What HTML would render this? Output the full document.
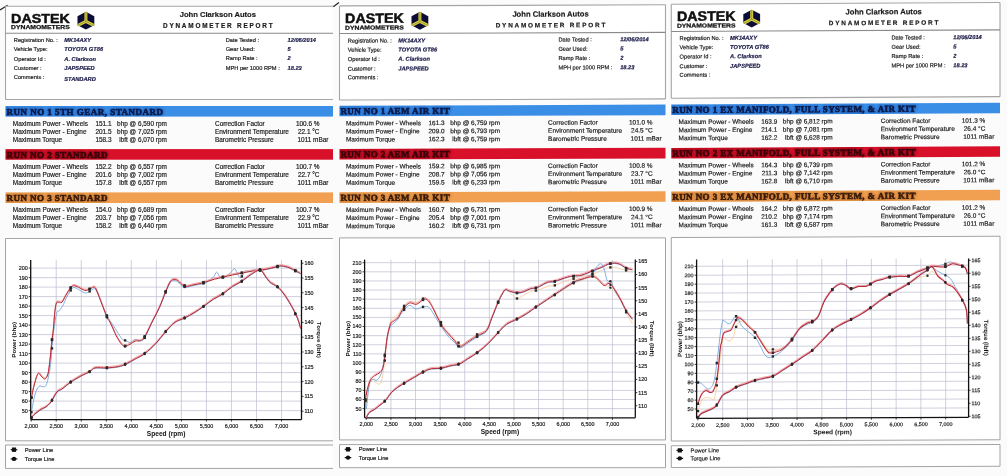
<!DOCTYPE html>
<html><head><meta charset="utf-8"><style>
html,body{margin:0;padding:0;background:#fbfbfb;width:1007px;height:476px;overflow:hidden;font-family:"Liberation Sans",sans-serif;}
svg{display:block;filter:blur(0.3px);}
</style></head><body>
<svg width="1007" height="476" viewBox="0 0 1007 476">
<rect x="0" y="0" width="1007" height="476" fill="#fbfbfb"/>
<defs><filter id="halo" x="-5%" y="-50%" width="110%" height="200%"><feGaussianBlur stdDeviation="1.3"/></filter></defs>
<line x1="0" y1="9.9" x2="7.6" y2="5.2" stroke="#222" stroke-width="1.2"/>
<line x1="333.3" y1="6.7" x2="339" y2="2.6" stroke="#222" stroke-width="1.2"/>
<g transform="matrix(1,0.0,0,1,0,-0)">
<rect x="5.5" y="6.2" width="327.5" height="93.3" fill="#fff"/>
<line x1="5.5" y1="6.2" x2="333" y2="6.2" stroke="#a4a4a4" stroke-width="1.1"/>
<line x1="5.5" y1="99.5" x2="333" y2="99.5" stroke="#a4a4a4" stroke-width="1.1"/>
<line x1="5.5" y1="6.2" x2="5.5" y2="99.5" stroke="#a4a4a4" stroke-width="1.1"/>
<line x1="5.5" y1="33.2" x2="333" y2="33.2" stroke="#8a8a8a" stroke-width="1.1"/>
<text x="11.1" y="22.7" font-family="Liberation Sans, sans-serif" font-size="13.6" font-weight="bold" font-style="normal" fill="#111" text-anchor="start" textLength="58.6" lengthAdjust="spacingAndGlyphs" stroke="#111" stroke-width="0.5">DASTEK</text>
<text x="11.1" y="29.4" font-family="Liberation Sans, sans-serif" font-size="5.8" font-weight="bold" font-style="normal" fill="#111" text-anchor="start" textLength="58.6" lengthAdjust="spacingAndGlyphs" stroke="#111" stroke-width="0.25">DYNAMOMETERS</text>
<clipPath id="hx5"><polygon points="85.9,11.8 94.3,16.25 94.3,25.15 85.9,29.6 77.5,25.15 77.5,16.25"/></clipPath>
<polygon points="85.9,11.8 94.3,16.25 94.3,25.15 85.9,29.6 77.5,25.15 77.5,16.25" fill="#0c0c38"/>
<g clip-path="url(#hx5)"><path d="M85.9,10.8 L85.9,21.3 L76.5,26.15 M85.9,21.3 L95.3,26.15" stroke="#d8d040" stroke-width="3.0" fill="none" stroke-linejoin="miter"/><path d="M85.9,10.8 L85.9,21.3 L76.5,26.15 M85.9,21.3 L95.3,26.15" stroke="#6a6a20" stroke-width="0.5" fill="none"/></g>
<text x="179.7" y="17.1" font-family="Liberation Sans, sans-serif" font-size="7.7" font-weight="bold" font-style="normal" fill="#1a1a1a" text-anchor="start" textLength="76.3" lengthAdjust="spacingAndGlyphs" stroke="#1a1a1a" stroke-width="0.18">John Clarkson Autos</text>
<text x="163" y="27.8" font-family="Liberation Sans, sans-serif" font-size="6.4" font-weight="bold" font-style="normal" fill="#1a1a1a" text-anchor="start" textLength="109.6" lengthAdjust="spacing" stroke="#1a1a1a" stroke-width="0.18">DYNAMOMETER REPORT</text>
<text x="13.8" y="42.3" font-family="Liberation Sans, sans-serif" font-size="5.7" font-weight="normal" font-style="normal" fill="#1a1a1a" text-anchor="start" stroke="#1a1a1a" stroke-width="0.18">Registration No. :</text>
<text x="64.3" y="42.3" font-family="Liberation Sans, sans-serif" font-size="5.7" font-weight="bold" font-style="italic" fill="#1c1c4a" text-anchor="start" stroke="#1c1c4a" stroke-width="0.2">MK14AXY</text>
<text x="13.8" y="51.4" font-family="Liberation Sans, sans-serif" font-size="5.7" font-weight="normal" font-style="normal" fill="#1a1a1a" text-anchor="start" stroke="#1a1a1a" stroke-width="0.18">Vehicle Type:</text>
<text x="64.3" y="51.4" font-family="Liberation Sans, sans-serif" font-size="5.7" font-weight="bold" font-style="italic" fill="#1c1c4a" text-anchor="start" stroke="#1c1c4a" stroke-width="0.2">TOYOTA GT86</text>
<text x="13.8" y="60.6" font-family="Liberation Sans, sans-serif" font-size="5.7" font-weight="normal" font-style="normal" fill="#1a1a1a" text-anchor="start" stroke="#1a1a1a" stroke-width="0.18">Operator Id :</text>
<text x="64.3" y="60.6" font-family="Liberation Sans, sans-serif" font-size="5.7" font-weight="bold" font-style="italic" fill="#1c1c4a" text-anchor="start" stroke="#1c1c4a" stroke-width="0.2">A. Clarkson</text>
<text x="13.8" y="70.3" font-family="Liberation Sans, sans-serif" font-size="5.7" font-weight="normal" font-style="normal" fill="#1a1a1a" text-anchor="start" stroke="#1a1a1a" stroke-width="0.18">Customer :</text>
<text x="64.3" y="70.3" font-family="Liberation Sans, sans-serif" font-size="5.7" font-weight="bold" font-style="italic" fill="#1c1c4a" text-anchor="start" stroke="#1c1c4a" stroke-width="0.2">JAPSPEED</text>
<text x="13.8" y="78.9" font-family="Liberation Sans, sans-serif" font-size="5.7" font-weight="normal" font-style="normal" fill="#1a1a1a" text-anchor="start" stroke="#1a1a1a" stroke-width="0.18">Comments :</text>
<text x="64.3" y="80.8" font-family="Liberation Sans, sans-serif" font-size="5.7" font-weight="bold" font-style="italic" fill="#1c1c4a" text-anchor="start" stroke="#1c1c4a" stroke-width="0.2">STANDARD</text>
<text x="225.7" y="41.8" font-family="Liberation Sans, sans-serif" font-size="5.7" font-weight="normal" font-style="normal" fill="#1a1a1a" text-anchor="start" stroke="#1a1a1a" stroke-width="0.18">Date Tested :</text>
<text x="287.5" y="41.8" font-family="Liberation Sans, sans-serif" font-size="5.7" font-weight="bold" font-style="italic" fill="#1c1c4a" text-anchor="start" stroke="#1c1c4a" stroke-width="0.2">12/06/2014</text>
<text x="225.7" y="51.1" font-family="Liberation Sans, sans-serif" font-size="5.7" font-weight="normal" font-style="normal" fill="#1a1a1a" text-anchor="start" stroke="#1a1a1a" stroke-width="0.18">Gear Used:</text>
<text x="287.5" y="51.1" font-family="Liberation Sans, sans-serif" font-size="5.7" font-weight="bold" font-style="italic" fill="#1c1c4a" text-anchor="start" stroke="#1c1c4a" stroke-width="0.2">5</text>
<text x="225.7" y="60.4" font-family="Liberation Sans, sans-serif" font-size="5.7" font-weight="normal" font-style="normal" fill="#1a1a1a" text-anchor="start" stroke="#1a1a1a" stroke-width="0.18">Ramp Rate :</text>
<text x="287.5" y="60.4" font-family="Liberation Sans, sans-serif" font-size="5.7" font-weight="bold" font-style="italic" fill="#1c1c4a" text-anchor="start" stroke="#1c1c4a" stroke-width="0.2">2</text>
<text x="225.7" y="69.8" font-family="Liberation Sans, sans-serif" font-size="5.7" font-weight="normal" font-style="normal" fill="#1a1a1a" text-anchor="start" stroke="#1a1a1a" stroke-width="0.18">MPH per 1000 RPM :</text>
<text x="287.5" y="69.8" font-family="Liberation Sans, sans-serif" font-size="5.7" font-weight="bold" font-style="italic" fill="#1c1c4a" text-anchor="start" stroke="#1c1c4a" stroke-width="0.2">18.23</text>
<rect x="5.5" y="106" width="327.5" height="10.6" fill="#3a8ee6"/>
<g clip-path="url(#bc5_0)" opacity="0.55">
<clipPath id="bc5_0"><rect x="5.5" y="106" width="327.5" height="10.6"/></clipPath>
<text x="6.5" y="114.55" font-family="Liberation Serif, sans-serif" font-size="9" font-weight="bold" font-style="normal" fill="#1450b0" text-anchor="start" textLength="156.4" lengthAdjust="spacing" stroke="#1450b0" stroke-width="2.6" filter="url(#halo)">RUN NO 1 5TH GEAR, STANDARD</text>
</g>
<text x="6.5" y="114.55" font-family="Liberation Serif, sans-serif" font-size="9" font-weight="bold" font-style="normal" fill="#0a1a48" text-anchor="start" textLength="156.4" lengthAdjust="spacing" stroke="#0a1a48" stroke-width="0.55">RUN NO 1 5TH GEAR, STANDARD</text>
<text x="12.8" y="125.75" font-family="Liberation Sans, sans-serif" font-size="6.45" font-weight="normal" font-style="normal" fill="#1a1a1a" text-anchor="start" stroke="#1a1a1a" stroke-width="0.18">Maximum Power - Wheels</text>
<text x="111.5" y="125.75" font-family="Liberation Sans, sans-serif" font-size="6.45" font-weight="normal" font-style="normal" fill="#1a1a1a" text-anchor="end" stroke="#1a1a1a" stroke-width="0.18">151.1</text>
<text x="166.9" y="125.75" font-family="Liberation Sans, sans-serif" font-size="6.45" font-weight="normal" font-style="normal" fill="#1a1a1a" text-anchor="end" stroke="#1a1a1a" stroke-width="0.18">bhp @ 6,590 rpm</text>
<text x="215" y="125.75" font-family="Liberation Sans, sans-serif" font-size="6.45" font-weight="normal" font-style="normal" fill="#1a1a1a" text-anchor="start" stroke="#1a1a1a" stroke-width="0.18">Correction Factor</text>
<text x="319.5" y="125.75" font-family="Liberation Sans, sans-serif" font-size="6.45" font-weight="normal" font-style="normal" fill="#1a1a1a" text-anchor="end" stroke="#1a1a1a" stroke-width="0.18">100.6 %</text>
<text x="12.8" y="133.85" font-family="Liberation Sans, sans-serif" font-size="6.45" font-weight="normal" font-style="normal" fill="#1a1a1a" text-anchor="start" stroke="#1a1a1a" stroke-width="0.18">Maximum Power - Engine</text>
<text x="111.5" y="133.85" font-family="Liberation Sans, sans-serif" font-size="6.45" font-weight="normal" font-style="normal" fill="#1a1a1a" text-anchor="end" stroke="#1a1a1a" stroke-width="0.18">201.5</text>
<text x="166.9" y="133.85" font-family="Liberation Sans, sans-serif" font-size="6.45" font-weight="normal" font-style="normal" fill="#1a1a1a" text-anchor="end" stroke="#1a1a1a" stroke-width="0.18">bhp @ 7,025 rpm</text>
<text x="215" y="133.85" font-family="Liberation Sans, sans-serif" font-size="6.45" font-weight="normal" font-style="normal" fill="#1a1a1a" text-anchor="start" stroke="#1a1a1a" stroke-width="0.18">Environment Temperature</text>
<text x="319.5" y="133.85" font-family="Liberation Sans, sans-serif" font-size="6.45" font-weight="normal" font-style="normal" fill="#1a1a1a" text-anchor="end" stroke="#1a1a1a" stroke-width="0.18">22.1 °C</text>
<text x="12.8" y="141.95" font-family="Liberation Sans, sans-serif" font-size="6.45" font-weight="normal" font-style="normal" fill="#1a1a1a" text-anchor="start" stroke="#1a1a1a" stroke-width="0.18">Maximum Torque</text>
<text x="111.5" y="141.95" font-family="Liberation Sans, sans-serif" font-size="6.45" font-weight="normal" font-style="normal" fill="#1a1a1a" text-anchor="end" stroke="#1a1a1a" stroke-width="0.18">158.3</text>
<text x="166.9" y="141.95" font-family="Liberation Sans, sans-serif" font-size="6.45" font-weight="normal" font-style="normal" fill="#1a1a1a" text-anchor="end" stroke="#1a1a1a" stroke-width="0.18">lbft @ 6,070 rpm</text>
<text x="215" y="141.95" font-family="Liberation Sans, sans-serif" font-size="6.45" font-weight="normal" font-style="normal" fill="#1a1a1a" text-anchor="start" stroke="#1a1a1a" stroke-width="0.18">Barometric Pressure</text>
<text x="328.5" y="141.95" font-family="Liberation Sans, sans-serif" font-size="6.45" font-weight="normal" font-style="normal" fill="#1a1a1a" text-anchor="end" stroke="#1a1a1a" stroke-width="0.18">1011 mBar</text>
<rect x="5.5" y="149.1" width="327.5" height="10.6" fill="#d8102a"/>
<g clip-path="url(#bc5_1)" opacity="0.55">
<clipPath id="bc5_1"><rect x="5.5" y="149.1" width="327.5" height="10.6"/></clipPath>
<text x="6.5" y="157.65" font-family="Liberation Serif, sans-serif" font-size="9" font-weight="bold" font-style="normal" fill="#780010" text-anchor="start" textLength="100.9" lengthAdjust="spacing" stroke="#780010" stroke-width="2.6" filter="url(#halo)">RUN NO 2 STANDARD</text>
</g>
<text x="6.5" y="157.65" font-family="Liberation Serif, sans-serif" font-size="9" font-weight="bold" font-style="normal" fill="#3a0008" text-anchor="start" textLength="100.9" lengthAdjust="spacing" stroke="#3a0008" stroke-width="0.55">RUN NO 2 STANDARD</text>
<text x="12.8" y="168.85" font-family="Liberation Sans, sans-serif" font-size="6.45" font-weight="normal" font-style="normal" fill="#1a1a1a" text-anchor="start" stroke="#1a1a1a" stroke-width="0.18">Maximum Power - Wheels</text>
<text x="111.5" y="168.85" font-family="Liberation Sans, sans-serif" font-size="6.45" font-weight="normal" font-style="normal" fill="#1a1a1a" text-anchor="end" stroke="#1a1a1a" stroke-width="0.18">152.2</text>
<text x="166.9" y="168.85" font-family="Liberation Sans, sans-serif" font-size="6.45" font-weight="normal" font-style="normal" fill="#1a1a1a" text-anchor="end" stroke="#1a1a1a" stroke-width="0.18">bhp @ 6,557 rpm</text>
<text x="215" y="168.85" font-family="Liberation Sans, sans-serif" font-size="6.45" font-weight="normal" font-style="normal" fill="#1a1a1a" text-anchor="start" stroke="#1a1a1a" stroke-width="0.18">Correction Factor</text>
<text x="319.5" y="168.85" font-family="Liberation Sans, sans-serif" font-size="6.45" font-weight="normal" font-style="normal" fill="#1a1a1a" text-anchor="end" stroke="#1a1a1a" stroke-width="0.18">100.7 %</text>
<text x="12.8" y="176.95" font-family="Liberation Sans, sans-serif" font-size="6.45" font-weight="normal" font-style="normal" fill="#1a1a1a" text-anchor="start" stroke="#1a1a1a" stroke-width="0.18">Maximum Power - Engine</text>
<text x="111.5" y="176.95" font-family="Liberation Sans, sans-serif" font-size="6.45" font-weight="normal" font-style="normal" fill="#1a1a1a" text-anchor="end" stroke="#1a1a1a" stroke-width="0.18">201.6</text>
<text x="166.9" y="176.95" font-family="Liberation Sans, sans-serif" font-size="6.45" font-weight="normal" font-style="normal" fill="#1a1a1a" text-anchor="end" stroke="#1a1a1a" stroke-width="0.18">bhp @ 7,002 rpm</text>
<text x="215" y="176.95" font-family="Liberation Sans, sans-serif" font-size="6.45" font-weight="normal" font-style="normal" fill="#1a1a1a" text-anchor="start" stroke="#1a1a1a" stroke-width="0.18">Environment Temperature</text>
<text x="319.5" y="176.95" font-family="Liberation Sans, sans-serif" font-size="6.45" font-weight="normal" font-style="normal" fill="#1a1a1a" text-anchor="end" stroke="#1a1a1a" stroke-width="0.18">22.7 °C</text>
<text x="12.8" y="185.05" font-family="Liberation Sans, sans-serif" font-size="6.45" font-weight="normal" font-style="normal" fill="#1a1a1a" text-anchor="start" stroke="#1a1a1a" stroke-width="0.18">Maximum Torque</text>
<text x="111.5" y="185.05" font-family="Liberation Sans, sans-serif" font-size="6.45" font-weight="normal" font-style="normal" fill="#1a1a1a" text-anchor="end" stroke="#1a1a1a" stroke-width="0.18">157.8</text>
<text x="166.9" y="185.05" font-family="Liberation Sans, sans-serif" font-size="6.45" font-weight="normal" font-style="normal" fill="#1a1a1a" text-anchor="end" stroke="#1a1a1a" stroke-width="0.18">lbft @ 6,557 rpm</text>
<text x="215" y="185.05" font-family="Liberation Sans, sans-serif" font-size="6.45" font-weight="normal" font-style="normal" fill="#1a1a1a" text-anchor="start" stroke="#1a1a1a" stroke-width="0.18">Barometric Pressure</text>
<text x="328.5" y="185.05" font-family="Liberation Sans, sans-serif" font-size="6.45" font-weight="normal" font-style="normal" fill="#1a1a1a" text-anchor="end" stroke="#1a1a1a" stroke-width="0.18">1011 mBar</text>
<rect x="5.5" y="192.4" width="327.5" height="10.6" fill="#f0a050"/>
<g clip-path="url(#bc5_2)" opacity="0.55">
<clipPath id="bc5_2"><rect x="5.5" y="192.4" width="327.5" height="10.6"/></clipPath>
<text x="6.5" y="200.95" font-family="Liberation Serif, sans-serif" font-size="9" font-weight="bold" font-style="normal" fill="#b06828" text-anchor="start" textLength="100.9" lengthAdjust="spacing" stroke="#b06828" stroke-width="2.6" filter="url(#halo)">RUN NO 3 STANDARD</text>
</g>
<text x="6.5" y="200.95" font-family="Liberation Serif, sans-serif" font-size="9" font-weight="bold" font-style="normal" fill="#3a1a08" text-anchor="start" textLength="100.9" lengthAdjust="spacing" stroke="#3a1a08" stroke-width="0.55">RUN NO 3 STANDARD</text>
<text x="12.8" y="212.15" font-family="Liberation Sans, sans-serif" font-size="6.45" font-weight="normal" font-style="normal" fill="#1a1a1a" text-anchor="start" stroke="#1a1a1a" stroke-width="0.18">Maximum Power - Wheels</text>
<text x="111.5" y="212.15" font-family="Liberation Sans, sans-serif" font-size="6.45" font-weight="normal" font-style="normal" fill="#1a1a1a" text-anchor="end" stroke="#1a1a1a" stroke-width="0.18">154.0</text>
<text x="166.9" y="212.15" font-family="Liberation Sans, sans-serif" font-size="6.45" font-weight="normal" font-style="normal" fill="#1a1a1a" text-anchor="end" stroke="#1a1a1a" stroke-width="0.18">bhp @ 6,689 rpm</text>
<text x="215" y="212.15" font-family="Liberation Sans, sans-serif" font-size="6.45" font-weight="normal" font-style="normal" fill="#1a1a1a" text-anchor="start" stroke="#1a1a1a" stroke-width="0.18">Correction Factor</text>
<text x="319.5" y="212.15" font-family="Liberation Sans, sans-serif" font-size="6.45" font-weight="normal" font-style="normal" fill="#1a1a1a" text-anchor="end" stroke="#1a1a1a" stroke-width="0.18">100.7 %</text>
<text x="12.8" y="220.25" font-family="Liberation Sans, sans-serif" font-size="6.45" font-weight="normal" font-style="normal" fill="#1a1a1a" text-anchor="start" stroke="#1a1a1a" stroke-width="0.18">Maximum Power - Engine</text>
<text x="111.5" y="220.25" font-family="Liberation Sans, sans-serif" font-size="6.45" font-weight="normal" font-style="normal" fill="#1a1a1a" text-anchor="end" stroke="#1a1a1a" stroke-width="0.18">203.7</text>
<text x="166.9" y="220.25" font-family="Liberation Sans, sans-serif" font-size="6.45" font-weight="normal" font-style="normal" fill="#1a1a1a" text-anchor="end" stroke="#1a1a1a" stroke-width="0.18">bhp @ 7,056 rpm</text>
<text x="215" y="220.25" font-family="Liberation Sans, sans-serif" font-size="6.45" font-weight="normal" font-style="normal" fill="#1a1a1a" text-anchor="start" stroke="#1a1a1a" stroke-width="0.18">Environment Temperature</text>
<text x="319.5" y="220.25" font-family="Liberation Sans, sans-serif" font-size="6.45" font-weight="normal" font-style="normal" fill="#1a1a1a" text-anchor="end" stroke="#1a1a1a" stroke-width="0.18">22.9 °C</text>
<text x="12.8" y="228.35" font-family="Liberation Sans, sans-serif" font-size="6.45" font-weight="normal" font-style="normal" fill="#1a1a1a" text-anchor="start" stroke="#1a1a1a" stroke-width="0.18">Maximum Torque</text>
<text x="111.5" y="228.35" font-family="Liberation Sans, sans-serif" font-size="6.45" font-weight="normal" font-style="normal" fill="#1a1a1a" text-anchor="end" stroke="#1a1a1a" stroke-width="0.18">158.2</text>
<text x="166.9" y="228.35" font-family="Liberation Sans, sans-serif" font-size="6.45" font-weight="normal" font-style="normal" fill="#1a1a1a" text-anchor="end" stroke="#1a1a1a" stroke-width="0.18">lbft @ 6,440 rpm</text>
<text x="215" y="228.35" font-family="Liberation Sans, sans-serif" font-size="6.45" font-weight="normal" font-style="normal" fill="#1a1a1a" text-anchor="start" stroke="#1a1a1a" stroke-width="0.18">Barometric Pressure</text>
<text x="328.5" y="228.35" font-family="Liberation Sans, sans-serif" font-size="6.45" font-weight="normal" font-style="normal" fill="#1a1a1a" text-anchor="end" stroke="#1a1a1a" stroke-width="0.18">1011 mBar</text>
</g>
<g transform="matrix(1,0.0,0,1,0,-0)">
<rect x="5.5" y="238.5" width="327.5" height="202.3" fill="#fff"/>
<line x1="5.5" y1="238.5" x2="333" y2="238.5" stroke="#a4a4a4" stroke-width="1"/>
<line x1="5.5" y1="440.8" x2="333" y2="440.8" stroke="#a4a4a4" stroke-width="1"/>
<line x1="5.5" y1="238.5" x2="5.5" y2="440.8" stroke="#a4a4a4" stroke-width="1"/>
<rect x="5.5" y="445" width="327.5" height="23.4" fill="#fff"/>
<line x1="5.5" y1="445" x2="333" y2="445" stroke="#a4a4a4" stroke-width="1"/>
<line x1="5.5" y1="468.4" x2="333" y2="468.4" stroke="#a4a4a4" stroke-width="1"/>
<line x1="5.5" y1="445" x2="5.5" y2="468.4" stroke="#a4a4a4" stroke-width="1"/>
<rect x="11.9" y="447.5" width="4.2" height="4.4" fill="#111"/>
<line x1="10.7" y1="449.7" x2="17.3" y2="449.7" stroke="#111" stroke-width="1.2"/>
<circle cx="14" cy="458.9" r="2.2" fill="#111"/>
<line x1="10.7" y1="458.9" x2="17.3" y2="458.9" stroke="#111" stroke-width="1.2"/>
<text x="24.8" y="451.8" font-family="Liberation Sans, sans-serif" font-size="5.7" font-weight="normal" font-style="normal" fill="#1a1a1a" text-anchor="start" stroke="#1a1a1a" stroke-width="0.18">Power Line</text>
<text x="24.8" y="461" font-family="Liberation Sans, sans-serif" font-size="5.7" font-weight="normal" font-style="normal" fill="#1a1a1a" text-anchor="start" stroke="#1a1a1a" stroke-width="0.18">Torque Line</text>
<line x1="56.23" y1="260" x2="56.23" y2="419.6" stroke="#bcbcd0" stroke-width="0.7"/>
<line x1="81.26" y1="260" x2="81.26" y2="419.6" stroke="#bcbcd0" stroke-width="0.7"/>
<line x1="106.29" y1="260" x2="106.29" y2="419.6" stroke="#bcbcd0" stroke-width="0.7"/>
<line x1="131.32" y1="260" x2="131.32" y2="419.6" stroke="#bcbcd0" stroke-width="0.7"/>
<line x1="156.35" y1="260" x2="156.35" y2="419.6" stroke="#bcbcd0" stroke-width="0.7"/>
<line x1="181.38" y1="260" x2="181.38" y2="419.6" stroke="#bcbcd0" stroke-width="0.7"/>
<line x1="206.41" y1="260" x2="206.41" y2="419.6" stroke="#bcbcd0" stroke-width="0.7"/>
<line x1="231.44" y1="260" x2="231.44" y2="419.6" stroke="#bcbcd0" stroke-width="0.7"/>
<line x1="256.47" y1="260" x2="256.47" y2="419.6" stroke="#bcbcd0" stroke-width="0.7"/>
<line x1="281.5" y1="260" x2="281.5" y2="419.6" stroke="#bcbcd0" stroke-width="0.7"/>
<line x1="30.7" y1="410.6" x2="301.5" y2="410.6" stroke="#bcbcd0" stroke-width="0.7"/>
<line x1="30.7" y1="401.1" x2="301.5" y2="401.1" stroke="#bcbcd0" stroke-width="0.7"/>
<line x1="30.7" y1="391.6" x2="301.5" y2="391.6" stroke="#bcbcd0" stroke-width="0.7"/>
<line x1="30.7" y1="382.1" x2="301.5" y2="382.1" stroke="#bcbcd0" stroke-width="0.7"/>
<line x1="30.7" y1="372.6" x2="301.5" y2="372.6" stroke="#bcbcd0" stroke-width="0.7"/>
<line x1="30.7" y1="363.1" x2="301.5" y2="363.1" stroke="#bcbcd0" stroke-width="0.7"/>
<line x1="30.7" y1="353.6" x2="301.5" y2="353.6" stroke="#bcbcd0" stroke-width="0.7"/>
<line x1="30.7" y1="344.1" x2="301.5" y2="344.1" stroke="#bcbcd0" stroke-width="0.7"/>
<line x1="30.7" y1="334.6" x2="301.5" y2="334.6" stroke="#bcbcd0" stroke-width="0.7"/>
<line x1="30.7" y1="325.1" x2="301.5" y2="325.1" stroke="#bcbcd0" stroke-width="0.7"/>
<line x1="30.7" y1="315.6" x2="301.5" y2="315.6" stroke="#bcbcd0" stroke-width="0.7"/>
<line x1="30.7" y1="306.1" x2="301.5" y2="306.1" stroke="#bcbcd0" stroke-width="0.7"/>
<line x1="30.7" y1="296.6" x2="301.5" y2="296.6" stroke="#bcbcd0" stroke-width="0.7"/>
<line x1="30.7" y1="287.1" x2="301.5" y2="287.1" stroke="#bcbcd0" stroke-width="0.7"/>
<line x1="30.7" y1="277.6" x2="301.5" y2="277.6" stroke="#bcbcd0" stroke-width="0.7"/>
<line x1="30.7" y1="268.1" x2="301.5" y2="268.1" stroke="#bcbcd0" stroke-width="0.7"/>
<line x1="30.7" y1="260" x2="30.7" y2="419.6" stroke="#111" stroke-width="1.3"/>
<line x1="30.7" y1="419.6" x2="301.5" y2="419.6" stroke="#111" stroke-width="1.3"/>
<line x1="301.5" y1="260" x2="301.5" y2="419.6" stroke="#111" stroke-width="1.3"/>
<line x1="28.7" y1="410.6" x2="30.7" y2="410.6" stroke="#111" stroke-width="0.8"/>
<text x="27.7" y="412.5" font-family="Liberation Sans, sans-serif" font-size="5.4" font-weight="normal" font-style="normal" fill="#1a1a1a" text-anchor="end" stroke="#1a1a1a" stroke-width="0.18">50</text>
<line x1="28.7" y1="401.1" x2="30.7" y2="401.1" stroke="#111" stroke-width="0.8"/>
<text x="27.7" y="403" font-family="Liberation Sans, sans-serif" font-size="5.4" font-weight="normal" font-style="normal" fill="#1a1a1a" text-anchor="end" stroke="#1a1a1a" stroke-width="0.18">60</text>
<line x1="28.7" y1="391.6" x2="30.7" y2="391.6" stroke="#111" stroke-width="0.8"/>
<text x="27.7" y="393.5" font-family="Liberation Sans, sans-serif" font-size="5.4" font-weight="normal" font-style="normal" fill="#1a1a1a" text-anchor="end" stroke="#1a1a1a" stroke-width="0.18">70</text>
<line x1="28.7" y1="382.1" x2="30.7" y2="382.1" stroke="#111" stroke-width="0.8"/>
<text x="27.7" y="384" font-family="Liberation Sans, sans-serif" font-size="5.4" font-weight="normal" font-style="normal" fill="#1a1a1a" text-anchor="end" stroke="#1a1a1a" stroke-width="0.18">80</text>
<line x1="28.7" y1="372.6" x2="30.7" y2="372.6" stroke="#111" stroke-width="0.8"/>
<text x="27.7" y="374.5" font-family="Liberation Sans, sans-serif" font-size="5.4" font-weight="normal" font-style="normal" fill="#1a1a1a" text-anchor="end" stroke="#1a1a1a" stroke-width="0.18">90</text>
<line x1="28.7" y1="363.1" x2="30.7" y2="363.1" stroke="#111" stroke-width="0.8"/>
<text x="27.7" y="365" font-family="Liberation Sans, sans-serif" font-size="5.4" font-weight="normal" font-style="normal" fill="#1a1a1a" text-anchor="end" stroke="#1a1a1a" stroke-width="0.18">100</text>
<line x1="28.7" y1="353.6" x2="30.7" y2="353.6" stroke="#111" stroke-width="0.8"/>
<text x="27.7" y="355.5" font-family="Liberation Sans, sans-serif" font-size="5.4" font-weight="normal" font-style="normal" fill="#1a1a1a" text-anchor="end" stroke="#1a1a1a" stroke-width="0.18">110</text>
<line x1="28.7" y1="344.1" x2="30.7" y2="344.1" stroke="#111" stroke-width="0.8"/>
<text x="27.7" y="346" font-family="Liberation Sans, sans-serif" font-size="5.4" font-weight="normal" font-style="normal" fill="#1a1a1a" text-anchor="end" stroke="#1a1a1a" stroke-width="0.18">120</text>
<line x1="28.7" y1="334.6" x2="30.7" y2="334.6" stroke="#111" stroke-width="0.8"/>
<text x="27.7" y="336.5" font-family="Liberation Sans, sans-serif" font-size="5.4" font-weight="normal" font-style="normal" fill="#1a1a1a" text-anchor="end" stroke="#1a1a1a" stroke-width="0.18">130</text>
<line x1="28.7" y1="325.1" x2="30.7" y2="325.1" stroke="#111" stroke-width="0.8"/>
<text x="27.7" y="327" font-family="Liberation Sans, sans-serif" font-size="5.4" font-weight="normal" font-style="normal" fill="#1a1a1a" text-anchor="end" stroke="#1a1a1a" stroke-width="0.18">140</text>
<line x1="28.7" y1="315.6" x2="30.7" y2="315.6" stroke="#111" stroke-width="0.8"/>
<text x="27.7" y="317.5" font-family="Liberation Sans, sans-serif" font-size="5.4" font-weight="normal" font-style="normal" fill="#1a1a1a" text-anchor="end" stroke="#1a1a1a" stroke-width="0.18">150</text>
<line x1="28.7" y1="306.1" x2="30.7" y2="306.1" stroke="#111" stroke-width="0.8"/>
<text x="27.7" y="308" font-family="Liberation Sans, sans-serif" font-size="5.4" font-weight="normal" font-style="normal" fill="#1a1a1a" text-anchor="end" stroke="#1a1a1a" stroke-width="0.18">160</text>
<line x1="28.7" y1="296.6" x2="30.7" y2="296.6" stroke="#111" stroke-width="0.8"/>
<text x="27.7" y="298.5" font-family="Liberation Sans, sans-serif" font-size="5.4" font-weight="normal" font-style="normal" fill="#1a1a1a" text-anchor="end" stroke="#1a1a1a" stroke-width="0.18">170</text>
<line x1="28.7" y1="287.1" x2="30.7" y2="287.1" stroke="#111" stroke-width="0.8"/>
<text x="27.7" y="289" font-family="Liberation Sans, sans-serif" font-size="5.4" font-weight="normal" font-style="normal" fill="#1a1a1a" text-anchor="end" stroke="#1a1a1a" stroke-width="0.18">180</text>
<line x1="28.7" y1="277.6" x2="30.7" y2="277.6" stroke="#111" stroke-width="0.8"/>
<text x="27.7" y="279.5" font-family="Liberation Sans, sans-serif" font-size="5.4" font-weight="normal" font-style="normal" fill="#1a1a1a" text-anchor="end" stroke="#1a1a1a" stroke-width="0.18">190</text>
<line x1="28.7" y1="268.1" x2="30.7" y2="268.1" stroke="#111" stroke-width="0.8"/>
<text x="27.7" y="270" font-family="Liberation Sans, sans-serif" font-size="5.4" font-weight="normal" font-style="normal" fill="#1a1a1a" text-anchor="end" stroke="#1a1a1a" stroke-width="0.18">200</text>
<line x1="301.5" y1="411.2" x2="303.5" y2="411.2" stroke="#111" stroke-width="0.8"/>
<text x="304.5" y="413.1" font-family="Liberation Sans, sans-serif" font-size="5.4" font-weight="normal" font-style="normal" fill="#1a1a1a" text-anchor="start" stroke="#1a1a1a" stroke-width="0.18">110</text>
<line x1="301.5" y1="396.4" x2="303.5" y2="396.4" stroke="#111" stroke-width="0.8"/>
<text x="304.5" y="398.3" font-family="Liberation Sans, sans-serif" font-size="5.4" font-weight="normal" font-style="normal" fill="#1a1a1a" text-anchor="start" stroke="#1a1a1a" stroke-width="0.18">115</text>
<line x1="301.5" y1="381.6" x2="303.5" y2="381.6" stroke="#111" stroke-width="0.8"/>
<text x="304.5" y="383.5" font-family="Liberation Sans, sans-serif" font-size="5.4" font-weight="normal" font-style="normal" fill="#1a1a1a" text-anchor="start" stroke="#1a1a1a" stroke-width="0.18">120</text>
<line x1="301.5" y1="366.8" x2="303.5" y2="366.8" stroke="#111" stroke-width="0.8"/>
<text x="304.5" y="368.7" font-family="Liberation Sans, sans-serif" font-size="5.4" font-weight="normal" font-style="normal" fill="#1a1a1a" text-anchor="start" stroke="#1a1a1a" stroke-width="0.18">125</text>
<line x1="301.5" y1="352" x2="303.5" y2="352" stroke="#111" stroke-width="0.8"/>
<text x="304.5" y="353.9" font-family="Liberation Sans, sans-serif" font-size="5.4" font-weight="normal" font-style="normal" fill="#1a1a1a" text-anchor="start" stroke="#1a1a1a" stroke-width="0.18">130</text>
<line x1="301.5" y1="337.2" x2="303.5" y2="337.2" stroke="#111" stroke-width="0.8"/>
<text x="304.5" y="339.1" font-family="Liberation Sans, sans-serif" font-size="5.4" font-weight="normal" font-style="normal" fill="#1a1a1a" text-anchor="start" stroke="#1a1a1a" stroke-width="0.18">135</text>
<line x1="301.5" y1="322.4" x2="303.5" y2="322.4" stroke="#111" stroke-width="0.8"/>
<text x="304.5" y="324.3" font-family="Liberation Sans, sans-serif" font-size="5.4" font-weight="normal" font-style="normal" fill="#1a1a1a" text-anchor="start" stroke="#1a1a1a" stroke-width="0.18">140</text>
<line x1="301.5" y1="307.6" x2="303.5" y2="307.6" stroke="#111" stroke-width="0.8"/>
<text x="304.5" y="309.5" font-family="Liberation Sans, sans-serif" font-size="5.4" font-weight="normal" font-style="normal" fill="#1a1a1a" text-anchor="start" stroke="#1a1a1a" stroke-width="0.18">145</text>
<line x1="301.5" y1="292.8" x2="303.5" y2="292.8" stroke="#111" stroke-width="0.8"/>
<text x="304.5" y="294.7" font-family="Liberation Sans, sans-serif" font-size="5.4" font-weight="normal" font-style="normal" fill="#1a1a1a" text-anchor="start" stroke="#1a1a1a" stroke-width="0.18">150</text>
<line x1="301.5" y1="278" x2="303.5" y2="278" stroke="#111" stroke-width="0.8"/>
<text x="304.5" y="279.9" font-family="Liberation Sans, sans-serif" font-size="5.4" font-weight="normal" font-style="normal" fill="#1a1a1a" text-anchor="start" stroke="#1a1a1a" stroke-width="0.18">155</text>
<line x1="301.5" y1="263.2" x2="303.5" y2="263.2" stroke="#111" stroke-width="0.8"/>
<text x="304.5" y="265.1" font-family="Liberation Sans, sans-serif" font-size="5.4" font-weight="normal" font-style="normal" fill="#1a1a1a" text-anchor="start" stroke="#1a1a1a" stroke-width="0.18">160</text>
<line x1="31.2" y1="419.6" x2="31.2" y2="421.6" stroke="#111" stroke-width="0.8"/>
<text x="31.2" y="428.2" font-family="Liberation Sans, sans-serif" font-size="5.4" font-weight="normal" font-style="normal" fill="#1a1a1a" text-anchor="middle" stroke="#1a1a1a" stroke-width="0.18">2,000</text>
<line x1="56.23" y1="419.6" x2="56.23" y2="421.6" stroke="#111" stroke-width="0.8"/>
<text x="56.23" y="428.2" font-family="Liberation Sans, sans-serif" font-size="5.4" font-weight="normal" font-style="normal" fill="#1a1a1a" text-anchor="middle" stroke="#1a1a1a" stroke-width="0.18">2,500</text>
<line x1="81.26" y1="419.6" x2="81.26" y2="421.6" stroke="#111" stroke-width="0.8"/>
<text x="81.26" y="428.2" font-family="Liberation Sans, sans-serif" font-size="5.4" font-weight="normal" font-style="normal" fill="#1a1a1a" text-anchor="middle" stroke="#1a1a1a" stroke-width="0.18">3,000</text>
<line x1="106.29" y1="419.6" x2="106.29" y2="421.6" stroke="#111" stroke-width="0.8"/>
<text x="106.29" y="428.2" font-family="Liberation Sans, sans-serif" font-size="5.4" font-weight="normal" font-style="normal" fill="#1a1a1a" text-anchor="middle" stroke="#1a1a1a" stroke-width="0.18">3,500</text>
<line x1="131.32" y1="419.6" x2="131.32" y2="421.6" stroke="#111" stroke-width="0.8"/>
<text x="131.32" y="428.2" font-family="Liberation Sans, sans-serif" font-size="5.4" font-weight="normal" font-style="normal" fill="#1a1a1a" text-anchor="middle" stroke="#1a1a1a" stroke-width="0.18">4,000</text>
<line x1="156.35" y1="419.6" x2="156.35" y2="421.6" stroke="#111" stroke-width="0.8"/>
<text x="156.35" y="428.2" font-family="Liberation Sans, sans-serif" font-size="5.4" font-weight="normal" font-style="normal" fill="#1a1a1a" text-anchor="middle" stroke="#1a1a1a" stroke-width="0.18">4,500</text>
<line x1="181.38" y1="419.6" x2="181.38" y2="421.6" stroke="#111" stroke-width="0.8"/>
<text x="181.38" y="428.2" font-family="Liberation Sans, sans-serif" font-size="5.4" font-weight="normal" font-style="normal" fill="#1a1a1a" text-anchor="middle" stroke="#1a1a1a" stroke-width="0.18">5,000</text>
<line x1="206.41" y1="419.6" x2="206.41" y2="421.6" stroke="#111" stroke-width="0.8"/>
<text x="206.41" y="428.2" font-family="Liberation Sans, sans-serif" font-size="5.4" font-weight="normal" font-style="normal" fill="#1a1a1a" text-anchor="middle" stroke="#1a1a1a" stroke-width="0.18">5,500</text>
<line x1="231.44" y1="419.6" x2="231.44" y2="421.6" stroke="#111" stroke-width="0.8"/>
<text x="231.44" y="428.2" font-family="Liberation Sans, sans-serif" font-size="5.4" font-weight="normal" font-style="normal" fill="#1a1a1a" text-anchor="middle" stroke="#1a1a1a" stroke-width="0.18">6,000</text>
<line x1="256.47" y1="419.6" x2="256.47" y2="421.6" stroke="#111" stroke-width="0.8"/>
<text x="256.47" y="428.2" font-family="Liberation Sans, sans-serif" font-size="5.4" font-weight="normal" font-style="normal" fill="#1a1a1a" text-anchor="middle" stroke="#1a1a1a" stroke-width="0.18">6,500</text>
<line x1="281.5" y1="419.6" x2="281.5" y2="421.6" stroke="#111" stroke-width="0.8"/>
<text x="281.5" y="428.2" font-family="Liberation Sans, sans-serif" font-size="5.4" font-weight="normal" font-style="normal" fill="#1a1a1a" text-anchor="middle" stroke="#1a1a1a" stroke-width="0.18">7,000</text>
<text x="166.1" y="436" font-family="Liberation Sans, sans-serif" font-size="6.6" font-weight="bold" font-style="normal" fill="#111" text-anchor="middle">Speed (rpm)</text>
<text x="0" y="0" transform="translate(16.2,339.8) rotate(-90)" font-family="Liberation Sans, sans-serif" font-size="6.2" font-weight="bold" fill="#111" text-anchor="middle">Power (bhp)</text>
<text x="0" y="0" transform="translate(316.5,339.8) rotate(90)" font-family="Liberation Sans, sans-serif" font-size="6.2" font-weight="bold" fill="#111" text-anchor="middle">Torque (lbft)</text>
<path d="M31.4,397.3 C31.83,395.3 33.07,388.97 34,385.3 C34.93,381.63 36.17,377.37 37,375.3 C37.83,373.23 38.17,372.72 39,372.9 C39.83,373.08 41,375.48 42,376.4 C43,377.32 44,378.9 45,378.4 C46,377.9 47.17,376.57 48,373.4 C48.83,370.23 49.33,365.07 50,359.4 C50.67,353.73 51.45,344.4 52,339.4 C52.55,334.4 52.82,334.12 53.3,329.4 C53.78,324.68 54.37,315.6 54.9,311.1 C55.43,306.6 55.83,303.98 56.5,302.4 C57.17,300.82 57.98,301.73 58.9,301.6 C59.82,301.47 60.82,302.77 62,301.6 C63.18,300.43 64.55,296.97 66,294.6 C67.45,292.23 69.4,288.98 70.7,287.4 C72,285.82 72.5,285.22 73.8,285.1 C75.1,284.98 76.67,285.92 78.5,286.7 C80.33,287.48 82.95,289.47 84.8,289.8 C86.65,290.13 88.15,289.22 89.6,288.7 C91.05,288.18 92.45,286.77 93.5,286.7 C94.55,286.63 94.72,286.07 95.9,288.3 C97.08,290.53 98.77,295.38 100.6,300.1 C102.43,304.82 105.33,313.02 106.9,316.6 C108.47,320.18 108.43,318.48 110,321.6 C111.57,324.72 114.37,331.62 116.3,335.3 C118.23,338.98 120.13,341.95 121.6,343.7 C123.07,345.45 123.7,345.8 125.1,345.8 C126.5,345.8 128.32,344.58 130,343.7 C131.68,342.82 133.45,341.1 135.2,340.5 C136.95,339.9 138.92,340.8 140.5,340.1 C142.08,339.4 142.78,339.38 144.7,336.3 C146.62,333.22 149.55,326.5 152,321.6 C154.45,316.7 157.12,311.97 159.4,306.9 C161.68,301.83 163.95,295.4 165.7,291.2 C167.45,287 168.68,283.7 169.9,281.7 C171.12,279.7 171.78,279.55 173,279.2 C174.22,278.85 175.8,278.9 177.2,279.6 C178.6,280.3 180,282.35 181.4,283.4 C182.8,284.45 183.5,285.77 185.6,285.9 C187.7,286.03 191.02,284.83 194,284.2 C196.98,283.57 200.08,283.03 203.5,282.1 C206.92,281.17 211.27,279.5 214.5,278.6 C217.73,277.7 219.93,277.4 222.9,276.7 C225.87,276 229.15,275.08 232.3,274.4 C235.45,273.72 238.82,273.18 241.8,272.6 C244.78,272.02 247.23,271.42 250.2,270.9 C253.17,270.38 256.98,269.87 259.6,269.5 C262.22,269.13 262.92,269.28 265.9,268.7 C268.88,268.12 274.87,266.57 277.5,266 C280.13,265.43 279.78,265.13 281.7,265.3 C283.62,265.47 286.73,266.18 289,267 C291.27,267.82 293.37,269.22 295.3,270.2 C297.23,271.18 299.72,272.45 300.6,272.9" fill="none" stroke="#f5c080" stroke-width="0.7"/>
<path d="M31.4,412.2 C32,409.22 33.73,398.62 35,394.3 C36.27,389.98 37.67,387.57 39,386.3 C40.33,385.03 41.83,386.85 43,386.7 C44.17,386.55 45,387.45 46,385.4 C47,383.35 48.17,378.57 49,374.4 C49.83,370.23 50.33,366.73 51,360.4 C51.67,354.07 52.08,344.18 53,336.4 C53.92,328.62 55.4,318.02 56.5,313.7 C57.6,309.38 58.42,312.08 59.6,310.5 C60.78,308.92 62.53,306.22 63.6,304.2 C64.67,302.18 64.82,300.7 66,298.4 C67.18,296.1 69.4,292.23 70.7,290.4 C72,288.57 72.5,287.57 73.8,287.4 C75.1,287.23 76.67,288.48 78.5,289.4 C80.33,290.32 82.95,292.57 84.8,292.9 C86.65,293.23 88.15,292.07 89.6,291.4 C91.05,290.73 92.45,289.15 93.5,288.9 C94.55,288.65 94.72,287.98 95.9,289.9 C97.08,291.82 98.77,296.15 100.6,300.4 C102.43,304.65 104.8,311.23 106.9,315.4 C109,319.57 110.75,321.57 113.2,325.4 C115.65,329.23 119.62,335.9 121.6,338.4 C123.58,340.9 123.7,339.73 125.1,340.4 C126.5,341.07 128.32,342.57 130,342.4 C131.68,342.23 133.45,339.65 135.2,339.4 C136.95,339.15 138.92,341.15 140.5,340.9 C142.08,340.65 142.78,340.95 144.7,337.9 C146.62,334.85 149.55,327.6 152,322.6 C154.45,317.6 157.12,312.93 159.4,307.9 C161.68,302.87 163.95,296.48 165.7,292.4 C167.45,288.32 168.68,285.32 169.9,283.4 C171.12,281.48 171.78,281.23 173,280.9 C174.22,280.57 175.8,280.65 177.2,281.4 C178.6,282.15 180,284.4 181.4,285.4 C182.8,286.4 183.5,287.4 185.6,287.4 C187.7,287.4 190.77,286.12 194,285.4 C197.23,284.68 201.8,284.43 205,283.1 C208.2,281.77 211.25,279.23 213.2,277.4 C215.15,275.57 215.43,272 216.7,272.1 C217.97,272.2 219.25,277.28 220.8,278 C222.35,278.72 224.22,277.45 226,276.4 C227.78,275.35 230.07,273 231.5,271.7 C232.93,270.4 233.67,268.38 234.6,268.6 C235.53,268.82 236.25,271.53 237.1,273 C237.95,274.47 238.85,276.87 239.7,277.4 C240.55,277.93 241.27,277.3 242.2,276.2 C243.13,275.1 243.93,271.55 245.3,270.8 C246.67,270.05 248.93,271.85 250.4,271.7 C251.87,271.55 252.53,270.12 254.1,269.9 C255.67,269.68 257.83,270.43 259.8,270.4 C261.77,270.37 262.95,270.27 265.9,269.7 C268.85,269.13 274.87,267.57 277.5,267 C280.13,266.43 279.78,266.13 281.7,266.3 C283.62,266.47 286.73,267.18 289,268 C291.27,268.82 293.37,270.22 295.3,271.2 C297.23,272.18 299.72,273.45 300.6,273.9" fill="none" stroke="#5a96d8" stroke-width="0.75"/>
<path d="M31.4,396.7 C31.83,394.7 33.07,388.37 34,384.7 C34.93,381.03 36.17,376.77 37,374.7 C37.83,372.63 38.17,372.12 39,372.3 C39.83,372.48 41,374.88 42,375.8 C43,376.72 44,378.3 45,377.8 C46,377.3 47.17,375.97 48,372.8 C48.83,369.63 49.33,364.47 50,358.8 C50.67,353.13 51.45,343.8 52,338.8 C52.55,333.8 52.82,333.52 53.3,328.8 C53.78,324.08 54.37,315 54.9,310.5 C55.43,306 55.83,303.38 56.5,301.8 C57.17,300.22 57.98,301.13 58.9,301 C59.82,300.87 60.82,302.17 62,301 C63.18,299.83 64.55,296.37 66,294 C67.45,291.63 69.4,288.38 70.7,286.8 C72,285.22 72.5,284.62 73.8,284.5 C75.1,284.38 76.67,285.32 78.5,286.1 C80.33,286.88 82.95,288.87 84.8,289.2 C86.65,289.53 88.15,288.62 89.6,288.1 C91.05,287.58 92.45,286.17 93.5,286.1 C94.55,286.03 94.72,285.47 95.9,287.7 C97.08,289.93 98.77,294.78 100.6,299.5 C102.43,304.22 105.33,312.42 106.9,316 C108.47,319.58 108.43,317.88 110,321 C111.57,324.12 114.37,331.02 116.3,334.7 C118.23,338.38 120.13,341.35 121.6,343.1 C123.07,344.85 123.7,345.2 125.1,345.2 C126.5,345.2 128.32,343.98 130,343.1 C131.68,342.22 133.45,340.5 135.2,339.9 C136.95,339.3 138.92,340.2 140.5,339.5 C142.08,338.8 142.78,338.78 144.7,335.7 C146.62,332.62 149.55,325.9 152,321 C154.45,316.1 157.12,311.37 159.4,306.3 C161.68,301.23 163.95,294.8 165.7,290.6 C167.45,286.4 168.68,283.1 169.9,281.1 C171.12,279.1 171.78,278.95 173,278.6 C174.22,278.25 175.8,278.3 177.2,279 C178.6,279.7 180,281.75 181.4,282.8 C182.8,283.85 183.5,285.17 185.6,285.3 C187.7,285.43 191.02,284.23 194,283.6 C196.98,282.97 200.08,282.43 203.5,281.5 C206.92,280.57 211.27,278.9 214.5,278 C217.73,277.1 219.93,276.8 222.9,276.1 C225.87,275.4 229.15,274.48 232.3,273.8 C235.45,273.12 238.82,272.58 241.8,272 C244.78,271.42 247.23,270.82 250.2,270.3 C253.17,269.78 256.98,269.27 259.6,268.9 C262.22,268.53 262.92,268.68 265.9,268.1 C268.88,267.52 274.87,265.97 277.5,265.4 C280.13,264.83 279.78,264.53 281.7,264.7 C283.62,264.87 286.73,265.58 289,266.4 C291.27,267.22 293.37,268.62 295.3,269.6 C297.23,270.58 299.72,271.85 300.6,272.3" fill="none" stroke="#f09098" stroke-width="0.8"/>
<path d="M31.4,397.9 C31.83,395.9 33.07,389.57 34,385.9 C34.93,382.23 36.17,377.97 37,375.9 C37.83,373.83 38.17,373.32 39,373.5 C39.83,373.68 41,376.08 42,377 C43,377.92 44,379.5 45,379 C46,378.5 47.17,377.17 48,374 C48.83,370.83 49.33,365.67 50,360 C50.67,354.33 51.45,345 52,340 C52.55,335 52.82,334.72 53.3,330 C53.78,325.28 54.37,316.2 54.9,311.7 C55.43,307.2 55.83,304.58 56.5,303 C57.17,301.42 57.98,302.33 58.9,302.2 C59.82,302.07 60.82,303.37 62,302.2 C63.18,301.03 64.55,297.57 66,295.2 C67.45,292.83 69.4,289.58 70.7,288 C72,286.42 72.5,285.82 73.8,285.7 C75.1,285.58 76.67,286.52 78.5,287.3 C80.33,288.08 82.95,290.07 84.8,290.4 C86.65,290.73 88.15,289.82 89.6,289.3 C91.05,288.78 92.45,287.37 93.5,287.3 C94.55,287.23 94.72,286.67 95.9,288.9 C97.08,291.13 98.77,295.98 100.6,300.7 C102.43,305.42 105.33,313.62 106.9,317.2 C108.47,320.78 108.43,319.08 110,322.2 C111.57,325.32 114.37,332.22 116.3,335.9 C118.23,339.58 120.13,342.55 121.6,344.3 C123.07,346.05 123.7,346.4 125.1,346.4 C126.5,346.4 128.32,345.18 130,344.3 C131.68,343.42 133.45,341.7 135.2,341.1 C136.95,340.5 138.92,341.4 140.5,340.7 C142.08,340 142.78,339.98 144.7,336.9 C146.62,333.82 149.55,327.1 152,322.2 C154.45,317.3 157.12,312.57 159.4,307.5 C161.68,302.43 163.95,296 165.7,291.8 C167.45,287.6 168.68,284.3 169.9,282.3 C171.12,280.3 171.78,280.15 173,279.8 C174.22,279.45 175.8,279.5 177.2,280.2 C178.6,280.9 180,282.95 181.4,284 C182.8,285.05 183.5,286.37 185.6,286.5 C187.7,286.63 191.02,285.43 194,284.8 C196.98,284.17 200.08,283.63 203.5,282.7 C206.92,281.77 211.27,280.1 214.5,279.2 C217.73,278.3 219.93,278 222.9,277.3 C225.87,276.6 229.15,275.68 232.3,275 C235.45,274.32 238.82,273.78 241.8,273.2 C244.78,272.62 247.23,272.02 250.2,271.5 C253.17,270.98 256.98,270.47 259.6,270.1 C262.22,269.73 262.92,269.88 265.9,269.3 C268.88,268.72 274.87,267.17 277.5,266.6 C280.13,266.03 279.78,265.73 281.7,265.9 C283.62,266.07 286.73,266.78 289,267.6 C291.27,268.42 293.37,269.82 295.3,270.8 C297.23,271.78 299.72,273.05 300.6,273.5" fill="none" stroke="#b82838" stroke-width="1.0"/>
<path d="M31.4,417.2 C32,416.53 33.4,414.6 35,413.2 C36.6,411.8 39.17,409.97 41,408.8 C42.83,407.63 44.33,407.45 46,406.2 C47.67,404.95 49.17,403.78 51,401.3 C52.83,398.82 55.17,393.47 57,391.3 C58.83,389.13 59.67,389.97 62,388.3 C64.33,386.63 67.83,383.47 71,381.3 C74.17,379.13 77.83,377.03 81,375.3 C84.17,373.57 87.67,372.23 90,370.9 C92.33,369.57 92.2,367.9 95,367.3 C97.8,366.7 102.9,367.52 106.8,367.3 C110.7,367.08 115.23,366.63 118.4,366 C121.57,365.37 123,364.78 125.8,363.5 C128.6,362.22 132.05,360.05 135.2,358.3 C138.35,356.55 141.2,355.63 144.7,353 C148.2,350.37 152.7,346.17 156.2,342.5 C159.7,338.83 162.55,334.48 165.7,331 C168.85,327.52 171.95,323.87 175.1,321.6 C178.25,319.33 181.45,318.97 184.6,317.4 C187.75,315.83 190.85,314.12 194,312.2 C197.15,310.28 200.27,308.18 203.5,305.9 C206.73,303.62 210.17,300.6 213.4,298.5 C216.63,296.4 219.75,295.4 222.9,293.3 C226.05,291.2 229.15,288 232.3,285.9 C235.45,283.8 238.82,282.62 241.8,280.7 C244.78,278.78 247.17,276.27 250.2,274.4 C253.23,272.53 257.38,269.15 260,269.5 C262.62,269.85 264.22,274.47 265.9,276.5 C267.58,278.53 268.17,280.07 270.1,281.7 C272.03,283.33 275.22,284.37 277.5,286.3 C279.78,288.23 281.53,290.22 283.8,293.3 C286.07,296.38 288.83,300.78 291.1,304.8 C293.37,308.82 295.82,313.55 297.4,317.4 C298.98,321.25 300.07,326.15 300.6,327.9" fill="none" stroke="#f5c080" stroke-width="0.7"/>
<path d="M31.4,418.2 C32,417.53 33.4,415.6 35,414.2 C36.6,412.8 39.17,410.97 41,409.8 C42.83,408.63 44.33,408.45 46,407.2 C47.67,405.95 49.17,404.78 51,402.3 C52.83,399.82 55.17,394.47 57,392.3 C58.83,390.13 59.67,390.97 62,389.3 C64.33,387.63 67.83,384.47 71,382.3 C74.17,380.13 77.83,378.03 81,376.3 C84.17,374.57 87.67,373.23 90,371.9 C92.33,370.57 92.2,368.9 95,368.3 C97.8,367.7 102.9,368.52 106.8,368.3 C110.7,368.08 115.23,367.63 118.4,367 C121.57,366.37 123,365.78 125.8,364.5 C128.6,363.22 132.05,361.05 135.2,359.3 C138.35,357.55 141.2,356.63 144.7,354 C148.2,351.37 152.7,347.17 156.2,343.5 C159.7,339.83 162.55,335.48 165.7,332 C168.85,328.52 171.95,324.87 175.1,322.6 C178.25,320.33 181.45,319.97 184.6,318.4 C187.75,316.83 190.85,315.12 194,313.2 C197.15,311.28 200.27,309.18 203.5,306.9 C206.73,304.62 210.17,301.6 213.4,299.5 C216.63,297.4 219.75,296.4 222.9,294.3 C226.05,292.2 229.15,289 232.3,286.9 C235.45,284.8 238.82,283.62 241.8,281.7 C244.78,279.78 247.17,277.27 250.2,275.4 C253.23,273.53 257.38,270.15 260,270.5 C262.62,270.85 264.22,275.47 265.9,277.5 C267.58,279.53 268.17,281.07 270.1,282.7 C272.03,284.33 275.22,285.37 277.5,287.3 C279.78,289.23 281.53,291.22 283.8,294.3 C286.07,297.38 288.83,301.78 291.1,305.8 C293.37,309.82 295.82,314.55 297.4,318.4 C298.98,322.25 300.07,327.15 300.6,328.9" fill="none" stroke="#5a96d8" stroke-width="0.75"/>
<path d="M31.4,416.6 C32,415.93 33.4,414 35,412.6 C36.6,411.2 39.17,409.37 41,408.2 C42.83,407.03 44.33,406.85 46,405.6 C47.67,404.35 49.17,403.18 51,400.7 C52.83,398.22 55.17,392.87 57,390.7 C58.83,388.53 59.67,389.37 62,387.7 C64.33,386.03 67.83,382.87 71,380.7 C74.17,378.53 77.83,376.43 81,374.7 C84.17,372.97 87.67,371.63 90,370.3 C92.33,368.97 92.2,367.3 95,366.7 C97.8,366.1 102.9,366.92 106.8,366.7 C110.7,366.48 115.23,366.03 118.4,365.4 C121.57,364.77 123,364.18 125.8,362.9 C128.6,361.62 132.05,359.45 135.2,357.7 C138.35,355.95 141.2,355.03 144.7,352.4 C148.2,349.77 152.7,345.57 156.2,341.9 C159.7,338.23 162.55,333.88 165.7,330.4 C168.85,326.92 171.95,323.27 175.1,321 C178.25,318.73 181.45,318.37 184.6,316.8 C187.75,315.23 190.85,313.52 194,311.6 C197.15,309.68 200.27,307.58 203.5,305.3 C206.73,303.02 210.17,300 213.4,297.9 C216.63,295.8 219.75,294.8 222.9,292.7 C226.05,290.6 229.15,287.4 232.3,285.3 C235.45,283.2 238.82,282.02 241.8,280.1 C244.78,278.18 247.17,275.67 250.2,273.8 C253.23,271.93 257.38,268.55 260,268.9 C262.62,269.25 264.22,273.87 265.9,275.9 C267.58,277.93 268.17,279.47 270.1,281.1 C272.03,282.73 275.22,283.77 277.5,285.7 C279.78,287.63 281.53,289.62 283.8,292.7 C286.07,295.78 288.83,300.18 291.1,304.2 C293.37,308.22 295.82,312.95 297.4,316.8 C298.98,320.65 300.07,325.55 300.6,327.3" fill="none" stroke="#f09098" stroke-width="0.8"/>
<path d="M31.4,417.8 C32,417.13 33.4,415.2 35,413.8 C36.6,412.4 39.17,410.57 41,409.4 C42.83,408.23 44.33,408.05 46,406.8 C47.67,405.55 49.17,404.38 51,401.9 C52.83,399.42 55.17,394.07 57,391.9 C58.83,389.73 59.67,390.57 62,388.9 C64.33,387.23 67.83,384.07 71,381.9 C74.17,379.73 77.83,377.63 81,375.9 C84.17,374.17 87.67,372.83 90,371.5 C92.33,370.17 92.2,368.5 95,367.9 C97.8,367.3 102.9,368.12 106.8,367.9 C110.7,367.68 115.23,367.23 118.4,366.6 C121.57,365.97 123,365.38 125.8,364.1 C128.6,362.82 132.05,360.65 135.2,358.9 C138.35,357.15 141.2,356.23 144.7,353.6 C148.2,350.97 152.7,346.77 156.2,343.1 C159.7,339.43 162.55,335.08 165.7,331.6 C168.85,328.12 171.95,324.47 175.1,322.2 C178.25,319.93 181.45,319.57 184.6,318 C187.75,316.43 190.85,314.72 194,312.8 C197.15,310.88 200.27,308.78 203.5,306.5 C206.73,304.22 210.17,301.2 213.4,299.1 C216.63,297 219.75,296 222.9,293.9 C226.05,291.8 229.15,288.6 232.3,286.5 C235.45,284.4 238.82,283.22 241.8,281.3 C244.78,279.38 247.17,276.87 250.2,275 C253.23,273.13 257.38,269.75 260,270.1 C262.62,270.45 264.22,275.07 265.9,277.1 C267.58,279.13 268.17,280.67 270.1,282.3 C272.03,283.93 275.22,284.97 277.5,286.9 C279.78,288.83 281.53,290.82 283.8,293.9 C286.07,296.98 288.83,301.38 291.1,305.4 C293.37,309.42 295.82,314.15 297.4,318 C298.98,321.85 300.07,326.75 300.6,328.5" fill="none" stroke="#b82838" stroke-width="1.0"/>
<rect x="30.2" y="411" width="2.4" height="2.4" fill="#2a2a2a"/>
<rect x="30.2" y="396.1" width="2.4" height="2.4" fill="#2a2a2a"/>
<rect x="30.2" y="396.7" width="2.4" height="2.4" fill="#2a2a2a"/>
<circle cx="31.4" cy="418.2" r="1.2" fill="#2a2a2a"/>
<circle cx="31.4" cy="417.2" r="1.2" fill="#2a2a2a"/>
<circle cx="31.4" cy="417.8" r="1.2" fill="#2a2a2a"/>
<rect x="50.8" y="347.2" width="2.4" height="2.4" fill="#2a2a2a"/>
<rect x="50.8" y="338.2" width="2.4" height="2.4" fill="#2a2a2a"/>
<rect x="50.8" y="338.8" width="2.4" height="2.4" fill="#2a2a2a"/>
<circle cx="52" cy="400.63" r="1.2" fill="#2a2a2a"/>
<circle cx="52" cy="399.63" r="1.2" fill="#2a2a2a"/>
<circle cx="52" cy="400.23" r="1.2" fill="#2a2a2a"/>
<rect x="69.5" y="289.2" width="2.4" height="2.4" fill="#2a2a2a"/>
<rect x="69.5" y="286.2" width="2.4" height="2.4" fill="#2a2a2a"/>
<rect x="69.5" y="286.8" width="2.4" height="2.4" fill="#2a2a2a"/>
<circle cx="70.7" cy="382.53" r="1.2" fill="#2a2a2a"/>
<circle cx="70.7" cy="381.53" r="1.2" fill="#2a2a2a"/>
<circle cx="70.7" cy="382.13" r="1.2" fill="#2a2a2a"/>
<rect x="88.4" y="290.2" width="2.4" height="2.4" fill="#2a2a2a"/>
<rect x="88.4" y="287.5" width="2.4" height="2.4" fill="#2a2a2a"/>
<rect x="88.4" y="288.1" width="2.4" height="2.4" fill="#2a2a2a"/>
<circle cx="89.6" cy="372.1" r="1.2" fill="#2a2a2a"/>
<circle cx="89.6" cy="371.1" r="1.2" fill="#2a2a2a"/>
<circle cx="89.6" cy="371.7" r="1.2" fill="#2a2a2a"/>
<rect x="105.7" y="314.2" width="2.4" height="2.4" fill="#2a2a2a"/>
<rect x="105.7" y="315.4" width="2.4" height="2.4" fill="#2a2a2a"/>
<rect x="105.7" y="316" width="2.4" height="2.4" fill="#2a2a2a"/>
<circle cx="106.9" cy="368.29" r="1.2" fill="#2a2a2a"/>
<circle cx="106.9" cy="367.29" r="1.2" fill="#2a2a2a"/>
<circle cx="106.9" cy="367.89" r="1.2" fill="#2a2a2a"/>
<rect x="123.9" y="339.2" width="2.4" height="2.4" fill="#2a2a2a"/>
<rect x="123.9" y="344.6" width="2.4" height="2.4" fill="#2a2a2a"/>
<rect x="123.9" y="345.2" width="2.4" height="2.4" fill="#2a2a2a"/>
<circle cx="125.1" cy="364.74" r="1.2" fill="#2a2a2a"/>
<circle cx="125.1" cy="363.74" r="1.2" fill="#2a2a2a"/>
<circle cx="125.1" cy="364.34" r="1.2" fill="#2a2a2a"/>
<rect x="143.5" y="336.7" width="2.4" height="2.4" fill="#2a2a2a"/>
<rect x="143.5" y="335.1" width="2.4" height="2.4" fill="#2a2a2a"/>
<rect x="143.5" y="335.7" width="2.4" height="2.4" fill="#2a2a2a"/>
<circle cx="144.7" cy="354" r="1.2" fill="#2a2a2a"/>
<circle cx="144.7" cy="353" r="1.2" fill="#2a2a2a"/>
<circle cx="144.7" cy="353.6" r="1.2" fill="#2a2a2a"/>
<rect x="164.5" y="291.2" width="2.4" height="2.4" fill="#2a2a2a"/>
<rect x="164.5" y="290" width="2.4" height="2.4" fill="#2a2a2a"/>
<rect x="164.5" y="290.6" width="2.4" height="2.4" fill="#2a2a2a"/>
<circle cx="165.7" cy="332" r="1.2" fill="#2a2a2a"/>
<circle cx="165.7" cy="331" r="1.2" fill="#2a2a2a"/>
<circle cx="165.7" cy="331.6" r="1.2" fill="#2a2a2a"/>
<rect x="183.4" y="285.72" width="2.4" height="2.4" fill="#2a2a2a"/>
<rect x="183.4" y="284.1" width="2.4" height="2.4" fill="#2a2a2a"/>
<rect x="183.4" y="284.7" width="2.4" height="2.4" fill="#2a2a2a"/>
<circle cx="184.6" cy="318.4" r="1.2" fill="#2a2a2a"/>
<circle cx="184.6" cy="317.4" r="1.2" fill="#2a2a2a"/>
<circle cx="184.6" cy="318" r="1.2" fill="#2a2a2a"/>
<rect x="202.3" y="282.21" width="2.4" height="2.4" fill="#2a2a2a"/>
<rect x="202.3" y="280.9" width="2.4" height="2.4" fill="#2a2a2a"/>
<rect x="202.3" y="281.5" width="2.4" height="2.4" fill="#2a2a2a"/>
<circle cx="203.5" cy="306.9" r="1.2" fill="#2a2a2a"/>
<circle cx="203.5" cy="305.9" r="1.2" fill="#2a2a2a"/>
<circle cx="203.5" cy="306.5" r="1.2" fill="#2a2a2a"/>
<rect x="221.7" y="276.15" width="2.4" height="2.4" fill="#2a2a2a"/>
<rect x="221.7" y="275.5" width="2.4" height="2.4" fill="#2a2a2a"/>
<rect x="221.7" y="276.1" width="2.4" height="2.4" fill="#2a2a2a"/>
<circle cx="222.9" cy="294.3" r="1.2" fill="#2a2a2a"/>
<circle cx="222.9" cy="293.3" r="1.2" fill="#2a2a2a"/>
<circle cx="222.9" cy="293.9" r="1.2" fill="#2a2a2a"/>
<rect x="240.6" y="275.19" width="2.4" height="2.4" fill="#2a2a2a"/>
<rect x="240.6" y="271.4" width="2.4" height="2.4" fill="#2a2a2a"/>
<rect x="240.6" y="272" width="2.4" height="2.4" fill="#2a2a2a"/>
<circle cx="241.8" cy="281.7" r="1.2" fill="#2a2a2a"/>
<circle cx="241.8" cy="280.7" r="1.2" fill="#2a2a2a"/>
<circle cx="241.8" cy="281.3" r="1.2" fill="#2a2a2a"/>
<rect x="258.8" y="269.18" width="2.4" height="2.4" fill="#2a2a2a"/>
<rect x="258.8" y="268.25" width="2.4" height="2.4" fill="#2a2a2a"/>
<rect x="258.8" y="268.85" width="2.4" height="2.4" fill="#2a2a2a"/>
<circle cx="260" cy="270.5" r="1.2" fill="#2a2a2a"/>
<circle cx="260" cy="269.5" r="1.2" fill="#2a2a2a"/>
<circle cx="260" cy="270.1" r="1.2" fill="#2a2a2a"/>
<rect x="276.3" y="265.8" width="2.4" height="2.4" fill="#2a2a2a"/>
<rect x="276.3" y="264.8" width="2.4" height="2.4" fill="#2a2a2a"/>
<rect x="276.3" y="265.4" width="2.4" height="2.4" fill="#2a2a2a"/>
<circle cx="277.5" cy="287.3" r="1.2" fill="#2a2a2a"/>
<circle cx="277.5" cy="286.3" r="1.2" fill="#2a2a2a"/>
<circle cx="277.5" cy="286.9" r="1.2" fill="#2a2a2a"/>
<rect x="294.1" y="270" width="2.4" height="2.4" fill="#2a2a2a"/>
<rect x="294.1" y="269" width="2.4" height="2.4" fill="#2a2a2a"/>
<rect x="294.1" y="269.6" width="2.4" height="2.4" fill="#2a2a2a"/>
<circle cx="295.3" cy="314.2" r="1.2" fill="#2a2a2a"/>
<circle cx="295.3" cy="313.2" r="1.2" fill="#2a2a2a"/>
<circle cx="295.3" cy="313.8" r="1.2" fill="#2a2a2a"/>
</g>
<g transform="matrix(1,-0.0033,0,1,0,1.12)">
<rect x="339.5" y="5.9" width="326" height="94.1" fill="#fff"/>
<line x1="339.5" y1="5.9" x2="665.5" y2="5.9" stroke="#a4a4a4" stroke-width="1.1"/>
<line x1="339.5" y1="100" x2="665.5" y2="100" stroke="#a4a4a4" stroke-width="1.1"/>
<line x1="339.5" y1="5.9" x2="339.5" y2="100" stroke="#a4a4a4" stroke-width="1.1"/>
<line x1="665.5" y1="5.9" x2="665.5" y2="100" stroke="#a4a4a4" stroke-width="1.1"/>
<line x1="339.5" y1="33.5" x2="665.5" y2="33.5" stroke="#8a8a8a" stroke-width="1.1"/>
<text x="345.1" y="23" font-family="Liberation Sans, sans-serif" font-size="13.6" font-weight="bold" font-style="normal" fill="#111" text-anchor="start" textLength="58.6" lengthAdjust="spacingAndGlyphs" stroke="#111" stroke-width="0.5">DASTEK</text>
<text x="345.1" y="29.7" font-family="Liberation Sans, sans-serif" font-size="5.8" font-weight="bold" font-style="normal" fill="#111" text-anchor="start" textLength="58.6" lengthAdjust="spacingAndGlyphs" stroke="#111" stroke-width="0.25">DYNAMOMETERS</text>
<clipPath id="hx339"><polygon points="419.9,12.1 428.3,16.55 428.3,25.45 419.9,29.9 411.5,25.45 411.5,16.55"/></clipPath>
<polygon points="419.9,12.1 428.3,16.55 428.3,25.45 419.9,29.9 411.5,25.45 411.5,16.55" fill="#0c0c38"/>
<g clip-path="url(#hx339)"><path d="M419.9,11.1 L419.9,21.6 L410.5,26.45 M419.9,21.6 L429.3,26.45" stroke="#d8d040" stroke-width="3.0" fill="none" stroke-linejoin="miter"/><path d="M419.9,11.1 L419.9,21.6 L410.5,26.45 M419.9,21.6 L429.3,26.45" stroke="#6a6a20" stroke-width="0.5" fill="none"/></g>
<text x="512.4" y="17.4" font-family="Liberation Sans, sans-serif" font-size="7.7" font-weight="bold" font-style="normal" fill="#1a1a1a" text-anchor="start" textLength="76.3" lengthAdjust="spacingAndGlyphs" stroke="#1a1a1a" stroke-width="0.18">John Clarkson Autos</text>
<text x="495.7" y="28.1" font-family="Liberation Sans, sans-serif" font-size="6.4" font-weight="bold" font-style="normal" fill="#1a1a1a" text-anchor="start" textLength="109.6" lengthAdjust="spacing" stroke="#1a1a1a" stroke-width="0.18">DYNAMOMETER REPORT</text>
<text x="347.8" y="42.7" font-family="Liberation Sans, sans-serif" font-size="5.7" font-weight="normal" font-style="normal" fill="#1a1a1a" text-anchor="start" stroke="#1a1a1a" stroke-width="0.18">Registration No. :</text>
<text x="398.3" y="42.7" font-family="Liberation Sans, sans-serif" font-size="5.7" font-weight="bold" font-style="italic" fill="#1c1c4a" text-anchor="start" stroke="#1c1c4a" stroke-width="0.2">MK14AXY</text>
<text x="347.8" y="51.8" font-family="Liberation Sans, sans-serif" font-size="5.7" font-weight="normal" font-style="normal" fill="#1a1a1a" text-anchor="start" stroke="#1a1a1a" stroke-width="0.18">Vehicle Type:</text>
<text x="398.3" y="51.8" font-family="Liberation Sans, sans-serif" font-size="5.7" font-weight="bold" font-style="italic" fill="#1c1c4a" text-anchor="start" stroke="#1c1c4a" stroke-width="0.2">TOYOTA GT86</text>
<text x="347.8" y="61" font-family="Liberation Sans, sans-serif" font-size="5.7" font-weight="normal" font-style="normal" fill="#1a1a1a" text-anchor="start" stroke="#1a1a1a" stroke-width="0.18">Operator Id :</text>
<text x="398.3" y="61" font-family="Liberation Sans, sans-serif" font-size="5.7" font-weight="bold" font-style="italic" fill="#1c1c4a" text-anchor="start" stroke="#1c1c4a" stroke-width="0.2">A. Clarkson</text>
<text x="347.8" y="70.7" font-family="Liberation Sans, sans-serif" font-size="5.7" font-weight="normal" font-style="normal" fill="#1a1a1a" text-anchor="start" stroke="#1a1a1a" stroke-width="0.18">Customer :</text>
<text x="398.3" y="70.7" font-family="Liberation Sans, sans-serif" font-size="5.7" font-weight="bold" font-style="italic" fill="#1c1c4a" text-anchor="start" stroke="#1c1c4a" stroke-width="0.2">JAPSPEED</text>
<text x="347.8" y="79.3" font-family="Liberation Sans, sans-serif" font-size="5.7" font-weight="normal" font-style="normal" fill="#1a1a1a" text-anchor="start" stroke="#1a1a1a" stroke-width="0.18">Comments :</text>
<text x="558.4" y="42.2" font-family="Liberation Sans, sans-serif" font-size="5.7" font-weight="normal" font-style="normal" fill="#1a1a1a" text-anchor="start" stroke="#1a1a1a" stroke-width="0.18">Date Tested :</text>
<text x="620.2" y="42.2" font-family="Liberation Sans, sans-serif" font-size="5.7" font-weight="bold" font-style="italic" fill="#1c1c4a" text-anchor="start" stroke="#1c1c4a" stroke-width="0.2">12/06/2014</text>
<text x="558.4" y="51.5" font-family="Liberation Sans, sans-serif" font-size="5.7" font-weight="normal" font-style="normal" fill="#1a1a1a" text-anchor="start" stroke="#1a1a1a" stroke-width="0.18">Gear Used:</text>
<text x="620.2" y="51.5" font-family="Liberation Sans, sans-serif" font-size="5.7" font-weight="bold" font-style="italic" fill="#1c1c4a" text-anchor="start" stroke="#1c1c4a" stroke-width="0.2">5</text>
<text x="558.4" y="60.8" font-family="Liberation Sans, sans-serif" font-size="5.7" font-weight="normal" font-style="normal" fill="#1a1a1a" text-anchor="start" stroke="#1a1a1a" stroke-width="0.18">Ramp Rate :</text>
<text x="620.2" y="60.8" font-family="Liberation Sans, sans-serif" font-size="5.7" font-weight="bold" font-style="italic" fill="#1c1c4a" text-anchor="start" stroke="#1c1c4a" stroke-width="0.2">2</text>
<text x="558.4" y="70.2" font-family="Liberation Sans, sans-serif" font-size="5.7" font-weight="normal" font-style="normal" fill="#1a1a1a" text-anchor="start" stroke="#1a1a1a" stroke-width="0.18">MPH per 1000 RPM :</text>
<text x="620.2" y="70.2" font-family="Liberation Sans, sans-serif" font-size="5.7" font-weight="bold" font-style="italic" fill="#1c1c4a" text-anchor="start" stroke="#1c1c4a" stroke-width="0.2">18.23</text>
<rect x="339.5" y="105.7" width="326" height="10.6" fill="#3a8ee6"/>
<g clip-path="url(#bc339_0)" opacity="0.55">
<clipPath id="bc339_0"><rect x="339.5" y="105.7" width="326" height="10.6"/></clipPath>
<text x="340.5" y="114.25" font-family="Liberation Serif, sans-serif" font-size="9" font-weight="bold" font-style="normal" fill="#1450b0" text-anchor="start" textLength="109.2" lengthAdjust="spacing" stroke="#1450b0" stroke-width="2.6" filter="url(#halo)">RUN NO 1 AEM AIR KIT</text>
</g>
<text x="340.5" y="114.25" font-family="Liberation Serif, sans-serif" font-size="9" font-weight="bold" font-style="normal" fill="#0a1a48" text-anchor="start" textLength="109.2" lengthAdjust="spacing" stroke="#0a1a48" stroke-width="0.55">RUN NO 1 AEM AIR KIT</text>
<text x="345.9" y="125.45" font-family="Liberation Sans, sans-serif" font-size="6.45" font-weight="normal" font-style="normal" fill="#1a1a1a" text-anchor="start" stroke="#1a1a1a" stroke-width="0.18">Maximum Power - Wheels</text>
<text x="444.6" y="125.45" font-family="Liberation Sans, sans-serif" font-size="6.45" font-weight="normal" font-style="normal" fill="#1a1a1a" text-anchor="end" stroke="#1a1a1a" stroke-width="0.18">161.3</text>
<text x="500" y="125.45" font-family="Liberation Sans, sans-serif" font-size="6.45" font-weight="normal" font-style="normal" fill="#1a1a1a" text-anchor="end" stroke="#1a1a1a" stroke-width="0.18">bhp @ 6,759 rpm</text>
<text x="548.1" y="125.45" font-family="Liberation Sans, sans-serif" font-size="6.45" font-weight="normal" font-style="normal" fill="#1a1a1a" text-anchor="start" stroke="#1a1a1a" stroke-width="0.18">Correction Factor</text>
<text x="652.6" y="125.45" font-family="Liberation Sans, sans-serif" font-size="6.45" font-weight="normal" font-style="normal" fill="#1a1a1a" text-anchor="end" stroke="#1a1a1a" stroke-width="0.18">101.0 %</text>
<text x="345.9" y="133.55" font-family="Liberation Sans, sans-serif" font-size="6.45" font-weight="normal" font-style="normal" fill="#1a1a1a" text-anchor="start" stroke="#1a1a1a" stroke-width="0.18">Maximum Power - Engine</text>
<text x="444.6" y="133.55" font-family="Liberation Sans, sans-serif" font-size="6.45" font-weight="normal" font-style="normal" fill="#1a1a1a" text-anchor="end" stroke="#1a1a1a" stroke-width="0.18">209.0</text>
<text x="500" y="133.55" font-family="Liberation Sans, sans-serif" font-size="6.45" font-weight="normal" font-style="normal" fill="#1a1a1a" text-anchor="end" stroke="#1a1a1a" stroke-width="0.18">bhp @ 6,793 rpm</text>
<text x="548.1" y="133.55" font-family="Liberation Sans, sans-serif" font-size="6.45" font-weight="normal" font-style="normal" fill="#1a1a1a" text-anchor="start" stroke="#1a1a1a" stroke-width="0.18">Environment Temperature</text>
<text x="652.6" y="133.55" font-family="Liberation Sans, sans-serif" font-size="6.45" font-weight="normal" font-style="normal" fill="#1a1a1a" text-anchor="end" stroke="#1a1a1a" stroke-width="0.18">24.5 °C</text>
<text x="345.9" y="141.65" font-family="Liberation Sans, sans-serif" font-size="6.45" font-weight="normal" font-style="normal" fill="#1a1a1a" text-anchor="start" stroke="#1a1a1a" stroke-width="0.18">Maximum Torque</text>
<text x="444.6" y="141.65" font-family="Liberation Sans, sans-serif" font-size="6.45" font-weight="normal" font-style="normal" fill="#1a1a1a" text-anchor="end" stroke="#1a1a1a" stroke-width="0.18">162.3</text>
<text x="500" y="141.65" font-family="Liberation Sans, sans-serif" font-size="6.45" font-weight="normal" font-style="normal" fill="#1a1a1a" text-anchor="end" stroke="#1a1a1a" stroke-width="0.18">lbft @ 6,759 rpm</text>
<text x="548.1" y="141.65" font-family="Liberation Sans, sans-serif" font-size="6.45" font-weight="normal" font-style="normal" fill="#1a1a1a" text-anchor="start" stroke="#1a1a1a" stroke-width="0.18">Barometric Pressure</text>
<text x="661.6" y="141.65" font-family="Liberation Sans, sans-serif" font-size="6.45" font-weight="normal" font-style="normal" fill="#1a1a1a" text-anchor="end" stroke="#1a1a1a" stroke-width="0.18">1011 mBar</text>
<rect x="339.5" y="148.9" width="326" height="10.6" fill="#d8102a"/>
<g clip-path="url(#bc339_1)" opacity="0.55">
<clipPath id="bc339_1"><rect x="339.5" y="148.9" width="326" height="10.6"/></clipPath>
<text x="340.5" y="157.45" font-family="Liberation Serif, sans-serif" font-size="9" font-weight="bold" font-style="normal" fill="#780010" text-anchor="start" textLength="109.2" lengthAdjust="spacing" stroke="#780010" stroke-width="2.6" filter="url(#halo)">RUN NO 2 AEM AIR KIT</text>
</g>
<text x="340.5" y="157.45" font-family="Liberation Serif, sans-serif" font-size="9" font-weight="bold" font-style="normal" fill="#3a0008" text-anchor="start" textLength="109.2" lengthAdjust="spacing" stroke="#3a0008" stroke-width="0.55">RUN NO 2 AEM AIR KIT</text>
<text x="345.9" y="168.65" font-family="Liberation Sans, sans-serif" font-size="6.45" font-weight="normal" font-style="normal" fill="#1a1a1a" text-anchor="start" stroke="#1a1a1a" stroke-width="0.18">Maximum Power - Wheels</text>
<text x="444.6" y="168.65" font-family="Liberation Sans, sans-serif" font-size="6.45" font-weight="normal" font-style="normal" fill="#1a1a1a" text-anchor="end" stroke="#1a1a1a" stroke-width="0.18">159.2</text>
<text x="500" y="168.65" font-family="Liberation Sans, sans-serif" font-size="6.45" font-weight="normal" font-style="normal" fill="#1a1a1a" text-anchor="end" stroke="#1a1a1a" stroke-width="0.18">bhp @ 6,985 rpm</text>
<text x="548.1" y="168.65" font-family="Liberation Sans, sans-serif" font-size="6.45" font-weight="normal" font-style="normal" fill="#1a1a1a" text-anchor="start" stroke="#1a1a1a" stroke-width="0.18">Correction Factor</text>
<text x="652.6" y="168.65" font-family="Liberation Sans, sans-serif" font-size="6.45" font-weight="normal" font-style="normal" fill="#1a1a1a" text-anchor="end" stroke="#1a1a1a" stroke-width="0.18">100.8 %</text>
<text x="345.9" y="176.75" font-family="Liberation Sans, sans-serif" font-size="6.45" font-weight="normal" font-style="normal" fill="#1a1a1a" text-anchor="start" stroke="#1a1a1a" stroke-width="0.18">Maximum Power - Engine</text>
<text x="444.6" y="176.75" font-family="Liberation Sans, sans-serif" font-size="6.45" font-weight="normal" font-style="normal" fill="#1a1a1a" text-anchor="end" stroke="#1a1a1a" stroke-width="0.18">208.7</text>
<text x="500" y="176.75" font-family="Liberation Sans, sans-serif" font-size="6.45" font-weight="normal" font-style="normal" fill="#1a1a1a" text-anchor="end" stroke="#1a1a1a" stroke-width="0.18">bhp @ 7,056 rpm</text>
<text x="548.1" y="176.75" font-family="Liberation Sans, sans-serif" font-size="6.45" font-weight="normal" font-style="normal" fill="#1a1a1a" text-anchor="start" stroke="#1a1a1a" stroke-width="0.18">Environment Temperature</text>
<text x="652.6" y="176.75" font-family="Liberation Sans, sans-serif" font-size="6.45" font-weight="normal" font-style="normal" fill="#1a1a1a" text-anchor="end" stroke="#1a1a1a" stroke-width="0.18">23.7 °C</text>
<text x="345.9" y="184.85" font-family="Liberation Sans, sans-serif" font-size="6.45" font-weight="normal" font-style="normal" fill="#1a1a1a" text-anchor="start" stroke="#1a1a1a" stroke-width="0.18">Maximum Torque</text>
<text x="444.6" y="184.85" font-family="Liberation Sans, sans-serif" font-size="6.45" font-weight="normal" font-style="normal" fill="#1a1a1a" text-anchor="end" stroke="#1a1a1a" stroke-width="0.18">159.5</text>
<text x="500" y="184.85" font-family="Liberation Sans, sans-serif" font-size="6.45" font-weight="normal" font-style="normal" fill="#1a1a1a" text-anchor="end" stroke="#1a1a1a" stroke-width="0.18">lbft @ 6,233 rpm</text>
<text x="548.1" y="184.85" font-family="Liberation Sans, sans-serif" font-size="6.45" font-weight="normal" font-style="normal" fill="#1a1a1a" text-anchor="start" stroke="#1a1a1a" stroke-width="0.18">Barometric Pressure</text>
<text x="661.6" y="184.85" font-family="Liberation Sans, sans-serif" font-size="6.45" font-weight="normal" font-style="normal" fill="#1a1a1a" text-anchor="end" stroke="#1a1a1a" stroke-width="0.18">1011 mBar</text>
<rect x="339.5" y="192.3" width="326" height="10.6" fill="#f0a050"/>
<g clip-path="url(#bc339_2)" opacity="0.55">
<clipPath id="bc339_2"><rect x="339.5" y="192.3" width="326" height="10.6"/></clipPath>
<text x="340.5" y="200.85" font-family="Liberation Serif, sans-serif" font-size="9" font-weight="bold" font-style="normal" fill="#b06828" text-anchor="start" textLength="109.2" lengthAdjust="spacing" stroke="#b06828" stroke-width="2.6" filter="url(#halo)">RUN NO 3 AEM AIR KIT</text>
</g>
<text x="340.5" y="200.85" font-family="Liberation Serif, sans-serif" font-size="9" font-weight="bold" font-style="normal" fill="#3a1a08" text-anchor="start" textLength="109.2" lengthAdjust="spacing" stroke="#3a1a08" stroke-width="0.55">RUN NO 3 AEM AIR KIT</text>
<text x="345.9" y="212.05" font-family="Liberation Sans, sans-serif" font-size="6.45" font-weight="normal" font-style="normal" fill="#1a1a1a" text-anchor="start" stroke="#1a1a1a" stroke-width="0.18">Maximum Power - Wheels</text>
<text x="444.6" y="212.05" font-family="Liberation Sans, sans-serif" font-size="6.45" font-weight="normal" font-style="normal" fill="#1a1a1a" text-anchor="end" stroke="#1a1a1a" stroke-width="0.18">160.7</text>
<text x="500" y="212.05" font-family="Liberation Sans, sans-serif" font-size="6.45" font-weight="normal" font-style="normal" fill="#1a1a1a" text-anchor="end" stroke="#1a1a1a" stroke-width="0.18">bhp @ 6,731 rpm</text>
<text x="548.1" y="212.05" font-family="Liberation Sans, sans-serif" font-size="6.45" font-weight="normal" font-style="normal" fill="#1a1a1a" text-anchor="start" stroke="#1a1a1a" stroke-width="0.18">Correction Factor</text>
<text x="652.6" y="212.05" font-family="Liberation Sans, sans-serif" font-size="6.45" font-weight="normal" font-style="normal" fill="#1a1a1a" text-anchor="end" stroke="#1a1a1a" stroke-width="0.18">100.9 %</text>
<text x="345.9" y="220.15" font-family="Liberation Sans, sans-serif" font-size="6.45" font-weight="normal" font-style="normal" fill="#1a1a1a" text-anchor="start" stroke="#1a1a1a" stroke-width="0.18">Maximum Power - Engine</text>
<text x="444.6" y="220.15" font-family="Liberation Sans, sans-serif" font-size="6.45" font-weight="normal" font-style="normal" fill="#1a1a1a" text-anchor="end" stroke="#1a1a1a" stroke-width="0.18">205.4</text>
<text x="500" y="220.15" font-family="Liberation Sans, sans-serif" font-size="6.45" font-weight="normal" font-style="normal" fill="#1a1a1a" text-anchor="end" stroke="#1a1a1a" stroke-width="0.18">bhp @ 7,001 rpm</text>
<text x="548.1" y="220.15" font-family="Liberation Sans, sans-serif" font-size="6.45" font-weight="normal" font-style="normal" fill="#1a1a1a" text-anchor="start" stroke="#1a1a1a" stroke-width="0.18">Environment Temperature</text>
<text x="652.6" y="220.15" font-family="Liberation Sans, sans-serif" font-size="6.45" font-weight="normal" font-style="normal" fill="#1a1a1a" text-anchor="end" stroke="#1a1a1a" stroke-width="0.18">24.1 °C</text>
<text x="345.9" y="228.25" font-family="Liberation Sans, sans-serif" font-size="6.45" font-weight="normal" font-style="normal" fill="#1a1a1a" text-anchor="start" stroke="#1a1a1a" stroke-width="0.18">Maximum Torque</text>
<text x="444.6" y="228.25" font-family="Liberation Sans, sans-serif" font-size="6.45" font-weight="normal" font-style="normal" fill="#1a1a1a" text-anchor="end" stroke="#1a1a1a" stroke-width="0.18">160.2</text>
<text x="500" y="228.25" font-family="Liberation Sans, sans-serif" font-size="6.45" font-weight="normal" font-style="normal" fill="#1a1a1a" text-anchor="end" stroke="#1a1a1a" stroke-width="0.18">lbft @ 6,731 rpm</text>
<text x="548.1" y="228.25" font-family="Liberation Sans, sans-serif" font-size="6.45" font-weight="normal" font-style="normal" fill="#1a1a1a" text-anchor="start" stroke="#1a1a1a" stroke-width="0.18">Barometric Pressure</text>
<text x="661.6" y="228.25" font-family="Liberation Sans, sans-serif" font-size="6.45" font-weight="normal" font-style="normal" fill="#1a1a1a" text-anchor="end" stroke="#1a1a1a" stroke-width="0.18">1011 mBar</text>
</g>
<g transform="matrix(1,0.0,0,1,0,-0)">
<rect x="339.5" y="237.9" width="326" height="202" fill="#fff"/>
<line x1="339.5" y1="237.9" x2="665.5" y2="237.9" stroke="#a4a4a4" stroke-width="1"/>
<line x1="339.5" y1="439.9" x2="665.5" y2="439.9" stroke="#a4a4a4" stroke-width="1"/>
<line x1="339.5" y1="237.9" x2="339.5" y2="439.9" stroke="#a4a4a4" stroke-width="1"/>
<line x1="665.5" y1="237.9" x2="665.5" y2="439.9" stroke="#a4a4a4" stroke-width="1"/>
<rect x="339.5" y="444.6" width="326" height="23.1" fill="#fff"/>
<line x1="339.5" y1="444.6" x2="665.5" y2="444.6" stroke="#a4a4a4" stroke-width="1"/>
<line x1="339.5" y1="467.7" x2="665.5" y2="467.7" stroke="#a4a4a4" stroke-width="1"/>
<line x1="339.5" y1="444.6" x2="339.5" y2="467.7" stroke="#a4a4a4" stroke-width="1"/>
<line x1="665.5" y1="444.6" x2="665.5" y2="467.7" stroke="#a4a4a4" stroke-width="1"/>
<rect x="345.9" y="447.1" width="4.2" height="4.4" fill="#111"/>
<line x1="344.7" y1="449.3" x2="351.3" y2="449.3" stroke="#111" stroke-width="1.2"/>
<circle cx="348" cy="457.6" r="2.2" fill="#111"/>
<line x1="344.7" y1="457.6" x2="351.3" y2="457.6" stroke="#111" stroke-width="1.2"/>
<text x="358.8" y="451.4" font-family="Liberation Sans, sans-serif" font-size="5.7" font-weight="normal" font-style="normal" fill="#1a1a1a" text-anchor="start" stroke="#1a1a1a" stroke-width="0.18">Power Line</text>
<text x="358.8" y="459.7" font-family="Liberation Sans, sans-serif" font-size="5.7" font-weight="normal" font-style="normal" fill="#1a1a1a" text-anchor="start" stroke="#1a1a1a" stroke-width="0.18">Torque Line</text>
<line x1="390.91" y1="259.6" x2="390.91" y2="417.8" stroke="#bcbcd0" stroke-width="0.7"/>
<line x1="415.52" y1="259.6" x2="415.52" y2="417.8" stroke="#bcbcd0" stroke-width="0.7"/>
<line x1="440.13" y1="259.6" x2="440.13" y2="417.8" stroke="#bcbcd0" stroke-width="0.7"/>
<line x1="464.74" y1="259.6" x2="464.74" y2="417.8" stroke="#bcbcd0" stroke-width="0.7"/>
<line x1="489.35" y1="259.6" x2="489.35" y2="417.8" stroke="#bcbcd0" stroke-width="0.7"/>
<line x1="513.96" y1="259.6" x2="513.96" y2="417.8" stroke="#bcbcd0" stroke-width="0.7"/>
<line x1="538.57" y1="259.6" x2="538.57" y2="417.8" stroke="#bcbcd0" stroke-width="0.7"/>
<line x1="563.18" y1="259.6" x2="563.18" y2="417.8" stroke="#bcbcd0" stroke-width="0.7"/>
<line x1="587.79" y1="259.6" x2="587.79" y2="417.8" stroke="#bcbcd0" stroke-width="0.7"/>
<line x1="612.4" y1="259.6" x2="612.4" y2="417.8" stroke="#bcbcd0" stroke-width="0.7"/>
<line x1="364.6" y1="408.62" x2="635.3" y2="408.62" stroke="#bcbcd0" stroke-width="0.7"/>
<line x1="364.6" y1="399.5" x2="635.3" y2="399.5" stroke="#bcbcd0" stroke-width="0.7"/>
<line x1="364.6" y1="390.38" x2="635.3" y2="390.38" stroke="#bcbcd0" stroke-width="0.7"/>
<line x1="364.6" y1="381.26" x2="635.3" y2="381.26" stroke="#bcbcd0" stroke-width="0.7"/>
<line x1="364.6" y1="372.14" x2="635.3" y2="372.14" stroke="#bcbcd0" stroke-width="0.7"/>
<line x1="364.6" y1="363.02" x2="635.3" y2="363.02" stroke="#bcbcd0" stroke-width="0.7"/>
<line x1="364.6" y1="353.9" x2="635.3" y2="353.9" stroke="#bcbcd0" stroke-width="0.7"/>
<line x1="364.6" y1="344.78" x2="635.3" y2="344.78" stroke="#bcbcd0" stroke-width="0.7"/>
<line x1="364.6" y1="335.66" x2="635.3" y2="335.66" stroke="#bcbcd0" stroke-width="0.7"/>
<line x1="364.6" y1="326.54" x2="635.3" y2="326.54" stroke="#bcbcd0" stroke-width="0.7"/>
<line x1="364.6" y1="317.42" x2="635.3" y2="317.42" stroke="#bcbcd0" stroke-width="0.7"/>
<line x1="364.6" y1="308.3" x2="635.3" y2="308.3" stroke="#bcbcd0" stroke-width="0.7"/>
<line x1="364.6" y1="299.18" x2="635.3" y2="299.18" stroke="#bcbcd0" stroke-width="0.7"/>
<line x1="364.6" y1="290.06" x2="635.3" y2="290.06" stroke="#bcbcd0" stroke-width="0.7"/>
<line x1="364.6" y1="280.94" x2="635.3" y2="280.94" stroke="#bcbcd0" stroke-width="0.7"/>
<line x1="364.6" y1="271.82" x2="635.3" y2="271.82" stroke="#bcbcd0" stroke-width="0.7"/>
<line x1="364.6" y1="262.7" x2="635.3" y2="262.7" stroke="#bcbcd0" stroke-width="0.7"/>
<line x1="364.6" y1="259.6" x2="364.6" y2="417.8" stroke="#111" stroke-width="1.3"/>
<line x1="364.6" y1="417.8" x2="635.3" y2="417.8" stroke="#111" stroke-width="1.3"/>
<line x1="635.3" y1="259.6" x2="635.3" y2="417.8" stroke="#111" stroke-width="1.3"/>
<line x1="362.6" y1="408.62" x2="364.6" y2="408.62" stroke="#111" stroke-width="0.8"/>
<text x="361.6" y="410.52" font-family="Liberation Sans, sans-serif" font-size="5.4" font-weight="normal" font-style="normal" fill="#1a1a1a" text-anchor="end" stroke="#1a1a1a" stroke-width="0.18">50</text>
<line x1="362.6" y1="399.5" x2="364.6" y2="399.5" stroke="#111" stroke-width="0.8"/>
<text x="361.6" y="401.4" font-family="Liberation Sans, sans-serif" font-size="5.4" font-weight="normal" font-style="normal" fill="#1a1a1a" text-anchor="end" stroke="#1a1a1a" stroke-width="0.18">60</text>
<line x1="362.6" y1="390.38" x2="364.6" y2="390.38" stroke="#111" stroke-width="0.8"/>
<text x="361.6" y="392.28" font-family="Liberation Sans, sans-serif" font-size="5.4" font-weight="normal" font-style="normal" fill="#1a1a1a" text-anchor="end" stroke="#1a1a1a" stroke-width="0.18">70</text>
<line x1="362.6" y1="381.26" x2="364.6" y2="381.26" stroke="#111" stroke-width="0.8"/>
<text x="361.6" y="383.16" font-family="Liberation Sans, sans-serif" font-size="5.4" font-weight="normal" font-style="normal" fill="#1a1a1a" text-anchor="end" stroke="#1a1a1a" stroke-width="0.18">80</text>
<line x1="362.6" y1="372.14" x2="364.6" y2="372.14" stroke="#111" stroke-width="0.8"/>
<text x="361.6" y="374.04" font-family="Liberation Sans, sans-serif" font-size="5.4" font-weight="normal" font-style="normal" fill="#1a1a1a" text-anchor="end" stroke="#1a1a1a" stroke-width="0.18">90</text>
<line x1="362.6" y1="363.02" x2="364.6" y2="363.02" stroke="#111" stroke-width="0.8"/>
<text x="361.6" y="364.92" font-family="Liberation Sans, sans-serif" font-size="5.4" font-weight="normal" font-style="normal" fill="#1a1a1a" text-anchor="end" stroke="#1a1a1a" stroke-width="0.18">100</text>
<line x1="362.6" y1="353.9" x2="364.6" y2="353.9" stroke="#111" stroke-width="0.8"/>
<text x="361.6" y="355.8" font-family="Liberation Sans, sans-serif" font-size="5.4" font-weight="normal" font-style="normal" fill="#1a1a1a" text-anchor="end" stroke="#1a1a1a" stroke-width="0.18">110</text>
<line x1="362.6" y1="344.78" x2="364.6" y2="344.78" stroke="#111" stroke-width="0.8"/>
<text x="361.6" y="346.68" font-family="Liberation Sans, sans-serif" font-size="5.4" font-weight="normal" font-style="normal" fill="#1a1a1a" text-anchor="end" stroke="#1a1a1a" stroke-width="0.18">120</text>
<line x1="362.6" y1="335.66" x2="364.6" y2="335.66" stroke="#111" stroke-width="0.8"/>
<text x="361.6" y="337.56" font-family="Liberation Sans, sans-serif" font-size="5.4" font-weight="normal" font-style="normal" fill="#1a1a1a" text-anchor="end" stroke="#1a1a1a" stroke-width="0.18">130</text>
<line x1="362.6" y1="326.54" x2="364.6" y2="326.54" stroke="#111" stroke-width="0.8"/>
<text x="361.6" y="328.44" font-family="Liberation Sans, sans-serif" font-size="5.4" font-weight="normal" font-style="normal" fill="#1a1a1a" text-anchor="end" stroke="#1a1a1a" stroke-width="0.18">140</text>
<line x1="362.6" y1="317.42" x2="364.6" y2="317.42" stroke="#111" stroke-width="0.8"/>
<text x="361.6" y="319.32" font-family="Liberation Sans, sans-serif" font-size="5.4" font-weight="normal" font-style="normal" fill="#1a1a1a" text-anchor="end" stroke="#1a1a1a" stroke-width="0.18">150</text>
<line x1="362.6" y1="308.3" x2="364.6" y2="308.3" stroke="#111" stroke-width="0.8"/>
<text x="361.6" y="310.2" font-family="Liberation Sans, sans-serif" font-size="5.4" font-weight="normal" font-style="normal" fill="#1a1a1a" text-anchor="end" stroke="#1a1a1a" stroke-width="0.18">160</text>
<line x1="362.6" y1="299.18" x2="364.6" y2="299.18" stroke="#111" stroke-width="0.8"/>
<text x="361.6" y="301.08" font-family="Liberation Sans, sans-serif" font-size="5.4" font-weight="normal" font-style="normal" fill="#1a1a1a" text-anchor="end" stroke="#1a1a1a" stroke-width="0.18">170</text>
<line x1="362.6" y1="290.06" x2="364.6" y2="290.06" stroke="#111" stroke-width="0.8"/>
<text x="361.6" y="291.96" font-family="Liberation Sans, sans-serif" font-size="5.4" font-weight="normal" font-style="normal" fill="#1a1a1a" text-anchor="end" stroke="#1a1a1a" stroke-width="0.18">180</text>
<line x1="362.6" y1="280.94" x2="364.6" y2="280.94" stroke="#111" stroke-width="0.8"/>
<text x="361.6" y="282.84" font-family="Liberation Sans, sans-serif" font-size="5.4" font-weight="normal" font-style="normal" fill="#1a1a1a" text-anchor="end" stroke="#1a1a1a" stroke-width="0.18">190</text>
<line x1="362.6" y1="271.82" x2="364.6" y2="271.82" stroke="#111" stroke-width="0.8"/>
<text x="361.6" y="273.72" font-family="Liberation Sans, sans-serif" font-size="5.4" font-weight="normal" font-style="normal" fill="#1a1a1a" text-anchor="end" stroke="#1a1a1a" stroke-width="0.18">200</text>
<line x1="362.6" y1="262.7" x2="364.6" y2="262.7" stroke="#111" stroke-width="0.8"/>
<text x="361.6" y="264.6" font-family="Liberation Sans, sans-serif" font-size="5.4" font-weight="normal" font-style="normal" fill="#1a1a1a" text-anchor="end" stroke="#1a1a1a" stroke-width="0.18">210</text>
<line x1="635.3" y1="405.72" x2="637.3" y2="405.72" stroke="#111" stroke-width="0.8"/>
<text x="638.3" y="407.62" font-family="Liberation Sans, sans-serif" font-size="5.4" font-weight="normal" font-style="normal" fill="#1a1a1a" text-anchor="start" stroke="#1a1a1a" stroke-width="0.18">110</text>
<line x1="635.3" y1="392.6" x2="637.3" y2="392.6" stroke="#111" stroke-width="0.8"/>
<text x="638.3" y="394.5" font-family="Liberation Sans, sans-serif" font-size="5.4" font-weight="normal" font-style="normal" fill="#1a1a1a" text-anchor="start" stroke="#1a1a1a" stroke-width="0.18">115</text>
<line x1="635.3" y1="379.48" x2="637.3" y2="379.48" stroke="#111" stroke-width="0.8"/>
<text x="638.3" y="381.38" font-family="Liberation Sans, sans-serif" font-size="5.4" font-weight="normal" font-style="normal" fill="#1a1a1a" text-anchor="start" stroke="#1a1a1a" stroke-width="0.18">120</text>
<line x1="635.3" y1="366.36" x2="637.3" y2="366.36" stroke="#111" stroke-width="0.8"/>
<text x="638.3" y="368.26" font-family="Liberation Sans, sans-serif" font-size="5.4" font-weight="normal" font-style="normal" fill="#1a1a1a" text-anchor="start" stroke="#1a1a1a" stroke-width="0.18">125</text>
<line x1="635.3" y1="353.24" x2="637.3" y2="353.24" stroke="#111" stroke-width="0.8"/>
<text x="638.3" y="355.14" font-family="Liberation Sans, sans-serif" font-size="5.4" font-weight="normal" font-style="normal" fill="#1a1a1a" text-anchor="start" stroke="#1a1a1a" stroke-width="0.18">130</text>
<line x1="635.3" y1="340.12" x2="637.3" y2="340.12" stroke="#111" stroke-width="0.8"/>
<text x="638.3" y="342.02" font-family="Liberation Sans, sans-serif" font-size="5.4" font-weight="normal" font-style="normal" fill="#1a1a1a" text-anchor="start" stroke="#1a1a1a" stroke-width="0.18">135</text>
<line x1="635.3" y1="327" x2="637.3" y2="327" stroke="#111" stroke-width="0.8"/>
<text x="638.3" y="328.9" font-family="Liberation Sans, sans-serif" font-size="5.4" font-weight="normal" font-style="normal" fill="#1a1a1a" text-anchor="start" stroke="#1a1a1a" stroke-width="0.18">140</text>
<line x1="635.3" y1="313.88" x2="637.3" y2="313.88" stroke="#111" stroke-width="0.8"/>
<text x="638.3" y="315.78" font-family="Liberation Sans, sans-serif" font-size="5.4" font-weight="normal" font-style="normal" fill="#1a1a1a" text-anchor="start" stroke="#1a1a1a" stroke-width="0.18">145</text>
<line x1="635.3" y1="300.76" x2="637.3" y2="300.76" stroke="#111" stroke-width="0.8"/>
<text x="638.3" y="302.66" font-family="Liberation Sans, sans-serif" font-size="5.4" font-weight="normal" font-style="normal" fill="#1a1a1a" text-anchor="start" stroke="#1a1a1a" stroke-width="0.18">150</text>
<line x1="635.3" y1="287.64" x2="637.3" y2="287.64" stroke="#111" stroke-width="0.8"/>
<text x="638.3" y="289.54" font-family="Liberation Sans, sans-serif" font-size="5.4" font-weight="normal" font-style="normal" fill="#1a1a1a" text-anchor="start" stroke="#1a1a1a" stroke-width="0.18">155</text>
<line x1="635.3" y1="274.52" x2="637.3" y2="274.52" stroke="#111" stroke-width="0.8"/>
<text x="638.3" y="276.42" font-family="Liberation Sans, sans-serif" font-size="5.4" font-weight="normal" font-style="normal" fill="#1a1a1a" text-anchor="start" stroke="#1a1a1a" stroke-width="0.18">160</text>
<line x1="635.3" y1="261.4" x2="637.3" y2="261.4" stroke="#111" stroke-width="0.8"/>
<text x="638.3" y="263.3" font-family="Liberation Sans, sans-serif" font-size="5.4" font-weight="normal" font-style="normal" fill="#1a1a1a" text-anchor="start" stroke="#1a1a1a" stroke-width="0.18">165</text>
<line x1="366.3" y1="417.8" x2="366.3" y2="419.8" stroke="#111" stroke-width="0.8"/>
<text x="366.3" y="426.4" font-family="Liberation Sans, sans-serif" font-size="5.4" font-weight="normal" font-style="normal" fill="#1a1a1a" text-anchor="middle" stroke="#1a1a1a" stroke-width="0.18">2,000</text>
<line x1="390.91" y1="417.8" x2="390.91" y2="419.8" stroke="#111" stroke-width="0.8"/>
<text x="390.91" y="426.4" font-family="Liberation Sans, sans-serif" font-size="5.4" font-weight="normal" font-style="normal" fill="#1a1a1a" text-anchor="middle" stroke="#1a1a1a" stroke-width="0.18">2,500</text>
<line x1="415.52" y1="417.8" x2="415.52" y2="419.8" stroke="#111" stroke-width="0.8"/>
<text x="415.52" y="426.4" font-family="Liberation Sans, sans-serif" font-size="5.4" font-weight="normal" font-style="normal" fill="#1a1a1a" text-anchor="middle" stroke="#1a1a1a" stroke-width="0.18">3,000</text>
<line x1="440.13" y1="417.8" x2="440.13" y2="419.8" stroke="#111" stroke-width="0.8"/>
<text x="440.13" y="426.4" font-family="Liberation Sans, sans-serif" font-size="5.4" font-weight="normal" font-style="normal" fill="#1a1a1a" text-anchor="middle" stroke="#1a1a1a" stroke-width="0.18">3,500</text>
<line x1="464.74" y1="417.8" x2="464.74" y2="419.8" stroke="#111" stroke-width="0.8"/>
<text x="464.74" y="426.4" font-family="Liberation Sans, sans-serif" font-size="5.4" font-weight="normal" font-style="normal" fill="#1a1a1a" text-anchor="middle" stroke="#1a1a1a" stroke-width="0.18">4,000</text>
<line x1="489.35" y1="417.8" x2="489.35" y2="419.8" stroke="#111" stroke-width="0.8"/>
<text x="489.35" y="426.4" font-family="Liberation Sans, sans-serif" font-size="5.4" font-weight="normal" font-style="normal" fill="#1a1a1a" text-anchor="middle" stroke="#1a1a1a" stroke-width="0.18">4,500</text>
<line x1="513.96" y1="417.8" x2="513.96" y2="419.8" stroke="#111" stroke-width="0.8"/>
<text x="513.96" y="426.4" font-family="Liberation Sans, sans-serif" font-size="5.4" font-weight="normal" font-style="normal" fill="#1a1a1a" text-anchor="middle" stroke="#1a1a1a" stroke-width="0.18">5,000</text>
<line x1="538.57" y1="417.8" x2="538.57" y2="419.8" stroke="#111" stroke-width="0.8"/>
<text x="538.57" y="426.4" font-family="Liberation Sans, sans-serif" font-size="5.4" font-weight="normal" font-style="normal" fill="#1a1a1a" text-anchor="middle" stroke="#1a1a1a" stroke-width="0.18">5,500</text>
<line x1="563.18" y1="417.8" x2="563.18" y2="419.8" stroke="#111" stroke-width="0.8"/>
<text x="563.18" y="426.4" font-family="Liberation Sans, sans-serif" font-size="5.4" font-weight="normal" font-style="normal" fill="#1a1a1a" text-anchor="middle" stroke="#1a1a1a" stroke-width="0.18">6,000</text>
<line x1="587.79" y1="417.8" x2="587.79" y2="419.8" stroke="#111" stroke-width="0.8"/>
<text x="587.79" y="426.4" font-family="Liberation Sans, sans-serif" font-size="5.4" font-weight="normal" font-style="normal" fill="#1a1a1a" text-anchor="middle" stroke="#1a1a1a" stroke-width="0.18">6,500</text>
<line x1="612.4" y1="417.8" x2="612.4" y2="419.8" stroke="#111" stroke-width="0.8"/>
<text x="612.4" y="426.4" font-family="Liberation Sans, sans-serif" font-size="5.4" font-weight="normal" font-style="normal" fill="#1a1a1a" text-anchor="middle" stroke="#1a1a1a" stroke-width="0.18">7,000</text>
<text x="499.95" y="434.2" font-family="Liberation Sans, sans-serif" font-size="6.6" font-weight="bold" font-style="normal" fill="#111" text-anchor="middle">Speed (rpm)</text>
<text x="0" y="0" transform="translate(350.1,338.7) rotate(-90)" font-family="Liberation Sans, sans-serif" font-size="6.2" font-weight="bold" fill="#111" text-anchor="middle">Power (bhp)</text>
<text x="0" y="0" transform="translate(650.3,338.7) rotate(90)" font-family="Liberation Sans, sans-serif" font-size="6.2" font-weight="bold" fill="#111" text-anchor="middle">Torque (lbft)</text>
<path d="M365.3,399.2 C365.42,400.07 365.3,406.87 366,404.4 C366.7,401.93 368.22,388.57 369.5,384.4 C370.78,380.23 372.48,379.57 373.7,379.4 C374.92,379.23 375.58,382.9 376.8,383.4 C378.02,383.9 379.77,385.37 381,382.4 C382.23,379.43 383.15,372.77 384.2,365.6 C385.25,358.43 386.25,346.77 387.3,339.4 C388.35,332.03 389.45,325.07 390.5,321.4 C391.55,317.73 392.38,318.57 393.6,317.4 C394.82,316.23 396.4,315.9 397.8,314.4 C399.2,312.9 400.6,310.23 402,308.4 C403.4,306.57 404.8,304.57 406.2,303.4 C407.6,302.23 408.82,301.57 410.4,301.4 C411.98,301.23 414.12,302.48 415.7,302.4 C417.28,302.32 418.5,301.65 419.9,300.9 C421.3,300.15 422.7,298.15 424.1,297.9 C425.5,297.65 426.9,298.07 428.3,299.4 C429.7,300.73 430.93,303.07 432.5,305.9 C434.07,308.73 435.95,313.07 437.7,316.4 C439.45,319.73 441.25,323.23 443,325.9 C444.75,328.57 446.28,330.15 448.2,332.4 C450.12,334.65 452.32,337.32 454.5,339.4 C456.68,341.48 459.12,344.65 461.3,344.9 C463.48,345.15 464.97,342.65 467.6,340.9 C470.23,339.15 473.95,336.32 477.1,334.4 C480.25,332.48 484.05,332.23 486.5,329.4 C488.95,326.57 489.87,322.02 491.8,317.4 C493.73,312.78 496.35,305.62 498.1,301.7 C499.85,297.78 501.08,295.87 502.3,293.9 C503.52,291.93 504.18,290.15 505.4,289.9 C506.62,289.65 507.67,290.97 509.6,292.4 C511.53,293.83 514.72,298 517,298.5 C519.28,299 521.03,296.58 523.3,295.4 C525.57,294.22 528.32,292.23 530.6,291.4 C532.88,290.57 534.2,291.23 537,290.4 C539.8,289.57 544.45,287.23 547.4,286.4 C550.35,285.57 551.38,286.4 554.7,285.4 C558.02,284.4 562.75,281.9 567.3,280.4 C571.85,278.9 577.8,277.4 582,276.4 C586.2,275.4 587.77,275.9 592.5,274.4 C597.23,272.9 604.8,268.07 610.4,267.4 C616,266.73 622.43,269.57 626.1,270.4 C629.77,271.23 631.35,272.07 632.4,272.4" fill="none" stroke="#f5c080" stroke-width="0.7"/>
<path d="M365.3,400.2 C365.47,401.6 365.6,411.4 366.3,408.6 C367,405.8 368.27,388.3 369.5,383.4 C370.73,378.5 372.48,379.72 373.7,379.2 C374.92,378.68 375.58,381.17 376.8,380.3 C378.02,379.43 379.8,377.32 381,374 C382.2,370.68 382.95,366.53 384,360.4 C385.05,354.27 386.22,342.87 387.3,337.2 C388.38,331.53 389.45,328.7 390.5,326.4 C391.55,324.1 392.38,324.57 393.6,323.4 C394.82,322.23 396.4,321.23 397.8,319.4 C399.2,317.57 400.6,314.4 402,312.4 C403.4,310.4 404.8,308.57 406.2,307.4 C407.6,306.23 408.82,305.13 410.4,305.4 C411.98,305.67 413.6,308.75 415.7,309 C417.8,309.25 420.9,307.25 423,306.9 C425.1,306.55 426.72,306.03 428.3,306.9 C429.88,307.77 430.75,309.48 432.5,312.1 C434.25,314.72 436.18,318.57 438.8,322.6 C441.42,326.63 445.58,333 448.2,336.3 C450.82,339.6 452.53,340.48 454.5,342.4 C456.47,344.32 457.82,347.63 460,347.8 C462.18,347.97 464.75,345.22 467.6,343.4 C470.45,341.58 473.95,338.9 477.1,336.9 C480.25,334.9 484.05,334.48 486.5,331.4 C488.95,328.32 489.87,323.18 491.8,318.4 C493.73,313.62 496.35,306.72 498.1,302.7 C499.85,298.68 501.08,296.4 502.3,294.3 C503.52,292.2 504.18,290.57 505.4,290.1 C506.62,289.63 507.67,290.98 509.6,291.5 C511.53,292.02 514.72,293.08 517,293.2 C519.28,293.32 521.03,292.9 523.3,292.2 C525.57,291.5 528.32,289.7 530.6,289 C532.88,288.3 534.2,289.05 537,288 C539.8,286.95 544.45,283.75 547.4,282.7 C550.35,281.65 551.38,282.57 554.7,281.7 C558.02,280.83 564.15,278.38 567.3,277.5 C570.45,276.62 571.15,276.75 573.6,276.4 C576.05,276.05 578.85,276.27 582,275.4 C585.15,274.53 589.35,272.43 592.5,271.2 C595.65,269.97 597.92,269.23 600.9,268 C603.88,266.77 607.42,264.43 610.4,263.8 C613.38,263.17 616.18,263.43 618.8,264.2 C621.42,264.97 623.83,267.42 626.1,268.4 C628.37,269.38 631.35,269.82 632.4,270.1" fill="none" stroke="#5a96d8" stroke-width="0.75"/>
<path d="M365.3,398.6 C365.65,396.85 366.53,391.42 367.4,388.1 C368.27,384.78 369.28,380.97 370.5,378.7 C371.72,376.43 373.12,375.73 374.7,374.5 C376.28,373.27 378.6,372.7 380,371.3 C381.4,369.9 382.23,369.25 383.1,366.1 C383.97,362.95 384.5,357.48 385.2,352.4 C385.9,347.32 386.42,340.5 387.3,335.6 C388.18,330.7 389.45,325.6 390.5,323 C391.55,320.4 392.38,321.03 393.6,320 C394.82,318.97 396.4,318.55 397.8,316.8 C399.2,315.05 400.6,311.6 402,309.5 C403.4,307.4 404.8,305.5 406.2,304.2 C407.6,302.9 408.82,301.87 410.4,301.7 C411.98,301.53 414.12,303.3 415.7,303.2 C417.28,303.1 418.5,301.98 419.9,301.1 C421.3,300.22 422.7,298.15 424.1,297.9 C425.5,297.65 426.9,298.2 428.3,299.6 C429.7,301 430.93,303.43 432.5,306.3 C434.07,309.17 435.95,313.47 437.7,316.8 C439.45,320.13 441.25,323.67 443,326.3 C444.75,328.93 446.28,330.4 448.2,332.6 C450.12,334.8 452.83,337.5 454.5,339.5 C456.17,341.5 457.07,343.65 458.2,344.6 C459.33,345.55 459.73,345.8 461.3,345.2 C462.87,344.6 464.97,342.75 467.6,341 C470.23,339.25 473.95,336.63 477.1,334.7 C480.25,332.77 484.05,332.38 486.5,329.4 C488.95,326.42 489.87,321.52 491.8,316.8 C493.73,312.08 496.35,305.12 498.1,301.1 C499.85,297.08 501.08,294.8 502.3,292.7 C503.52,290.6 504.18,288.97 505.4,288.5 C506.62,288.03 507.67,289.38 509.6,289.9 C511.53,290.42 514.72,291.48 517,291.6 C519.28,291.72 521.03,291.3 523.3,290.6 C525.57,289.9 528.32,288.1 530.6,287.4 C532.88,286.7 534.2,287.45 537,286.4 C539.8,285.35 544.45,282.15 547.4,281.1 C550.35,280.05 551.38,280.97 554.7,280.1 C558.02,279.23 564.15,276.78 567.3,275.9 C570.45,275.02 571.15,275.15 573.6,274.8 C576.05,274.45 578.85,274.67 582,273.8 C585.15,272.93 589.35,270.83 592.5,269.6 C595.65,268.37 597.92,267.63 600.9,266.4 C603.88,265.17 607.42,262.83 610.4,262.2 C613.38,261.57 616.18,261.83 618.8,262.6 C621.42,263.37 623.83,265.82 626.1,266.8 C628.37,267.78 631.35,268.22 632.4,268.5" fill="none" stroke="#f09098" stroke-width="0.8"/>
<path d="M365.3,399.8 C365.65,398.05 366.53,392.62 367.4,389.3 C368.27,385.98 369.28,382.17 370.5,379.9 C371.72,377.63 373.12,376.93 374.7,375.7 C376.28,374.47 378.6,373.9 380,372.5 C381.4,371.1 382.23,370.45 383.1,367.3 C383.97,364.15 384.5,358.68 385.2,353.6 C385.9,348.52 386.42,341.7 387.3,336.8 C388.18,331.9 389.45,326.8 390.5,324.2 C391.55,321.6 392.38,322.23 393.6,321.2 C394.82,320.17 396.4,319.75 397.8,318 C399.2,316.25 400.6,312.8 402,310.7 C403.4,308.6 404.8,306.7 406.2,305.4 C407.6,304.1 408.82,303.07 410.4,302.9 C411.98,302.73 414.12,304.5 415.7,304.4 C417.28,304.3 418.5,303.18 419.9,302.3 C421.3,301.42 422.7,299.35 424.1,299.1 C425.5,298.85 426.9,299.4 428.3,300.8 C429.7,302.2 430.93,304.63 432.5,307.5 C434.07,310.37 435.95,314.67 437.7,318 C439.45,321.33 441.25,324.87 443,327.5 C444.75,330.13 446.28,331.6 448.2,333.8 C450.12,336 452.83,338.7 454.5,340.7 C456.17,342.7 457.07,344.85 458.2,345.8 C459.33,346.75 459.73,347 461.3,346.4 C462.87,345.8 464.97,343.95 467.6,342.2 C470.23,340.45 473.95,337.83 477.1,335.9 C480.25,333.97 484.05,333.58 486.5,330.6 C488.95,327.62 489.87,322.72 491.8,318 C493.73,313.28 496.35,306.32 498.1,302.3 C499.85,298.28 501.08,296 502.3,293.9 C503.52,291.8 504.18,290.17 505.4,289.7 C506.62,289.23 507.67,290.58 509.6,291.1 C511.53,291.62 514.72,292.68 517,292.8 C519.28,292.92 521.03,292.5 523.3,291.8 C525.57,291.1 528.32,289.3 530.6,288.6 C532.88,287.9 534.2,288.65 537,287.6 C539.8,286.55 544.45,283.35 547.4,282.3 C550.35,281.25 551.38,282.17 554.7,281.3 C558.02,280.43 564.15,277.98 567.3,277.1 C570.45,276.22 571.15,276.35 573.6,276 C576.05,275.65 578.85,275.87 582,275 C585.15,274.13 589.35,272.03 592.5,270.8 C595.65,269.57 597.92,268.83 600.9,267.6 C603.88,266.37 607.42,264.03 610.4,263.4 C613.38,262.77 616.18,263.03 618.8,263.8 C621.42,264.57 623.83,267.02 626.1,268 C628.37,268.98 631.35,269.42 632.4,269.7" fill="none" stroke="#b82838" stroke-width="1.0"/>
<path d="M366.3,417.1 C366.83,416.22 368.1,413.2 369.5,411.8 C370.9,410.4 372.95,409.92 374.7,408.7 C376.45,407.48 378.25,405.9 380,404.5 C381.75,403.1 383.28,402.4 385.2,400.3 C387.12,398.2 389.4,394.18 391.5,391.9 C393.6,389.62 395.52,388.25 397.8,386.6 C400.08,384.95 402.4,383.68 405.2,382 C408,380.32 411.45,378.35 414.6,376.5 C417.75,374.65 421.3,372.3 424.1,370.9 C426.9,369.5 428.6,368.63 431.4,368.1 C434.2,367.57 437.75,368.18 440.9,367.7 C444.05,367.22 447.25,365.9 450.3,365.2 C453.35,364.5 456.32,364.65 459.2,363.5 C462.08,362.35 464.45,360.3 467.6,358.3 C470.75,356.3 474.6,354.13 478.1,351.5 C481.6,348.87 485.27,345.73 488.6,342.5 C491.93,339.27 495.12,335.23 498.1,332.1 C501.08,328.97 503.35,325.97 506.5,323.7 C509.65,321.43 513.68,320.25 517,318.5 C520.32,316.75 523.25,315.2 526.4,313.2 C529.55,311.2 533.63,307.97 535.9,306.5 C538.17,305.03 536.87,306.25 540,304.4 C543.13,302.55 549.1,298.9 554.7,295.4 C560.3,291.9 569.05,285.9 573.6,283.4 C578.15,280.9 578.85,281.57 582,280.4 C585.15,279.23 589.87,276.4 592.5,276.4 C595.13,276.4 595.87,278.9 597.8,280.4 C599.73,281.9 601.83,284.13 604.1,285.4 C606.37,286.67 608.6,285.33 611.4,288 C614.2,290.67 618.45,297.33 620.9,301.4 C623.35,305.47 624.18,308.68 626.1,312.4 C628.02,316.12 631.35,321.82 632.4,323.7" fill="none" stroke="#f5c080" stroke-width="0.7"/>
<path d="M366.3,418.1 C366.83,417.22 368.1,414.2 369.5,412.8 C370.9,411.4 372.95,410.92 374.7,409.7 C376.45,408.48 378.25,406.9 380,405.5 C381.75,404.1 383.28,403.4 385.2,401.3 C387.12,399.2 389.4,395.18 391.5,392.9 C393.6,390.62 395.52,389.25 397.8,387.6 C400.08,385.95 402.4,384.68 405.2,383 C408,381.32 411.45,379.35 414.6,377.5 C417.75,375.65 421.3,373.3 424.1,371.9 C426.9,370.5 428.6,369.63 431.4,369.1 C434.2,368.57 437.75,369.18 440.9,368.7 C444.05,368.22 447.25,366.9 450.3,366.2 C453.35,365.5 456.32,365.65 459.2,364.5 C462.08,363.35 464.45,361.3 467.6,359.3 C470.75,357.3 474.6,355.13 478.1,352.5 C481.6,349.87 485.27,346.73 488.6,343.5 C491.93,340.27 495.12,336.23 498.1,333.1 C501.08,329.97 503.35,326.97 506.5,324.7 C509.65,322.43 513.68,321.25 517,319.5 C520.32,317.75 523.25,316.2 526.4,314.2 C529.55,312.2 533.63,309.07 535.9,307.5 C538.17,305.93 536.87,306.9 540,304.8 C543.13,302.7 549.1,298.58 554.7,294.9 C560.3,291.22 569.05,285.25 573.6,282.7 C578.15,280.15 578.85,281.15 582,279.6 C585.15,278.05 590,275.6 592.5,273.4 C595,271.2 595.6,268 597,266.4 C598.4,264.8 599.73,263.47 600.9,263.8 C602.07,264.13 602.95,265.6 604,268.4 C605.05,271.2 606.03,278.43 607.2,280.6 C608.37,282.77 609.77,279.82 611,281.4 C612.23,282.98 612.95,286.9 614.6,290.1 C616.25,293.3 618.98,297.1 620.9,300.6 C622.82,304.1 624.18,307.95 626.1,311.1 C628.02,314.25 631.35,318.1 632.4,319.5" fill="none" stroke="#5a96d8" stroke-width="0.75"/>
<path d="M366.3,416.5 C366.83,415.62 368.1,412.6 369.5,411.2 C370.9,409.8 372.95,409.32 374.7,408.1 C376.45,406.88 378.25,405.3 380,403.9 C381.75,402.5 383.28,401.8 385.2,399.7 C387.12,397.6 389.4,393.58 391.5,391.3 C393.6,389.02 395.52,387.65 397.8,386 C400.08,384.35 402.4,383.08 405.2,381.4 C408,379.72 411.45,377.75 414.6,375.9 C417.75,374.05 421.3,371.7 424.1,370.3 C426.9,368.9 428.6,368.03 431.4,367.5 C434.2,366.97 437.75,367.58 440.9,367.1 C444.05,366.62 447.25,365.3 450.3,364.6 C453.35,363.9 456.32,364.05 459.2,362.9 C462.08,361.75 464.45,359.7 467.6,357.7 C470.75,355.7 474.6,353.53 478.1,350.9 C481.6,348.27 485.27,345.13 488.6,341.9 C491.93,338.67 495.12,334.63 498.1,331.5 C501.08,328.37 503.35,325.37 506.5,323.1 C509.65,320.83 513.68,319.65 517,317.9 C520.32,316.15 523.25,314.6 526.4,312.6 C529.55,310.6 533.63,307.47 535.9,305.9 C538.17,304.33 536.87,305.3 540,303.2 C543.13,301.1 549.1,296.98 554.7,293.3 C560.3,289.62 569.05,283.65 573.6,281.1 C578.15,278.55 578.85,278.95 582,278 C585.15,277.05 589.87,275.4 592.5,275.4 C595.13,275.4 595.87,276.52 597.8,278 C599.73,279.48 602.18,283.6 604.1,284.3 C606.02,285 607.55,281.5 609.3,282.2 C611.05,282.9 612.67,285.7 614.6,288.5 C616.53,291.3 618.98,295.5 620.9,299 C622.82,302.5 624.18,306.35 626.1,309.5 C628.02,312.65 631.35,316.5 632.4,317.9" fill="none" stroke="#f09098" stroke-width="0.8"/>
<path d="M366.3,417.7 C366.83,416.82 368.1,413.8 369.5,412.4 C370.9,411 372.95,410.52 374.7,409.3 C376.45,408.08 378.25,406.5 380,405.1 C381.75,403.7 383.28,403 385.2,400.9 C387.12,398.8 389.4,394.78 391.5,392.5 C393.6,390.22 395.52,388.85 397.8,387.2 C400.08,385.55 402.4,384.28 405.2,382.6 C408,380.92 411.45,378.95 414.6,377.1 C417.75,375.25 421.3,372.9 424.1,371.5 C426.9,370.1 428.6,369.23 431.4,368.7 C434.2,368.17 437.75,368.78 440.9,368.3 C444.05,367.82 447.25,366.5 450.3,365.8 C453.35,365.1 456.32,365.25 459.2,364.1 C462.08,362.95 464.45,360.9 467.6,358.9 C470.75,356.9 474.6,354.73 478.1,352.1 C481.6,349.47 485.27,346.33 488.6,343.1 C491.93,339.87 495.12,335.83 498.1,332.7 C501.08,329.57 503.35,326.57 506.5,324.3 C509.65,322.03 513.68,320.85 517,319.1 C520.32,317.35 523.25,315.8 526.4,313.8 C529.55,311.8 533.63,308.67 535.9,307.1 C538.17,305.53 536.87,306.5 540,304.4 C543.13,302.3 549.1,298.18 554.7,294.5 C560.3,290.82 569.05,284.85 573.6,282.3 C578.15,279.75 578.85,280.15 582,279.2 C585.15,278.25 589.87,276.6 592.5,276.6 C595.13,276.6 595.87,277.72 597.8,279.2 C599.73,280.68 602.18,284.8 604.1,285.5 C606.02,286.2 607.55,282.7 609.3,283.4 C611.05,284.1 612.67,286.9 614.6,289.7 C616.53,292.5 618.98,296.7 620.9,300.2 C622.82,303.7 624.18,307.55 626.1,310.7 C628.02,313.85 631.35,317.7 632.4,319.1" fill="none" stroke="#b82838" stroke-width="1.0"/>
<rect x="364.2" y="399.84" width="2.4" height="2.4" fill="#2a2a2a"/>
<rect x="364.2" y="398.74" width="2.4" height="2.4" fill="#2a2a2a"/>
<rect x="364.2" y="398.1" width="2.4" height="2.4" fill="#2a2a2a"/>
<rect x="383.6" y="353.58" width="2.4" height="2.4" fill="#2a2a2a"/>
<rect x="383.6" y="359.33" width="2.4" height="2.4" fill="#2a2a2a"/>
<rect x="383.6" y="355.01" width="2.4" height="2.4" fill="#2a2a2a"/>
<circle cx="384.8" cy="401.62" r="1.2" fill="#2a2a2a"/>
<circle cx="384.8" cy="400.62" r="1.2" fill="#2a2a2a"/>
<circle cx="384.8" cy="401.22" r="1.2" fill="#2a2a2a"/>
<rect x="402.9" y="308.7" width="2.4" height="2.4" fill="#2a2a2a"/>
<rect x="402.9" y="304.7" width="2.4" height="2.4" fill="#2a2a2a"/>
<rect x="402.9" y="306.85" width="2.4" height="2.4" fill="#2a2a2a"/>
<circle cx="404.1" cy="383.68" r="1.2" fill="#2a2a2a"/>
<circle cx="404.1" cy="382.68" r="1.2" fill="#2a2a2a"/>
<circle cx="404.1" cy="383.28" r="1.2" fill="#2a2a2a"/>
<rect x="421.8" y="305.7" width="2.4" height="2.4" fill="#2a2a2a"/>
<rect x="421.8" y="297.49" width="2.4" height="2.4" fill="#2a2a2a"/>
<rect x="421.8" y="298.74" width="2.4" height="2.4" fill="#2a2a2a"/>
<circle cx="423" cy="372.55" r="1.2" fill="#2a2a2a"/>
<circle cx="423" cy="371.55" r="1.2" fill="#2a2a2a"/>
<circle cx="423" cy="372.15" r="1.2" fill="#2a2a2a"/>
<rect x="439.7" y="324.46" width="2.4" height="2.4" fill="#2a2a2a"/>
<rect x="439.7" y="320.94" width="2.4" height="2.4" fill="#2a2a2a"/>
<rect x="439.7" y="322.54" width="2.4" height="2.4" fill="#2a2a2a"/>
<circle cx="440.9" cy="368.7" r="1.2" fill="#2a2a2a"/>
<circle cx="440.9" cy="367.7" r="1.2" fill="#2a2a2a"/>
<circle cx="440.9" cy="368.3" r="1.2" fill="#2a2a2a"/>
<rect x="457.3" y="345.13" width="2.4" height="2.4" fill="#2a2a2a"/>
<rect x="457.3" y="341.44" width="2.4" height="2.4" fill="#2a2a2a"/>
<rect x="457.3" y="344.66" width="2.4" height="2.4" fill="#2a2a2a"/>
<circle cx="458.5" cy="364.63" r="1.2" fill="#2a2a2a"/>
<circle cx="458.5" cy="363.63" r="1.2" fill="#2a2a2a"/>
<circle cx="458.5" cy="364.23" r="1.2" fill="#2a2a2a"/>
<rect x="475.9" y="335.7" width="2.4" height="2.4" fill="#2a2a2a"/>
<rect x="475.9" y="333.2" width="2.4" height="2.4" fill="#2a2a2a"/>
<rect x="475.9" y="334.7" width="2.4" height="2.4" fill="#2a2a2a"/>
<circle cx="477.1" cy="353.15" r="1.2" fill="#2a2a2a"/>
<circle cx="477.1" cy="352.15" r="1.2" fill="#2a2a2a"/>
<circle cx="477.1" cy="352.75" r="1.2" fill="#2a2a2a"/>
<rect x="496.9" y="301.5" width="2.4" height="2.4" fill="#2a2a2a"/>
<rect x="496.9" y="300.5" width="2.4" height="2.4" fill="#2a2a2a"/>
<rect x="496.9" y="301.1" width="2.4" height="2.4" fill="#2a2a2a"/>
<circle cx="498.1" cy="333.1" r="1.2" fill="#2a2a2a"/>
<circle cx="498.1" cy="332.1" r="1.2" fill="#2a2a2a"/>
<circle cx="498.1" cy="332.7" r="1.2" fill="#2a2a2a"/>
<rect x="515.8" y="292" width="2.4" height="2.4" fill="#2a2a2a"/>
<rect x="515.8" y="297.3" width="2.4" height="2.4" fill="#2a2a2a"/>
<rect x="515.8" y="291.6" width="2.4" height="2.4" fill="#2a2a2a"/>
<circle cx="517" cy="319.5" r="1.2" fill="#2a2a2a"/>
<circle cx="517" cy="318.5" r="1.2" fill="#2a2a2a"/>
<circle cx="517" cy="319.1" r="1.2" fill="#2a2a2a"/>
<rect x="534.7" y="286.97" width="2.4" height="2.4" fill="#2a2a2a"/>
<rect x="534.7" y="289.37" width="2.4" height="2.4" fill="#2a2a2a"/>
<rect x="534.7" y="286.57" width="2.4" height="2.4" fill="#2a2a2a"/>
<circle cx="535.9" cy="307.5" r="1.2" fill="#2a2a2a"/>
<circle cx="535.9" cy="306.5" r="1.2" fill="#2a2a2a"/>
<circle cx="535.9" cy="307.1" r="1.2" fill="#2a2a2a"/>
<rect x="553.6" y="280.47" width="2.4" height="2.4" fill="#2a2a2a"/>
<rect x="553.6" y="284.16" width="2.4" height="2.4" fill="#2a2a2a"/>
<rect x="553.6" y="280.07" width="2.4" height="2.4" fill="#2a2a2a"/>
<circle cx="554.8" cy="294.84" r="1.2" fill="#2a2a2a"/>
<circle cx="554.8" cy="295.34" r="1.2" fill="#2a2a2a"/>
<circle cx="554.8" cy="294.44" r="1.2" fill="#2a2a2a"/>
<rect x="572.4" y="275.2" width="2.4" height="2.4" fill="#2a2a2a"/>
<rect x="572.4" y="277.49" width="2.4" height="2.4" fill="#2a2a2a"/>
<rect x="572.4" y="274.8" width="2.4" height="2.4" fill="#2a2a2a"/>
<circle cx="573.6" cy="282.7" r="1.2" fill="#2a2a2a"/>
<circle cx="573.6" cy="283.4" r="1.2" fill="#2a2a2a"/>
<circle cx="573.6" cy="282.3" r="1.2" fill="#2a2a2a"/>
<rect x="591.3" y="270" width="2.4" height="2.4" fill="#2a2a2a"/>
<rect x="591.3" y="273.2" width="2.4" height="2.4" fill="#2a2a2a"/>
<rect x="591.3" y="269.6" width="2.4" height="2.4" fill="#2a2a2a"/>
<circle cx="592.5" cy="273.4" r="1.2" fill="#2a2a2a"/>
<circle cx="592.5" cy="276.4" r="1.2" fill="#2a2a2a"/>
<circle cx="592.5" cy="276.6" r="1.2" fill="#2a2a2a"/>
<rect x="609.2" y="262.6" width="2.4" height="2.4" fill="#2a2a2a"/>
<rect x="609.2" y="266.2" width="2.4" height="2.4" fill="#2a2a2a"/>
<rect x="609.2" y="262.2" width="2.4" height="2.4" fill="#2a2a2a"/>
<circle cx="610.4" cy="281.27" r="1.2" fill="#2a2a2a"/>
<circle cx="610.4" cy="287.64" r="1.2" fill="#2a2a2a"/>
<circle cx="610.4" cy="284.71" r="1.2" fill="#2a2a2a"/>
<rect x="624.9" y="267.2" width="2.4" height="2.4" fill="#2a2a2a"/>
<rect x="624.9" y="269.2" width="2.4" height="2.4" fill="#2a2a2a"/>
<rect x="624.9" y="266.8" width="2.4" height="2.4" fill="#2a2a2a"/>
<circle cx="626.1" cy="311.1" r="1.2" fill="#2a2a2a"/>
<circle cx="626.1" cy="312.4" r="1.2" fill="#2a2a2a"/>
<circle cx="626.1" cy="310.7" r="1.2" fill="#2a2a2a"/>
</g>
<g transform="matrix(1,-0.005,0,1,0,3.36)">
<rect x="671.3" y="4.2" width="328.7" height="94.1" fill="#fff"/>
<line x1="671.3" y1="4.2" x2="1000" y2="4.2" stroke="#a4a4a4" stroke-width="1.1"/>
<line x1="671.3" y1="98.3" x2="1000" y2="98.3" stroke="#a4a4a4" stroke-width="1.1"/>
<line x1="671.3" y1="4.2" x2="671.3" y2="98.3" stroke="#a4a4a4" stroke-width="1.1"/>
<line x1="1000" y1="4.2" x2="1000" y2="98.3" stroke="#a4a4a4" stroke-width="1.1"/>
<line x1="671.3" y1="31.5" x2="1000" y2="31.5" stroke="#8a8a8a" stroke-width="1.1"/>
<text x="676.9" y="21" font-family="Liberation Sans, sans-serif" font-size="13.6" font-weight="bold" font-style="normal" fill="#111" text-anchor="start" textLength="58.6" lengthAdjust="spacingAndGlyphs" stroke="#111" stroke-width="0.5">DASTEK</text>
<text x="676.9" y="27.7" font-family="Liberation Sans, sans-serif" font-size="5.8" font-weight="bold" font-style="normal" fill="#111" text-anchor="start" textLength="58.6" lengthAdjust="spacingAndGlyphs" stroke="#111" stroke-width="0.25">DYNAMOMETERS</text>
<clipPath id="hx671"><polygon points="751.7,10.1 760.1,14.55 760.1,23.45 751.7,27.9 743.3,23.45 743.3,14.55"/></clipPath>
<polygon points="751.7,10.1 760.1,14.55 760.1,23.45 751.7,27.9 743.3,23.45 743.3,14.55" fill="#0c0c38"/>
<g clip-path="url(#hx671)"><path d="M751.7,9.1 L751.7,19.6 L742.3,24.45 M751.7,19.6 L761.1,24.45" stroke="#d8d040" stroke-width="3.0" fill="none" stroke-linejoin="miter"/><path d="M751.7,9.1 L751.7,19.6 L742.3,24.45 M751.7,19.6 L761.1,24.45" stroke="#6a6a20" stroke-width="0.5" fill="none"/></g>
<text x="845.5" y="15.4" font-family="Liberation Sans, sans-serif" font-size="7.7" font-weight="bold" font-style="normal" fill="#1a1a1a" text-anchor="start" textLength="76.3" lengthAdjust="spacingAndGlyphs" stroke="#1a1a1a" stroke-width="0.18">John Clarkson Autos</text>
<text x="828.8" y="26.1" font-family="Liberation Sans, sans-serif" font-size="6.4" font-weight="bold" font-style="normal" fill="#1a1a1a" text-anchor="start" textLength="109.6" lengthAdjust="spacing" stroke="#1a1a1a" stroke-width="0.18">DYNAMOMETER REPORT</text>
<text x="679.6" y="40.2" font-family="Liberation Sans, sans-serif" font-size="5.7" font-weight="normal" font-style="normal" fill="#1a1a1a" text-anchor="start" stroke="#1a1a1a" stroke-width="0.18">Registration No. :</text>
<text x="730.1" y="40.2" font-family="Liberation Sans, sans-serif" font-size="5.7" font-weight="bold" font-style="italic" fill="#1c1c4a" text-anchor="start" stroke="#1c1c4a" stroke-width="0.2">MK14AXY</text>
<text x="679.6" y="49.3" font-family="Liberation Sans, sans-serif" font-size="5.7" font-weight="normal" font-style="normal" fill="#1a1a1a" text-anchor="start" stroke="#1a1a1a" stroke-width="0.18">Vehicle Type:</text>
<text x="730.1" y="49.3" font-family="Liberation Sans, sans-serif" font-size="5.7" font-weight="bold" font-style="italic" fill="#1c1c4a" text-anchor="start" stroke="#1c1c4a" stroke-width="0.2">TOYOTA GT86</text>
<text x="679.6" y="58.5" font-family="Liberation Sans, sans-serif" font-size="5.7" font-weight="normal" font-style="normal" fill="#1a1a1a" text-anchor="start" stroke="#1a1a1a" stroke-width="0.18">Operator Id :</text>
<text x="730.1" y="58.5" font-family="Liberation Sans, sans-serif" font-size="5.7" font-weight="bold" font-style="italic" fill="#1c1c4a" text-anchor="start" stroke="#1c1c4a" stroke-width="0.2">A. Clarkson</text>
<text x="679.6" y="68.2" font-family="Liberation Sans, sans-serif" font-size="5.7" font-weight="normal" font-style="normal" fill="#1a1a1a" text-anchor="start" stroke="#1a1a1a" stroke-width="0.18">Customer :</text>
<text x="730.1" y="68.2" font-family="Liberation Sans, sans-serif" font-size="5.7" font-weight="bold" font-style="italic" fill="#1c1c4a" text-anchor="start" stroke="#1c1c4a" stroke-width="0.2">JAPSPEED</text>
<text x="679.6" y="76.8" font-family="Liberation Sans, sans-serif" font-size="5.7" font-weight="normal" font-style="normal" fill="#1a1a1a" text-anchor="start" stroke="#1a1a1a" stroke-width="0.18">Comments :</text>
<text x="891.5" y="40.6" font-family="Liberation Sans, sans-serif" font-size="5.7" font-weight="normal" font-style="normal" fill="#1a1a1a" text-anchor="start" stroke="#1a1a1a" stroke-width="0.18">Date Tested :</text>
<text x="953.3" y="40.6" font-family="Liberation Sans, sans-serif" font-size="5.7" font-weight="bold" font-style="italic" fill="#1c1c4a" text-anchor="start" stroke="#1c1c4a" stroke-width="0.2">12/06/2014</text>
<text x="891.5" y="49.9" font-family="Liberation Sans, sans-serif" font-size="5.7" font-weight="normal" font-style="normal" fill="#1a1a1a" text-anchor="start" stroke="#1a1a1a" stroke-width="0.18">Gear Used:</text>
<text x="953.3" y="49.9" font-family="Liberation Sans, sans-serif" font-size="5.7" font-weight="bold" font-style="italic" fill="#1c1c4a" text-anchor="start" stroke="#1c1c4a" stroke-width="0.2">5</text>
<text x="891.5" y="59.2" font-family="Liberation Sans, sans-serif" font-size="5.7" font-weight="normal" font-style="normal" fill="#1a1a1a" text-anchor="start" stroke="#1a1a1a" stroke-width="0.18">Ramp Rate :</text>
<text x="953.3" y="59.2" font-family="Liberation Sans, sans-serif" font-size="5.7" font-weight="bold" font-style="italic" fill="#1c1c4a" text-anchor="start" stroke="#1c1c4a" stroke-width="0.2">2</text>
<text x="891.5" y="68.6" font-family="Liberation Sans, sans-serif" font-size="5.7" font-weight="normal" font-style="normal" fill="#1a1a1a" text-anchor="start" stroke="#1a1a1a" stroke-width="0.18">MPH per 1000 RPM :</text>
<text x="953.3" y="68.6" font-family="Liberation Sans, sans-serif" font-size="5.7" font-weight="bold" font-style="italic" fill="#1c1c4a" text-anchor="start" stroke="#1c1c4a" stroke-width="0.2">18.23</text>
<rect x="671.3" y="104.4" width="328.7" height="10.6" fill="#3a8ee6"/>
<g clip-path="url(#bc671_0)" opacity="0.55">
<clipPath id="bc671_0"><rect x="671.3" y="104.4" width="328.7" height="10.6"/></clipPath>
<text x="672.3" y="112.95" font-family="Liberation Serif, sans-serif" font-size="9" font-weight="bold" font-style="normal" fill="#1450b0" text-anchor="start" textLength="243.2" lengthAdjust="spacing" stroke="#1450b0" stroke-width="2.6" filter="url(#halo)">RUN NO 1 EX MANIFOLD, FULL SYSTEM, &amp; AIR KIT</text>
</g>
<text x="672.3" y="112.95" font-family="Liberation Serif, sans-serif" font-size="9" font-weight="bold" font-style="normal" fill="#0a1a48" text-anchor="start" textLength="243.2" lengthAdjust="spacing" stroke="#0a1a48" stroke-width="0.55">RUN NO 1 EX MANIFOLD, FULL SYSTEM, &amp; AIR KIT</text>
<text x="678.6" y="124.15" font-family="Liberation Sans, sans-serif" font-size="6.45" font-weight="normal" font-style="normal" fill="#1a1a1a" text-anchor="start" stroke="#1a1a1a" stroke-width="0.18">Maximum Power - Wheels</text>
<text x="777.3" y="124.15" font-family="Liberation Sans, sans-serif" font-size="6.45" font-weight="normal" font-style="normal" fill="#1a1a1a" text-anchor="end" stroke="#1a1a1a" stroke-width="0.18">163.9</text>
<text x="832.7" y="124.15" font-family="Liberation Sans, sans-serif" font-size="6.45" font-weight="normal" font-style="normal" fill="#1a1a1a" text-anchor="end" stroke="#1a1a1a" stroke-width="0.18">bhp @ 6,812 rpm</text>
<text x="880.8" y="124.15" font-family="Liberation Sans, sans-serif" font-size="6.45" font-weight="normal" font-style="normal" fill="#1a1a1a" text-anchor="start" stroke="#1a1a1a" stroke-width="0.18">Correction Factor</text>
<text x="985.3" y="124.15" font-family="Liberation Sans, sans-serif" font-size="6.45" font-weight="normal" font-style="normal" fill="#1a1a1a" text-anchor="end" stroke="#1a1a1a" stroke-width="0.18">101.3 %</text>
<text x="678.6" y="132.25" font-family="Liberation Sans, sans-serif" font-size="6.45" font-weight="normal" font-style="normal" fill="#1a1a1a" text-anchor="start" stroke="#1a1a1a" stroke-width="0.18">Maximum Power - Engine</text>
<text x="777.3" y="132.25" font-family="Liberation Sans, sans-serif" font-size="6.45" font-weight="normal" font-style="normal" fill="#1a1a1a" text-anchor="end" stroke="#1a1a1a" stroke-width="0.18">214.1</text>
<text x="832.7" y="132.25" font-family="Liberation Sans, sans-serif" font-size="6.45" font-weight="normal" font-style="normal" fill="#1a1a1a" text-anchor="end" stroke="#1a1a1a" stroke-width="0.18">bhp @ 7,081 rpm</text>
<text x="880.8" y="132.25" font-family="Liberation Sans, sans-serif" font-size="6.45" font-weight="normal" font-style="normal" fill="#1a1a1a" text-anchor="start" stroke="#1a1a1a" stroke-width="0.18">Environment Temperature</text>
<text x="985.3" y="132.25" font-family="Liberation Sans, sans-serif" font-size="6.45" font-weight="normal" font-style="normal" fill="#1a1a1a" text-anchor="end" stroke="#1a1a1a" stroke-width="0.18">26.4 °C</text>
<text x="678.6" y="140.35" font-family="Liberation Sans, sans-serif" font-size="6.45" font-weight="normal" font-style="normal" fill="#1a1a1a" text-anchor="start" stroke="#1a1a1a" stroke-width="0.18">Maximum Torque</text>
<text x="777.3" y="140.35" font-family="Liberation Sans, sans-serif" font-size="6.45" font-weight="normal" font-style="normal" fill="#1a1a1a" text-anchor="end" stroke="#1a1a1a" stroke-width="0.18">162.2</text>
<text x="832.7" y="140.35" font-family="Liberation Sans, sans-serif" font-size="6.45" font-weight="normal" font-style="normal" fill="#1a1a1a" text-anchor="end" stroke="#1a1a1a" stroke-width="0.18">lbft @ 6,628 rpm</text>
<text x="880.8" y="140.35" font-family="Liberation Sans, sans-serif" font-size="6.45" font-weight="normal" font-style="normal" fill="#1a1a1a" text-anchor="start" stroke="#1a1a1a" stroke-width="0.18">Barometric Pressure</text>
<text x="994.3" y="140.35" font-family="Liberation Sans, sans-serif" font-size="6.45" font-weight="normal" font-style="normal" fill="#1a1a1a" text-anchor="end" stroke="#1a1a1a" stroke-width="0.18">1011 mBar</text>
<rect x="671.3" y="147.9" width="328.7" height="10.6" fill="#d8102a"/>
<g clip-path="url(#bc671_1)" opacity="0.55">
<clipPath id="bc671_1"><rect x="671.3" y="147.9" width="328.7" height="10.6"/></clipPath>
<text x="672.3" y="156.45" font-family="Liberation Serif, sans-serif" font-size="9" font-weight="bold" font-style="normal" fill="#780010" text-anchor="start" textLength="243.2" lengthAdjust="spacing" stroke="#780010" stroke-width="2.6" filter="url(#halo)">RUN NO 2 EX MANIFOLD, FULL SYSTEM, &amp; AIR KIT</text>
</g>
<text x="672.3" y="156.45" font-family="Liberation Serif, sans-serif" font-size="9" font-weight="bold" font-style="normal" fill="#3a0008" text-anchor="start" textLength="243.2" lengthAdjust="spacing" stroke="#3a0008" stroke-width="0.55">RUN NO 2 EX MANIFOLD, FULL SYSTEM, &amp; AIR KIT</text>
<text x="678.6" y="167.65" font-family="Liberation Sans, sans-serif" font-size="6.45" font-weight="normal" font-style="normal" fill="#1a1a1a" text-anchor="start" stroke="#1a1a1a" stroke-width="0.18">Maximum Power - Wheels</text>
<text x="777.3" y="167.65" font-family="Liberation Sans, sans-serif" font-size="6.45" font-weight="normal" font-style="normal" fill="#1a1a1a" text-anchor="end" stroke="#1a1a1a" stroke-width="0.18">164.3</text>
<text x="832.7" y="167.65" font-family="Liberation Sans, sans-serif" font-size="6.45" font-weight="normal" font-style="normal" fill="#1a1a1a" text-anchor="end" stroke="#1a1a1a" stroke-width="0.18">bhp @ 6,739 rpm</text>
<text x="880.8" y="167.65" font-family="Liberation Sans, sans-serif" font-size="6.45" font-weight="normal" font-style="normal" fill="#1a1a1a" text-anchor="start" stroke="#1a1a1a" stroke-width="0.18">Correction Factor</text>
<text x="985.3" y="167.65" font-family="Liberation Sans, sans-serif" font-size="6.45" font-weight="normal" font-style="normal" fill="#1a1a1a" text-anchor="end" stroke="#1a1a1a" stroke-width="0.18">101.2 %</text>
<text x="678.6" y="175.75" font-family="Liberation Sans, sans-serif" font-size="6.45" font-weight="normal" font-style="normal" fill="#1a1a1a" text-anchor="start" stroke="#1a1a1a" stroke-width="0.18">Maximum Power - Engine</text>
<text x="777.3" y="175.75" font-family="Liberation Sans, sans-serif" font-size="6.45" font-weight="normal" font-style="normal" fill="#1a1a1a" text-anchor="end" stroke="#1a1a1a" stroke-width="0.18">211.3</text>
<text x="832.7" y="175.75" font-family="Liberation Sans, sans-serif" font-size="6.45" font-weight="normal" font-style="normal" fill="#1a1a1a" text-anchor="end" stroke="#1a1a1a" stroke-width="0.18">bhp @ 7,142 rpm</text>
<text x="880.8" y="175.75" font-family="Liberation Sans, sans-serif" font-size="6.45" font-weight="normal" font-style="normal" fill="#1a1a1a" text-anchor="start" stroke="#1a1a1a" stroke-width="0.18">Environment Temperature</text>
<text x="985.3" y="175.75" font-family="Liberation Sans, sans-serif" font-size="6.45" font-weight="normal" font-style="normal" fill="#1a1a1a" text-anchor="end" stroke="#1a1a1a" stroke-width="0.18">26.0 °C</text>
<text x="678.6" y="183.85" font-family="Liberation Sans, sans-serif" font-size="6.45" font-weight="normal" font-style="normal" fill="#1a1a1a" text-anchor="start" stroke="#1a1a1a" stroke-width="0.18">Maximum Torque</text>
<text x="777.3" y="183.85" font-family="Liberation Sans, sans-serif" font-size="6.45" font-weight="normal" font-style="normal" fill="#1a1a1a" text-anchor="end" stroke="#1a1a1a" stroke-width="0.18">162.8</text>
<text x="832.7" y="183.85" font-family="Liberation Sans, sans-serif" font-size="6.45" font-weight="normal" font-style="normal" fill="#1a1a1a" text-anchor="end" stroke="#1a1a1a" stroke-width="0.18">lbft @ 6,710 rpm</text>
<text x="880.8" y="183.85" font-family="Liberation Sans, sans-serif" font-size="6.45" font-weight="normal" font-style="normal" fill="#1a1a1a" text-anchor="start" stroke="#1a1a1a" stroke-width="0.18">Barometric Pressure</text>
<text x="994.3" y="183.85" font-family="Liberation Sans, sans-serif" font-size="6.45" font-weight="normal" font-style="normal" fill="#1a1a1a" text-anchor="end" stroke="#1a1a1a" stroke-width="0.18">1011 mBar</text>
<rect x="671.3" y="191.4" width="328.7" height="10.6" fill="#f0a050"/>
<g clip-path="url(#bc671_2)" opacity="0.55">
<clipPath id="bc671_2"><rect x="671.3" y="191.4" width="328.7" height="10.6"/></clipPath>
<text x="672.3" y="199.95" font-family="Liberation Serif, sans-serif" font-size="9" font-weight="bold" font-style="normal" fill="#b06828" text-anchor="start" textLength="243.2" lengthAdjust="spacing" stroke="#b06828" stroke-width="2.6" filter="url(#halo)">RUN NO 3 EX MANIFOLD, FULL SYSTEM, &amp; AIR KIT</text>
</g>
<text x="672.3" y="199.95" font-family="Liberation Serif, sans-serif" font-size="9" font-weight="bold" font-style="normal" fill="#3a1a08" text-anchor="start" textLength="243.2" lengthAdjust="spacing" stroke="#3a1a08" stroke-width="0.55">RUN NO 3 EX MANIFOLD, FULL SYSTEM, &amp; AIR KIT</text>
<text x="678.6" y="211.15" font-family="Liberation Sans, sans-serif" font-size="6.45" font-weight="normal" font-style="normal" fill="#1a1a1a" text-anchor="start" stroke="#1a1a1a" stroke-width="0.18">Maximum Power - Wheels</text>
<text x="777.3" y="211.15" font-family="Liberation Sans, sans-serif" font-size="6.45" font-weight="normal" font-style="normal" fill="#1a1a1a" text-anchor="end" stroke="#1a1a1a" stroke-width="0.18">164.2</text>
<text x="832.7" y="211.15" font-family="Liberation Sans, sans-serif" font-size="6.45" font-weight="normal" font-style="normal" fill="#1a1a1a" text-anchor="end" stroke="#1a1a1a" stroke-width="0.18">bhp @ 6,872 rpm</text>
<text x="880.8" y="211.15" font-family="Liberation Sans, sans-serif" font-size="6.45" font-weight="normal" font-style="normal" fill="#1a1a1a" text-anchor="start" stroke="#1a1a1a" stroke-width="0.18">Correction Factor</text>
<text x="985.3" y="211.15" font-family="Liberation Sans, sans-serif" font-size="6.45" font-weight="normal" font-style="normal" fill="#1a1a1a" text-anchor="end" stroke="#1a1a1a" stroke-width="0.18">101.2 %</text>
<text x="678.6" y="219.25" font-family="Liberation Sans, sans-serif" font-size="6.45" font-weight="normal" font-style="normal" fill="#1a1a1a" text-anchor="start" stroke="#1a1a1a" stroke-width="0.18">Maximum Power - Engine</text>
<text x="777.3" y="219.25" font-family="Liberation Sans, sans-serif" font-size="6.45" font-weight="normal" font-style="normal" fill="#1a1a1a" text-anchor="end" stroke="#1a1a1a" stroke-width="0.18">210.2</text>
<text x="832.7" y="219.25" font-family="Liberation Sans, sans-serif" font-size="6.45" font-weight="normal" font-style="normal" fill="#1a1a1a" text-anchor="end" stroke="#1a1a1a" stroke-width="0.18">bhp @ 7,174 rpm</text>
<text x="880.8" y="219.25" font-family="Liberation Sans, sans-serif" font-size="6.45" font-weight="normal" font-style="normal" fill="#1a1a1a" text-anchor="start" stroke="#1a1a1a" stroke-width="0.18">Environment Temperature</text>
<text x="985.3" y="219.25" font-family="Liberation Sans, sans-serif" font-size="6.45" font-weight="normal" font-style="normal" fill="#1a1a1a" text-anchor="end" stroke="#1a1a1a" stroke-width="0.18">26.0 °C</text>
<text x="678.6" y="227.35" font-family="Liberation Sans, sans-serif" font-size="6.45" font-weight="normal" font-style="normal" fill="#1a1a1a" text-anchor="start" stroke="#1a1a1a" stroke-width="0.18">Maximum Torque</text>
<text x="777.3" y="227.35" font-family="Liberation Sans, sans-serif" font-size="6.45" font-weight="normal" font-style="normal" fill="#1a1a1a" text-anchor="end" stroke="#1a1a1a" stroke-width="0.18">161.3</text>
<text x="832.7" y="227.35" font-family="Liberation Sans, sans-serif" font-size="6.45" font-weight="normal" font-style="normal" fill="#1a1a1a" text-anchor="end" stroke="#1a1a1a" stroke-width="0.18">lbft @ 6,587 rpm</text>
<text x="880.8" y="227.35" font-family="Liberation Sans, sans-serif" font-size="6.45" font-weight="normal" font-style="normal" fill="#1a1a1a" text-anchor="start" stroke="#1a1a1a" stroke-width="0.18">Barometric Pressure</text>
<text x="994.3" y="227.35" font-family="Liberation Sans, sans-serif" font-size="6.45" font-weight="normal" font-style="normal" fill="#1a1a1a" text-anchor="end" stroke="#1a1a1a" stroke-width="0.18">1011 mBar</text>
</g>
<g transform="matrix(1,-0.004,0,1,0,2.69)">
<rect x="671.3" y="237.5" width="328.7" height="203.5" fill="#fff"/>
<line x1="671.3" y1="237.5" x2="1000" y2="237.5" stroke="#a4a4a4" stroke-width="1"/>
<line x1="671.3" y1="441" x2="1000" y2="441" stroke="#a4a4a4" stroke-width="1"/>
<line x1="671.3" y1="237.5" x2="671.3" y2="441" stroke="#a4a4a4" stroke-width="1"/>
<line x1="1000" y1="237.5" x2="1000" y2="441" stroke="#a4a4a4" stroke-width="1"/>
<rect x="671.3" y="445.7" width="328.7" height="21.8" fill="#fff"/>
<line x1="671.3" y1="445.7" x2="1000" y2="445.7" stroke="#a4a4a4" stroke-width="1"/>
<line x1="671.3" y1="467.5" x2="1000" y2="467.5" stroke="#a4a4a4" stroke-width="1"/>
<line x1="671.3" y1="445.7" x2="671.3" y2="467.5" stroke="#a4a4a4" stroke-width="1"/>
<line x1="1000" y1="445.7" x2="1000" y2="467.5" stroke="#a4a4a4" stroke-width="1"/>
<rect x="677.7" y="448.2" width="4.2" height="4.4" fill="#111"/>
<line x1="676.5" y1="450.4" x2="683.1" y2="450.4" stroke="#111" stroke-width="1.2"/>
<circle cx="679.8" cy="458.4" r="2.2" fill="#111"/>
<line x1="676.5" y1="458.4" x2="683.1" y2="458.4" stroke="#111" stroke-width="1.2"/>
<text x="690.6" y="452.5" font-family="Liberation Sans, sans-serif" font-size="5.7" font-weight="normal" font-style="normal" fill="#1a1a1a" text-anchor="start" stroke="#1a1a1a" stroke-width="0.18">Power Line</text>
<text x="690.6" y="460.5" font-family="Liberation Sans, sans-serif" font-size="5.7" font-weight="normal" font-style="normal" fill="#1a1a1a" text-anchor="start" stroke="#1a1a1a" stroke-width="0.18">Torque Line</text>
<line x1="722.68" y1="259.6" x2="722.68" y2="418.5" stroke="#bcbcd0" stroke-width="0.7"/>
<line x1="747.46" y1="259.6" x2="747.46" y2="418.5" stroke="#bcbcd0" stroke-width="0.7"/>
<line x1="772.24" y1="259.6" x2="772.24" y2="418.5" stroke="#bcbcd0" stroke-width="0.7"/>
<line x1="797.02" y1="259.6" x2="797.02" y2="418.5" stroke="#bcbcd0" stroke-width="0.7"/>
<line x1="821.8" y1="259.6" x2="821.8" y2="418.5" stroke="#bcbcd0" stroke-width="0.7"/>
<line x1="846.58" y1="259.6" x2="846.58" y2="418.5" stroke="#bcbcd0" stroke-width="0.7"/>
<line x1="871.36" y1="259.6" x2="871.36" y2="418.5" stroke="#bcbcd0" stroke-width="0.7"/>
<line x1="896.14" y1="259.6" x2="896.14" y2="418.5" stroke="#bcbcd0" stroke-width="0.7"/>
<line x1="920.92" y1="259.6" x2="920.92" y2="418.5" stroke="#bcbcd0" stroke-width="0.7"/>
<line x1="945.7" y1="259.6" x2="945.7" y2="418.5" stroke="#bcbcd0" stroke-width="0.7"/>
<line x1="696.6" y1="409.12" x2="968.6" y2="409.12" stroke="#bcbcd0" stroke-width="0.7"/>
<line x1="696.6" y1="400.2" x2="968.6" y2="400.2" stroke="#bcbcd0" stroke-width="0.7"/>
<line x1="696.6" y1="391.28" x2="968.6" y2="391.28" stroke="#bcbcd0" stroke-width="0.7"/>
<line x1="696.6" y1="382.36" x2="968.6" y2="382.36" stroke="#bcbcd0" stroke-width="0.7"/>
<line x1="696.6" y1="373.44" x2="968.6" y2="373.44" stroke="#bcbcd0" stroke-width="0.7"/>
<line x1="696.6" y1="364.52" x2="968.6" y2="364.52" stroke="#bcbcd0" stroke-width="0.7"/>
<line x1="696.6" y1="355.6" x2="968.6" y2="355.6" stroke="#bcbcd0" stroke-width="0.7"/>
<line x1="696.6" y1="346.68" x2="968.6" y2="346.68" stroke="#bcbcd0" stroke-width="0.7"/>
<line x1="696.6" y1="337.76" x2="968.6" y2="337.76" stroke="#bcbcd0" stroke-width="0.7"/>
<line x1="696.6" y1="328.84" x2="968.6" y2="328.84" stroke="#bcbcd0" stroke-width="0.7"/>
<line x1="696.6" y1="319.92" x2="968.6" y2="319.92" stroke="#bcbcd0" stroke-width="0.7"/>
<line x1="696.6" y1="311" x2="968.6" y2="311" stroke="#bcbcd0" stroke-width="0.7"/>
<line x1="696.6" y1="302.08" x2="968.6" y2="302.08" stroke="#bcbcd0" stroke-width="0.7"/>
<line x1="696.6" y1="293.16" x2="968.6" y2="293.16" stroke="#bcbcd0" stroke-width="0.7"/>
<line x1="696.6" y1="284.24" x2="968.6" y2="284.24" stroke="#bcbcd0" stroke-width="0.7"/>
<line x1="696.6" y1="275.32" x2="968.6" y2="275.32" stroke="#bcbcd0" stroke-width="0.7"/>
<line x1="696.6" y1="266.4" x2="968.6" y2="266.4" stroke="#bcbcd0" stroke-width="0.7"/>
<line x1="696.6" y1="259.6" x2="696.6" y2="418.5" stroke="#111" stroke-width="1.3"/>
<line x1="696.6" y1="418.5" x2="968.6" y2="418.5" stroke="#111" stroke-width="1.3"/>
<line x1="968.6" y1="259.6" x2="968.6" y2="418.5" stroke="#111" stroke-width="1.3"/>
<line x1="694.6" y1="409.12" x2="696.6" y2="409.12" stroke="#111" stroke-width="0.8"/>
<text x="693.6" y="411.02" font-family="Liberation Sans, sans-serif" font-size="5.4" font-weight="normal" font-style="normal" fill="#1a1a1a" text-anchor="end" stroke="#1a1a1a" stroke-width="0.18">50</text>
<line x1="694.6" y1="400.2" x2="696.6" y2="400.2" stroke="#111" stroke-width="0.8"/>
<text x="693.6" y="402.1" font-family="Liberation Sans, sans-serif" font-size="5.4" font-weight="normal" font-style="normal" fill="#1a1a1a" text-anchor="end" stroke="#1a1a1a" stroke-width="0.18">60</text>
<line x1="694.6" y1="391.28" x2="696.6" y2="391.28" stroke="#111" stroke-width="0.8"/>
<text x="693.6" y="393.18" font-family="Liberation Sans, sans-serif" font-size="5.4" font-weight="normal" font-style="normal" fill="#1a1a1a" text-anchor="end" stroke="#1a1a1a" stroke-width="0.18">70</text>
<line x1="694.6" y1="382.36" x2="696.6" y2="382.36" stroke="#111" stroke-width="0.8"/>
<text x="693.6" y="384.26" font-family="Liberation Sans, sans-serif" font-size="5.4" font-weight="normal" font-style="normal" fill="#1a1a1a" text-anchor="end" stroke="#1a1a1a" stroke-width="0.18">80</text>
<line x1="694.6" y1="373.44" x2="696.6" y2="373.44" stroke="#111" stroke-width="0.8"/>
<text x="693.6" y="375.34" font-family="Liberation Sans, sans-serif" font-size="5.4" font-weight="normal" font-style="normal" fill="#1a1a1a" text-anchor="end" stroke="#1a1a1a" stroke-width="0.18">90</text>
<line x1="694.6" y1="364.52" x2="696.6" y2="364.52" stroke="#111" stroke-width="0.8"/>
<text x="693.6" y="366.42" font-family="Liberation Sans, sans-serif" font-size="5.4" font-weight="normal" font-style="normal" fill="#1a1a1a" text-anchor="end" stroke="#1a1a1a" stroke-width="0.18">100</text>
<line x1="694.6" y1="355.6" x2="696.6" y2="355.6" stroke="#111" stroke-width="0.8"/>
<text x="693.6" y="357.5" font-family="Liberation Sans, sans-serif" font-size="5.4" font-weight="normal" font-style="normal" fill="#1a1a1a" text-anchor="end" stroke="#1a1a1a" stroke-width="0.18">110</text>
<line x1="694.6" y1="346.68" x2="696.6" y2="346.68" stroke="#111" stroke-width="0.8"/>
<text x="693.6" y="348.58" font-family="Liberation Sans, sans-serif" font-size="5.4" font-weight="normal" font-style="normal" fill="#1a1a1a" text-anchor="end" stroke="#1a1a1a" stroke-width="0.18">120</text>
<line x1="694.6" y1="337.76" x2="696.6" y2="337.76" stroke="#111" stroke-width="0.8"/>
<text x="693.6" y="339.66" font-family="Liberation Sans, sans-serif" font-size="5.4" font-weight="normal" font-style="normal" fill="#1a1a1a" text-anchor="end" stroke="#1a1a1a" stroke-width="0.18">130</text>
<line x1="694.6" y1="328.84" x2="696.6" y2="328.84" stroke="#111" stroke-width="0.8"/>
<text x="693.6" y="330.74" font-family="Liberation Sans, sans-serif" font-size="5.4" font-weight="normal" font-style="normal" fill="#1a1a1a" text-anchor="end" stroke="#1a1a1a" stroke-width="0.18">140</text>
<line x1="694.6" y1="319.92" x2="696.6" y2="319.92" stroke="#111" stroke-width="0.8"/>
<text x="693.6" y="321.82" font-family="Liberation Sans, sans-serif" font-size="5.4" font-weight="normal" font-style="normal" fill="#1a1a1a" text-anchor="end" stroke="#1a1a1a" stroke-width="0.18">150</text>
<line x1="694.6" y1="311" x2="696.6" y2="311" stroke="#111" stroke-width="0.8"/>
<text x="693.6" y="312.9" font-family="Liberation Sans, sans-serif" font-size="5.4" font-weight="normal" font-style="normal" fill="#1a1a1a" text-anchor="end" stroke="#1a1a1a" stroke-width="0.18">160</text>
<line x1="694.6" y1="302.08" x2="696.6" y2="302.08" stroke="#111" stroke-width="0.8"/>
<text x="693.6" y="303.98" font-family="Liberation Sans, sans-serif" font-size="5.4" font-weight="normal" font-style="normal" fill="#1a1a1a" text-anchor="end" stroke="#1a1a1a" stroke-width="0.18">170</text>
<line x1="694.6" y1="293.16" x2="696.6" y2="293.16" stroke="#111" stroke-width="0.8"/>
<text x="693.6" y="295.06" font-family="Liberation Sans, sans-serif" font-size="5.4" font-weight="normal" font-style="normal" fill="#1a1a1a" text-anchor="end" stroke="#1a1a1a" stroke-width="0.18">180</text>
<line x1="694.6" y1="284.24" x2="696.6" y2="284.24" stroke="#111" stroke-width="0.8"/>
<text x="693.6" y="286.14" font-family="Liberation Sans, sans-serif" font-size="5.4" font-weight="normal" font-style="normal" fill="#1a1a1a" text-anchor="end" stroke="#1a1a1a" stroke-width="0.18">190</text>
<line x1="694.6" y1="275.32" x2="696.6" y2="275.32" stroke="#111" stroke-width="0.8"/>
<text x="693.6" y="277.22" font-family="Liberation Sans, sans-serif" font-size="5.4" font-weight="normal" font-style="normal" fill="#1a1a1a" text-anchor="end" stroke="#1a1a1a" stroke-width="0.18">200</text>
<line x1="694.6" y1="266.4" x2="696.6" y2="266.4" stroke="#111" stroke-width="0.8"/>
<text x="693.6" y="268.3" font-family="Liberation Sans, sans-serif" font-size="5.4" font-weight="normal" font-style="normal" fill="#1a1a1a" text-anchor="end" stroke="#1a1a1a" stroke-width="0.18">210</text>
<line x1="968.6" y1="417.5" x2="970.6" y2="417.5" stroke="#111" stroke-width="0.8"/>
<text x="971.6" y="419.4" font-family="Liberation Sans, sans-serif" font-size="5.4" font-weight="normal" font-style="normal" fill="#1a1a1a" text-anchor="start" stroke="#1a1a1a" stroke-width="0.18">105</text>
<line x1="968.6" y1="404.5" x2="970.6" y2="404.5" stroke="#111" stroke-width="0.8"/>
<text x="971.6" y="406.4" font-family="Liberation Sans, sans-serif" font-size="5.4" font-weight="normal" font-style="normal" fill="#1a1a1a" text-anchor="start" stroke="#1a1a1a" stroke-width="0.18">110</text>
<line x1="968.6" y1="391.5" x2="970.6" y2="391.5" stroke="#111" stroke-width="0.8"/>
<text x="971.6" y="393.4" font-family="Liberation Sans, sans-serif" font-size="5.4" font-weight="normal" font-style="normal" fill="#1a1a1a" text-anchor="start" stroke="#1a1a1a" stroke-width="0.18">115</text>
<line x1="968.6" y1="378.5" x2="970.6" y2="378.5" stroke="#111" stroke-width="0.8"/>
<text x="971.6" y="380.4" font-family="Liberation Sans, sans-serif" font-size="5.4" font-weight="normal" font-style="normal" fill="#1a1a1a" text-anchor="start" stroke="#1a1a1a" stroke-width="0.18">120</text>
<line x1="968.6" y1="365.5" x2="970.6" y2="365.5" stroke="#111" stroke-width="0.8"/>
<text x="971.6" y="367.4" font-family="Liberation Sans, sans-serif" font-size="5.4" font-weight="normal" font-style="normal" fill="#1a1a1a" text-anchor="start" stroke="#1a1a1a" stroke-width="0.18">125</text>
<line x1="968.6" y1="352.5" x2="970.6" y2="352.5" stroke="#111" stroke-width="0.8"/>
<text x="971.6" y="354.4" font-family="Liberation Sans, sans-serif" font-size="5.4" font-weight="normal" font-style="normal" fill="#1a1a1a" text-anchor="start" stroke="#1a1a1a" stroke-width="0.18">130</text>
<line x1="968.6" y1="339.5" x2="970.6" y2="339.5" stroke="#111" stroke-width="0.8"/>
<text x="971.6" y="341.4" font-family="Liberation Sans, sans-serif" font-size="5.4" font-weight="normal" font-style="normal" fill="#1a1a1a" text-anchor="start" stroke="#1a1a1a" stroke-width="0.18">135</text>
<line x1="968.6" y1="326.5" x2="970.6" y2="326.5" stroke="#111" stroke-width="0.8"/>
<text x="971.6" y="328.4" font-family="Liberation Sans, sans-serif" font-size="5.4" font-weight="normal" font-style="normal" fill="#1a1a1a" text-anchor="start" stroke="#1a1a1a" stroke-width="0.18">140</text>
<line x1="968.6" y1="313.5" x2="970.6" y2="313.5" stroke="#111" stroke-width="0.8"/>
<text x="971.6" y="315.4" font-family="Liberation Sans, sans-serif" font-size="5.4" font-weight="normal" font-style="normal" fill="#1a1a1a" text-anchor="start" stroke="#1a1a1a" stroke-width="0.18">145</text>
<line x1="968.6" y1="300.5" x2="970.6" y2="300.5" stroke="#111" stroke-width="0.8"/>
<text x="971.6" y="302.4" font-family="Liberation Sans, sans-serif" font-size="5.4" font-weight="normal" font-style="normal" fill="#1a1a1a" text-anchor="start" stroke="#1a1a1a" stroke-width="0.18">150</text>
<line x1="968.6" y1="287.5" x2="970.6" y2="287.5" stroke="#111" stroke-width="0.8"/>
<text x="971.6" y="289.4" font-family="Liberation Sans, sans-serif" font-size="5.4" font-weight="normal" font-style="normal" fill="#1a1a1a" text-anchor="start" stroke="#1a1a1a" stroke-width="0.18">155</text>
<line x1="968.6" y1="274.5" x2="970.6" y2="274.5" stroke="#111" stroke-width="0.8"/>
<text x="971.6" y="276.4" font-family="Liberation Sans, sans-serif" font-size="5.4" font-weight="normal" font-style="normal" fill="#1a1a1a" text-anchor="start" stroke="#1a1a1a" stroke-width="0.18">160</text>
<line x1="968.6" y1="261.5" x2="970.6" y2="261.5" stroke="#111" stroke-width="0.8"/>
<text x="971.6" y="263.4" font-family="Liberation Sans, sans-serif" font-size="5.4" font-weight="normal" font-style="normal" fill="#1a1a1a" text-anchor="start" stroke="#1a1a1a" stroke-width="0.18">165</text>
<line x1="697.9" y1="418.5" x2="697.9" y2="420.5" stroke="#111" stroke-width="0.8"/>
<text x="697.9" y="427.1" font-family="Liberation Sans, sans-serif" font-size="5.4" font-weight="normal" font-style="normal" fill="#1a1a1a" text-anchor="middle" stroke="#1a1a1a" stroke-width="0.18">2,000</text>
<line x1="722.68" y1="418.5" x2="722.68" y2="420.5" stroke="#111" stroke-width="0.8"/>
<text x="722.68" y="427.1" font-family="Liberation Sans, sans-serif" font-size="5.4" font-weight="normal" font-style="normal" fill="#1a1a1a" text-anchor="middle" stroke="#1a1a1a" stroke-width="0.18">2,500</text>
<line x1="747.46" y1="418.5" x2="747.46" y2="420.5" stroke="#111" stroke-width="0.8"/>
<text x="747.46" y="427.1" font-family="Liberation Sans, sans-serif" font-size="5.4" font-weight="normal" font-style="normal" fill="#1a1a1a" text-anchor="middle" stroke="#1a1a1a" stroke-width="0.18">3,000</text>
<line x1="772.24" y1="418.5" x2="772.24" y2="420.5" stroke="#111" stroke-width="0.8"/>
<text x="772.24" y="427.1" font-family="Liberation Sans, sans-serif" font-size="5.4" font-weight="normal" font-style="normal" fill="#1a1a1a" text-anchor="middle" stroke="#1a1a1a" stroke-width="0.18">3,500</text>
<line x1="797.02" y1="418.5" x2="797.02" y2="420.5" stroke="#111" stroke-width="0.8"/>
<text x="797.02" y="427.1" font-family="Liberation Sans, sans-serif" font-size="5.4" font-weight="normal" font-style="normal" fill="#1a1a1a" text-anchor="middle" stroke="#1a1a1a" stroke-width="0.18">4,000</text>
<line x1="821.8" y1="418.5" x2="821.8" y2="420.5" stroke="#111" stroke-width="0.8"/>
<text x="821.8" y="427.1" font-family="Liberation Sans, sans-serif" font-size="5.4" font-weight="normal" font-style="normal" fill="#1a1a1a" text-anchor="middle" stroke="#1a1a1a" stroke-width="0.18">4,500</text>
<line x1="846.58" y1="418.5" x2="846.58" y2="420.5" stroke="#111" stroke-width="0.8"/>
<text x="846.58" y="427.1" font-family="Liberation Sans, sans-serif" font-size="5.4" font-weight="normal" font-style="normal" fill="#1a1a1a" text-anchor="middle" stroke="#1a1a1a" stroke-width="0.18">5,000</text>
<line x1="871.36" y1="418.5" x2="871.36" y2="420.5" stroke="#111" stroke-width="0.8"/>
<text x="871.36" y="427.1" font-family="Liberation Sans, sans-serif" font-size="5.4" font-weight="normal" font-style="normal" fill="#1a1a1a" text-anchor="middle" stroke="#1a1a1a" stroke-width="0.18">5,500</text>
<line x1="896.14" y1="418.5" x2="896.14" y2="420.5" stroke="#111" stroke-width="0.8"/>
<text x="896.14" y="427.1" font-family="Liberation Sans, sans-serif" font-size="5.4" font-weight="normal" font-style="normal" fill="#1a1a1a" text-anchor="middle" stroke="#1a1a1a" stroke-width="0.18">6,000</text>
<line x1="920.92" y1="418.5" x2="920.92" y2="420.5" stroke="#111" stroke-width="0.8"/>
<text x="920.92" y="427.1" font-family="Liberation Sans, sans-serif" font-size="5.4" font-weight="normal" font-style="normal" fill="#1a1a1a" text-anchor="middle" stroke="#1a1a1a" stroke-width="0.18">6,500</text>
<line x1="945.7" y1="418.5" x2="945.7" y2="420.5" stroke="#111" stroke-width="0.8"/>
<text x="945.7" y="427.1" font-family="Liberation Sans, sans-serif" font-size="5.4" font-weight="normal" font-style="normal" fill="#1a1a1a" text-anchor="middle" stroke="#1a1a1a" stroke-width="0.18">7,000</text>
<text x="832.6" y="434.9" font-family="Liberation Sans, sans-serif" font-size="6.6" font-weight="bold" font-style="normal" fill="#111" text-anchor="middle">Speed (rpm)</text>
<text x="0" y="0" transform="translate(682.1,339.05) rotate(-90)" font-family="Liberation Sans, sans-serif" font-size="6.2" font-weight="bold" fill="#111" text-anchor="middle">Power (bhp)</text>
<text x="0" y="0" transform="translate(983.6,339.05) rotate(90)" font-family="Liberation Sans, sans-serif" font-size="6.2" font-weight="bold" fill="#111" text-anchor="middle">Torque (lbft)</text>
<path d="M697.9,411.51 C698.67,409.48 700.5,401.57 702.5,399.32 C704.5,397.08 707.98,398.01 709.9,398.05 C711.82,398.1 712.82,401.82 714,399.57 C715.18,397.33 716,391.25 717,384.58 C718,377.92 719.17,366.26 720,359.59 C720.83,352.93 721.42,348.27 722,344.6 C722.58,340.94 722.37,338.17 723.5,337.61 C724.63,337.05 727.22,341.22 728.8,341.23 C730.38,341.24 731.78,339.99 733,337.65 C734.22,335.3 734.93,329.82 736.1,327.16 C737.27,324.5 738.25,322.08 740,321.67 C741.75,321.27 744.8,323.53 746.6,324.7 C748.4,325.88 749.4,327.38 750.8,328.72 C752.2,330.06 753.6,331.23 755,332.73 C756.4,334.24 757.62,335.58 759.2,337.75 C760.78,339.92 762.92,343.77 764.5,345.77 C766.08,347.78 767.3,349.12 768.7,349.79 C770.1,350.46 770.98,349.88 772.9,349.81 C774.82,349.73 777.85,350.16 780.2,349.34 C782.55,348.51 784.98,346.6 787,344.86 C789.02,343.12 790.2,341.63 792.3,338.88 C794.4,336.14 797.15,331.02 799.6,328.41 C802.05,325.81 804.72,324.45 807,323.24 C809.28,322.04 811.38,322.39 813.3,321.17 C815.22,319.94 816.75,319.03 818.5,315.89 C820.25,312.75 822.05,305.97 823.8,302.31 C825.55,298.65 827.25,296.37 829,293.93 C830.75,291.49 832.37,289.29 834.3,287.65 C836.23,286.01 838.68,284.42 840.6,284.08 C842.52,283.73 844.05,284.76 845.8,285.6 C847.55,286.44 849,288.94 851.1,289.12 C853.2,289.29 855.95,287.06 858.4,286.65 C860.85,286.24 863.7,287.09 865.8,286.68 C867.9,286.27 869.47,285.03 871,284.2 C872.53,283.37 873.1,282.47 875,281.71 C876.9,280.96 879.95,280.33 882.4,279.64 C884.85,278.95 886.73,278.08 889.7,277.57 C892.67,277.07 897.05,276.77 900.2,276.62 C903.35,276.46 905.8,277.34 908.6,276.65 C911.4,275.96 914.2,273.7 917,272.48 C919.8,271.26 922.95,270.26 925.4,269.32 C927.85,268.38 929.6,267.18 931.7,266.84 C933.8,266.5 935.72,267.19 938,267.27 C940.28,267.34 942.95,267.8 945.4,267.3 C947.85,266.79 950.08,264.38 952.7,264.23 C955.32,264.07 959,265.65 961.1,266.36 C963.2,267.07 964.25,267.07 965.3,268.48 C966.35,269.88 967.05,273.73 967.4,274.78" fill="none" stroke="#f5c080" stroke-width="0.7"/>
<path d="M697.3,382.5 C698,382.67 700.1,382.65 701.5,383.52 C702.9,384.39 704.3,386.85 705.7,387.74 C707.1,388.63 708.52,389.9 709.9,388.85 C711.28,387.81 712.78,386.2 714,381.47 C715.22,376.74 716.13,368.53 717.2,360.48 C718.27,352.44 719.52,339.66 720.4,333.2 C721.28,326.73 721.98,323.79 722.5,321.7 C723.02,319.62 722.28,320.34 723.5,320.71 C724.72,321.08 727.7,324.63 729.8,323.93 C731.9,323.24 734,316.03 736.1,316.56 C738.2,317.08 739.42,323.74 742.4,327.08 C745.38,330.43 751.2,333.82 754,336.63 C756.8,339.44 757.53,341.09 759.2,343.95 C760.87,346.81 762.53,351.46 764,353.77 C765.47,356.08 766.5,357.28 768,357.79 C769.5,358.29 771,357.63 773,356.81 C775,355.98 777.67,354.49 780,352.83 C782.33,351.18 784.95,348.94 787,346.86 C789.05,344.79 790.2,343.21 792.3,340.38 C794.4,337.56 797.15,332.49 799.6,329.91 C802.05,327.34 804.72,326.18 807,324.94 C809.28,323.7 811.38,323.79 813.3,322.47 C815.22,321.14 816.75,320.23 818.5,316.99 C820.25,313.75 822.05,306.84 823.8,303.01 C825.55,299.18 827.25,296.61 829,294.03 C830.75,291.45 832.37,289.21 834.3,287.55 C836.23,285.89 838.68,284.4 840.6,284.08 C842.52,283.75 844.05,284.76 845.8,285.6 C847.55,286.44 849,288.86 851.1,289.12 C853.2,289.38 855.95,287.56 858.4,287.15 C860.85,286.74 863.7,287.09 865.8,286.68 C867.9,286.27 869.47,285.44 871,284.7 C872.53,283.95 873.1,282.96 875,282.21 C876.9,281.47 879.95,280.9 882.4,280.24 C884.85,279.59 886.73,278.76 889.7,278.27 C892.67,277.79 897.05,277.47 900.2,277.32 C903.35,277.16 905.8,278 908.6,277.35 C911.4,276.69 914.2,274.62 917,273.38 C919.8,272.14 922.95,270.77 925.4,269.92 C927.85,269.06 929.6,268.73 931.7,268.24 C933.8,267.75 935.72,267.51 938,266.97 C940.28,266.43 943.3,265.64 945.4,265 C947.5,264.35 947.98,262.77 950.6,263.12 C953.22,263.46 958.65,266.07 961.1,267.06 C963.55,268.05 964.25,268.32 965.3,269.08 C966.35,269.83 967.05,271.17 967.4,271.58" fill="none" stroke="#5a96d8" stroke-width="0.75"/>
<path d="M697.9,402.91 C698.5,401.34 700.2,395.78 701.5,393.52 C702.8,391.26 704.3,389.68 705.7,389.34 C707.1,388.99 708.68,391.28 709.9,391.45 C711.12,391.63 711.95,391.95 713,390.37 C714.05,388.79 715.32,385.83 716.2,381.98 C717.08,378.13 717.6,373.24 718.3,367.29 C719,361.34 719.88,350.48 720.4,346.3 C720.92,342.12 720.88,344.45 721.4,342.2 C721.92,339.95 722.62,334.72 723.5,332.81 C724.38,330.9 725.47,331.32 726.7,330.72 C727.93,330.13 729.68,330.47 730.9,329.24 C732.12,328.01 732.95,325.38 734,323.35 C735.05,321.32 735.97,317.93 737.2,317.06 C738.43,316.2 739.83,317.12 741.4,318.18 C742.97,319.24 745.03,321.83 746.6,323.4 C748.17,324.97 749.4,326.28 750.8,327.62 C752.2,328.96 753.6,329.68 755,331.43 C756.4,333.19 757.62,335.63 759.2,338.15 C760.78,340.67 762.92,344.28 764.5,346.57 C766.08,348.86 767.3,351 768.7,351.89 C770.1,352.78 770.98,352.25 772.9,351.91 C774.82,351.56 777.85,351.06 780.2,349.84 C782.55,348.61 784.98,346.49 787,344.56 C789.02,342.64 790.2,341.08 792.3,338.28 C794.4,335.49 797.15,330.42 799.6,327.81 C802.05,325.21 804.72,323.85 807,322.64 C809.28,321.44 811.38,321.79 813.3,320.57 C815.22,319.34 816.75,318.43 818.5,315.29 C820.25,312.15 822.05,305.37 823.8,301.71 C825.55,298.05 827.25,295.77 829,293.33 C830.75,290.89 832.37,288.69 834.3,287.05 C836.23,285.41 838.68,283.82 840.6,283.48 C842.52,283.13 844.05,284.16 845.8,285 C847.55,285.84 849,288.34 851.1,288.52 C853.2,288.69 855.95,286.46 858.4,286.05 C860.85,285.64 863.7,286.49 865.8,286.08 C867.9,285.67 869.47,284.43 871,283.6 C872.53,282.77 873.1,281.87 875,281.11 C876.9,280.36 879.95,279.73 882.4,279.04 C884.85,278.35 886.73,277.48 889.7,276.97 C892.67,276.47 897.05,276.17 900.2,276.02 C903.35,275.86 905.8,276.74 908.6,276.05 C911.4,275.36 914.2,273.1 917,271.88 C919.8,270.66 922.95,269.66 925.4,268.72 C927.85,267.78 929.6,266.58 931.7,266.24 C933.8,265.9 935.72,266.59 938,266.67 C940.28,266.74 942.95,267.2 945.4,266.7 C947.85,266.19 950.08,263.78 952.7,263.63 C955.32,263.47 959,265.05 961.1,265.76 C963.2,266.47 964.25,266.47 965.3,267.88 C966.35,269.28 967.05,273.13 967.4,274.18" fill="none" stroke="#f09098" stroke-width="0.8"/>
<path d="M697.9,404.11 C698.5,402.54 700.2,396.98 701.5,394.72 C702.8,392.46 704.3,390.88 705.7,390.54 C707.1,390.19 708.68,392.48 709.9,392.65 C711.12,392.83 711.95,393.15 713,391.57 C714.05,389.99 715.32,387.03 716.2,383.18 C717.08,379.33 717.6,374.44 718.3,368.49 C719,362.54 719.88,351.68 720.4,347.5 C720.92,343.32 720.88,345.65 721.4,343.4 C721.92,341.15 722.62,335.92 723.5,334.01 C724.38,332.1 725.47,332.52 726.7,331.92 C727.93,331.33 729.68,331.67 730.9,330.44 C732.12,329.21 732.95,326.58 734,324.55 C735.05,322.52 735.97,319.13 737.2,318.26 C738.43,317.4 739.83,318.32 741.4,319.38 C742.97,320.44 745.03,323.03 746.6,324.6 C748.17,326.17 749.4,327.48 750.8,328.82 C752.2,330.16 753.6,330.88 755,332.63 C756.4,334.39 757.62,336.83 759.2,339.35 C760.78,341.87 762.92,345.48 764.5,347.77 C766.08,350.06 767.3,352.2 768.7,353.09 C770.1,353.98 770.98,353.45 772.9,353.11 C774.82,352.76 777.85,352.26 780.2,351.04 C782.55,349.81 784.98,347.69 787,345.76 C789.02,343.84 790.2,342.28 792.3,339.48 C794.4,336.69 797.15,331.62 799.6,329.01 C802.05,326.41 804.72,325.05 807,323.84 C809.28,322.64 811.38,322.99 813.3,321.77 C815.22,320.54 816.75,319.63 818.5,316.49 C820.25,313.35 822.05,306.57 823.8,302.91 C825.55,299.25 827.25,296.97 829,294.53 C830.75,292.09 832.37,289.89 834.3,288.25 C836.23,286.61 838.68,285.02 840.6,284.68 C842.52,284.33 844.05,285.36 845.8,286.2 C847.55,287.04 849,289.54 851.1,289.72 C853.2,289.89 855.95,287.66 858.4,287.25 C860.85,286.84 863.7,287.69 865.8,287.28 C867.9,286.87 869.47,285.63 871,284.8 C872.53,283.97 873.1,283.07 875,282.31 C876.9,281.56 879.95,280.93 882.4,280.24 C884.85,279.55 886.73,278.68 889.7,278.17 C892.67,277.67 897.05,277.37 900.2,277.22 C903.35,277.06 905.8,277.94 908.6,277.25 C911.4,276.56 914.2,274.3 917,273.08 C919.8,271.86 922.95,270.86 925.4,269.92 C927.85,268.98 929.6,267.78 931.7,267.44 C933.8,267.1 935.72,267.79 938,267.87 C940.28,267.94 942.95,268.4 945.4,267.9 C947.85,267.39 950.08,264.98 952.7,264.83 C955.32,264.67 959,266.25 961.1,266.96 C963.2,267.67 964.25,267.67 965.3,269.08 C966.35,270.48 967.05,274.33 967.4,275.38" fill="none" stroke="#b82838" stroke-width="1.0"/>
<path d="M697.9,417.21 C698.5,416.51 699.68,414.25 701.5,413.02 C703.32,411.79 706.35,411.07 708.8,409.85 C711.25,408.63 714.27,407.59 716.2,405.68 C718.13,403.77 719.18,400.31 720.4,398.4 C721.62,396.48 721.93,395.44 723.5,394.21 C725.07,392.98 727.7,392.26 729.8,391.03 C731.9,389.81 733.65,388.07 736.1,386.86 C738.55,385.65 741.35,384.9 744.5,383.79 C747.65,382.69 751.85,381.17 755,380.23 C758.15,379.3 760.42,378.86 763.4,378.17 C766.38,377.48 769.75,377.43 772.9,376.11 C776.05,374.79 779.07,372.26 782.3,370.24 C785.53,368.22 788.88,366.24 792.3,363.98 C795.72,361.73 799.48,358.98 802.8,356.73 C806.12,354.47 808.88,353.25 812.2,350.46 C815.52,347.68 819.37,343.39 822.7,340.01 C826.03,336.62 829.05,332.76 832.2,330.14 C835.35,327.52 838.45,326.04 841.6,324.28 C844.75,322.53 847.77,321.34 851.1,319.62 C854.43,317.9 858.28,315.95 861.6,313.96 C864.92,311.97 868.03,309.79 871,307.7 C873.97,305.61 876.28,303.59 879.4,301.43 C882.52,299.28 884.83,297.62 889.7,294.77 C894.57,291.93 903.52,287.08 908.6,284.35 C913.68,281.62 917.05,279.67 920.2,278.4 C923.35,277.12 925.58,277.72 927.5,276.72 C929.42,275.73 929.95,272.32 931.7,272.44 C933.45,272.57 935.9,275.79 938,277.47 C940.1,279.14 941.85,280.65 944.3,282.49 C946.75,284.34 950.42,286.52 952.7,288.53 C954.98,290.53 956.25,292.04 958,294.55 C959.75,297.05 961.8,300.56 963.2,303.57 C964.6,306.57 965.7,309.16 966.4,312.58 C967.1,316 967.23,322.17 967.4,324.08" fill="none" stroke="#f5c080" stroke-width="0.7"/>
<path d="M697.9,418.21 C698.5,417.51 699.68,415.25 701.5,414.02 C703.32,412.79 706.35,412.07 708.8,410.85 C711.25,409.63 714.27,408.59 716.2,406.68 C718.13,404.77 719.18,401.31 720.4,399.4 C721.62,397.48 721.93,396.44 723.5,395.21 C725.07,393.98 727.7,393.26 729.8,392.03 C731.9,390.81 733.65,389.07 736.1,387.86 C738.55,386.65 741.35,385.9 744.5,384.79 C747.65,383.69 751.85,382.17 755,381.23 C758.15,380.3 760.42,379.86 763.4,379.17 C766.38,378.48 769.75,378.43 772.9,377.11 C776.05,375.79 779.07,373.26 782.3,371.24 C785.53,369.22 788.88,367.24 792.3,364.98 C795.72,362.73 799.48,359.98 802.8,357.73 C806.12,355.47 808.88,354.25 812.2,351.46 C815.52,348.68 819.37,344.39 822.7,341.01 C826.03,337.62 829.05,333.76 832.2,331.14 C835.35,328.52 838.45,327.04 841.6,325.28 C844.75,323.53 847.77,322.34 851.1,320.62 C854.43,318.9 858.28,316.95 861.6,314.96 C864.92,312.97 868.03,310.79 871,308.7 C873.97,306.61 876.28,304.59 879.4,302.43 C882.52,300.28 884.83,298.69 889.7,295.77 C894.57,292.86 903.52,288.21 908.6,284.95 C913.68,281.69 917.05,278.45 920.2,276.2 C923.35,273.94 925.58,272.78 927.5,271.42 C929.42,270.07 929.95,267.87 931.7,268.04 C933.45,268.22 935.72,271.09 938,272.47 C940.28,273.84 943.3,275.05 945.4,276.3 C947.5,277.54 949,278.04 950.6,279.92 C952.2,281.79 953.77,285.43 955,287.53 C956.23,289.64 956.63,289.96 958,292.55 C959.37,295.14 961.8,299.91 963.2,303.07 C964.6,306.22 965.7,307.81 966.4,311.48 C967.1,315.15 967.23,322.82 967.4,325.08" fill="none" stroke="#5a96d8" stroke-width="0.75"/>
<path d="M697.9,416.61 C698.5,415.91 699.68,413.65 701.5,412.42 C703.32,411.19 706.35,410.47 708.8,409.25 C711.25,408.03 714.27,406.99 716.2,405.08 C718.13,403.17 719.18,399.71 720.4,397.8 C721.62,395.88 721.93,394.84 723.5,393.61 C725.07,392.38 727.7,391.66 729.8,390.43 C731.9,389.21 733.65,387.47 736.1,386.26 C738.55,385.05 741.35,384.3 744.5,383.19 C747.65,382.09 751.85,380.57 755,379.63 C758.15,378.7 760.42,378.26 763.4,377.57 C766.38,376.88 769.75,376.83 772.9,375.51 C776.05,374.19 779.07,371.66 782.3,369.64 C785.53,367.62 788.88,365.64 792.3,363.38 C795.72,361.13 799.48,358.38 802.8,356.13 C806.12,353.87 808.88,352.65 812.2,349.86 C815.52,347.08 819.37,342.79 822.7,339.41 C826.03,336.02 829.05,332.16 832.2,329.54 C835.35,326.92 838.45,325.44 841.6,323.68 C844.75,321.93 847.77,320.74 851.1,319.02 C854.43,317.3 858.28,315.35 861.6,313.36 C864.92,311.37 868.03,309.19 871,307.1 C873.97,305.01 876.28,302.99 879.4,300.83 C882.52,298.68 884.83,297.09 889.7,294.17 C894.57,291.26 903.52,286.61 908.6,283.35 C913.68,280.09 917.05,276.85 920.2,274.6 C923.35,272.34 925.58,271.22 927.5,269.82 C929.42,268.43 930.47,266.07 931.7,266.24 C932.93,266.41 933.85,269.2 934.9,270.85 C935.95,272.51 936.43,274.41 938,276.17 C939.57,277.92 942.72,279.99 944.3,281.39 C945.88,282.8 946.1,283.72 947.5,284.6 C948.9,285.49 950.95,285.32 952.7,286.73 C954.45,288.13 956.25,290.59 958,293.05 C959.75,295.5 961.8,298.66 963.2,301.47 C964.6,304.27 965.7,306.21 966.4,309.88 C967.1,313.55 967.23,321.22 967.4,323.48" fill="none" stroke="#f09098" stroke-width="0.8"/>
<path d="M697.9,417.81 C698.5,417.11 699.68,414.85 701.5,413.62 C703.32,412.39 706.35,411.67 708.8,410.45 C711.25,409.23 714.27,408.19 716.2,406.28 C718.13,404.37 719.18,400.91 720.4,399 C721.62,397.08 721.93,396.04 723.5,394.81 C725.07,393.58 727.7,392.86 729.8,391.63 C731.9,390.41 733.65,388.67 736.1,387.46 C738.55,386.25 741.35,385.5 744.5,384.39 C747.65,383.29 751.85,381.77 755,380.83 C758.15,379.9 760.42,379.46 763.4,378.77 C766.38,378.08 769.75,378.03 772.9,376.71 C776.05,375.39 779.07,372.86 782.3,370.84 C785.53,368.82 788.88,366.84 792.3,364.58 C795.72,362.33 799.48,359.58 802.8,357.33 C806.12,355.07 808.88,353.85 812.2,351.06 C815.52,348.28 819.37,343.99 822.7,340.61 C826.03,337.22 829.05,333.36 832.2,330.74 C835.35,328.12 838.45,326.64 841.6,324.88 C844.75,323.13 847.77,321.94 851.1,320.22 C854.43,318.5 858.28,316.55 861.6,314.56 C864.92,312.57 868.03,310.39 871,308.3 C873.97,306.21 876.28,304.19 879.4,302.03 C882.52,299.88 884.83,298.29 889.7,295.37 C894.57,292.46 903.52,287.81 908.6,284.55 C913.68,281.29 917.05,278.05 920.2,275.8 C923.35,273.54 925.58,272.42 927.5,271.02 C929.42,269.63 930.47,267.27 931.7,267.44 C932.93,267.61 933.85,270.4 934.9,272.05 C935.95,273.71 936.43,275.61 938,277.37 C939.57,279.12 942.72,281.19 944.3,282.59 C945.88,284 946.1,284.92 947.5,285.8 C948.9,286.69 950.95,286.52 952.7,287.93 C954.45,289.33 956.25,291.79 958,294.25 C959.75,296.7 961.8,299.86 963.2,302.67 C964.6,305.47 965.7,307.41 966.4,311.08 C967.1,314.75 967.23,322.42 967.4,324.68" fill="none" stroke="#b82838" stroke-width="1.0"/>
<rect x="696.8" y="381.47" width="2.4" height="2.4" fill="#2a2a2a"/>
<rect x="696.8" y="410.04" width="2.4" height="2.4" fill="#2a2a2a"/>
<rect x="696.8" y="402.65" width="2.4" height="2.4" fill="#2a2a2a"/>
<circle cx="698" cy="418.09" r="1.2" fill="#2a2a2a"/>
<circle cx="698" cy="417.09" r="1.2" fill="#2a2a2a"/>
<circle cx="698" cy="417.69" r="1.2" fill="#2a2a2a"/>
<rect x="715.6" y="361.91" width="2.4" height="2.4" fill="#2a2a2a"/>
<rect x="715.6" y="384.38" width="2.4" height="2.4" fill="#2a2a2a"/>
<rect x="715.6" y="377.78" width="2.4" height="2.4" fill="#2a2a2a"/>
<circle cx="716.8" cy="405.64" r="1.2" fill="#2a2a2a"/>
<circle cx="716.8" cy="404.64" r="1.2" fill="#2a2a2a"/>
<circle cx="716.8" cy="405.24" r="1.2" fill="#2a2a2a"/>
<rect x="734.9" y="315.36" width="2.4" height="2.4" fill="#2a2a2a"/>
<rect x="734.9" y="325.96" width="2.4" height="2.4" fill="#2a2a2a"/>
<rect x="734.9" y="319.22" width="2.4" height="2.4" fill="#2a2a2a"/>
<circle cx="736.1" cy="387.86" r="1.2" fill="#2a2a2a"/>
<circle cx="736.1" cy="386.86" r="1.2" fill="#2a2a2a"/>
<circle cx="736.1" cy="387.46" r="1.2" fill="#2a2a2a"/>
<rect x="753.8" y="336.84" width="2.4" height="2.4" fill="#2a2a2a"/>
<rect x="753.8" y="331.53" width="2.4" height="2.4" fill="#2a2a2a"/>
<rect x="753.8" y="331.43" width="2.4" height="2.4" fill="#2a2a2a"/>
<circle cx="755" cy="381.23" r="1.2" fill="#2a2a2a"/>
<circle cx="755" cy="380.23" r="1.2" fill="#2a2a2a"/>
<circle cx="755" cy="380.83" r="1.2" fill="#2a2a2a"/>
<rect x="771.7" y="355.63" width="2.4" height="2.4" fill="#2a2a2a"/>
<rect x="771.7" y="348.61" width="2.4" height="2.4" fill="#2a2a2a"/>
<rect x="771.7" y="351.91" width="2.4" height="2.4" fill="#2a2a2a"/>
<circle cx="772.9" cy="377.11" r="1.2" fill="#2a2a2a"/>
<circle cx="772.9" cy="376.11" r="1.2" fill="#2a2a2a"/>
<circle cx="772.9" cy="376.71" r="1.2" fill="#2a2a2a"/>
<rect x="790.8" y="339.55" width="2.4" height="2.4" fill="#2a2a2a"/>
<rect x="790.8" y="338.02" width="2.4" height="2.4" fill="#2a2a2a"/>
<rect x="790.8" y="338.64" width="2.4" height="2.4" fill="#2a2a2a"/>
<circle cx="792" cy="365.17" r="1.2" fill="#2a2a2a"/>
<circle cx="792" cy="364.17" r="1.2" fill="#2a2a2a"/>
<circle cx="792" cy="364.77" r="1.2" fill="#2a2a2a"/>
<rect x="811" y="321.7" width="2.4" height="2.4" fill="#2a2a2a"/>
<rect x="811" y="320.33" width="2.4" height="2.4" fill="#2a2a2a"/>
<rect x="811" y="320.93" width="2.4" height="2.4" fill="#2a2a2a"/>
<circle cx="812.2" cy="351.46" r="1.2" fill="#2a2a2a"/>
<circle cx="812.2" cy="350.46" r="1.2" fill="#2a2a2a"/>
<circle cx="812.2" cy="351.06" r="1.2" fill="#2a2a2a"/>
<rect x="831" y="288.92" width="2.4" height="2.4" fill="#2a2a2a"/>
<rect x="831" y="288.94" width="2.4" height="2.4" fill="#2a2a2a"/>
<rect x="831" y="289.54" width="2.4" height="2.4" fill="#2a2a2a"/>
<circle cx="832.2" cy="331.14" r="1.2" fill="#2a2a2a"/>
<circle cx="832.2" cy="330.14" r="1.2" fill="#2a2a2a"/>
<circle cx="832.2" cy="330.74" r="1.2" fill="#2a2a2a"/>
<rect x="849.9" y="287.92" width="2.4" height="2.4" fill="#2a2a2a"/>
<rect x="849.9" y="287.92" width="2.4" height="2.4" fill="#2a2a2a"/>
<rect x="849.9" y="288.52" width="2.4" height="2.4" fill="#2a2a2a"/>
<circle cx="851.1" cy="320.62" r="1.2" fill="#2a2a2a"/>
<circle cx="851.1" cy="319.62" r="1.2" fill="#2a2a2a"/>
<circle cx="851.1" cy="320.22" r="1.2" fill="#2a2a2a"/>
<rect x="869.3" y="283.69" width="2.4" height="2.4" fill="#2a2a2a"/>
<rect x="869.3" y="283.24" width="2.4" height="2.4" fill="#2a2a2a"/>
<rect x="869.3" y="283.84" width="2.4" height="2.4" fill="#2a2a2a"/>
<circle cx="870.5" cy="309.03" r="1.2" fill="#2a2a2a"/>
<circle cx="870.5" cy="308.03" r="1.2" fill="#2a2a2a"/>
<circle cx="870.5" cy="308.63" r="1.2" fill="#2a2a2a"/>
<rect x="888.5" y="277.07" width="2.4" height="2.4" fill="#2a2a2a"/>
<rect x="888.5" y="276.37" width="2.4" height="2.4" fill="#2a2a2a"/>
<rect x="888.5" y="276.97" width="2.4" height="2.4" fill="#2a2a2a"/>
<circle cx="889.7" cy="295.77" r="1.2" fill="#2a2a2a"/>
<circle cx="889.7" cy="294.77" r="1.2" fill="#2a2a2a"/>
<circle cx="889.7" cy="295.37" r="1.2" fill="#2a2a2a"/>
<rect x="907.4" y="276.15" width="2.4" height="2.4" fill="#2a2a2a"/>
<rect x="907.4" y="275.45" width="2.4" height="2.4" fill="#2a2a2a"/>
<rect x="907.4" y="276.05" width="2.4" height="2.4" fill="#2a2a2a"/>
<circle cx="908.6" cy="284.95" r="1.2" fill="#2a2a2a"/>
<circle cx="908.6" cy="284.35" r="1.2" fill="#2a2a2a"/>
<circle cx="908.6" cy="284.55" r="1.2" fill="#2a2a2a"/>
<rect x="926.3" y="268.16" width="2.4" height="2.4" fill="#2a2a2a"/>
<rect x="926.3" y="267.29" width="2.4" height="2.4" fill="#2a2a2a"/>
<rect x="926.3" y="267.89" width="2.4" height="2.4" fill="#2a2a2a"/>
<circle cx="927.5" cy="271.42" r="1.2" fill="#2a2a2a"/>
<circle cx="927.5" cy="276.72" r="1.2" fill="#2a2a2a"/>
<circle cx="927.5" cy="271.02" r="1.2" fill="#2a2a2a"/>
<rect x="944.2" y="263.8" width="2.4" height="2.4" fill="#2a2a2a"/>
<rect x="944.2" y="266.1" width="2.4" height="2.4" fill="#2a2a2a"/>
<rect x="944.2" y="266.7" width="2.4" height="2.4" fill="#2a2a2a"/>
<circle cx="945.4" cy="276.3" r="1.2" fill="#2a2a2a"/>
<circle cx="945.4" cy="283.28" r="1.2" fill="#2a2a2a"/>
<circle cx="945.4" cy="283.7" r="1.2" fill="#2a2a2a"/>
<rect x="961" y="266.39" width="2.4" height="2.4" fill="#2a2a2a"/>
<rect x="961" y="265.71" width="2.4" height="2.4" fill="#2a2a2a"/>
<rect x="961" y="266.31" width="2.4" height="2.4" fill="#2a2a2a"/>
<circle cx="962.2" cy="301.04" r="1.2" fill="#2a2a2a"/>
<circle cx="962.2" cy="301.83" r="1.2" fill="#2a2a2a"/>
<circle cx="962.2" cy="301.05" r="1.2" fill="#2a2a2a"/>
</g>
</svg>
</body></html>
